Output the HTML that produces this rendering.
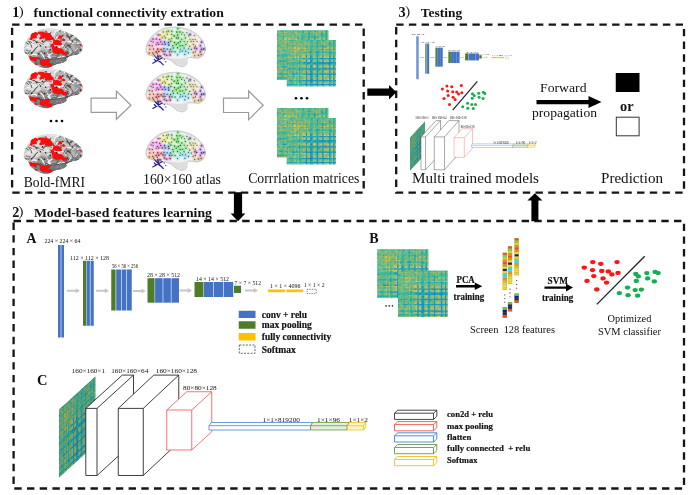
<!DOCTYPE html><html><head><meta charset="utf-8"><title>Figure</title>
<style>html,body{margin:0;padding:0;background:#fff}svg{display:block;filter:blur(0.4px)}text{font-family:'Liberation Serif','Noto Serif CJK SC',serif;fill:#111}</style></head><body>
<svg width="692" height="495" viewBox="0 0 692 495">
<rect width="692" height="495" fill="#fff"/>
<defs>
<symbol id="hm" viewBox="0 0 36 36" preserveAspectRatio="none">
<rect width="36" height="36" fill="#3bb09c"/>
<rect x="0" y="0" width="2.05" height="1.05" fill="#8b7"/>
<rect x="2" y="0" width="1.05" height="1.05" fill="#5b9"/>
<rect x="3" y="0" width="1.05" height="1.05" fill="#1ab"/>
<rect x="4" y="0" width="1.05" height="1.05" fill="#4b9"/>
<rect x="5" y="0" width="1.05" height="1.05" fill="#5b8"/>
<rect x="6" y="0" width="1.05" height="1.05" fill="#3b9"/>
<rect x="7" y="0" width="2.05" height="1.05" fill="#8b7"/>
<rect x="9" y="0" width="1.05" height="1.05" fill="#5b8"/>
<rect x="10" y="0" width="1.05" height="1.05" fill="#9b7"/>
<rect x="11" y="0" width="2.05" height="1.05" fill="#4b9"/>
<rect x="13" y="0" width="1.05" height="1.05" fill="#8b7"/>
<rect x="14" y="0" width="1.05" height="1.05" fill="#3b9"/>
<rect x="15" y="0" width="1.05" height="1.05" fill="#3ba"/>
<rect x="16" y="0" width="1.05" height="1.05" fill="#6b8"/>
<rect x="17" y="0" width="1.05" height="1.05" fill="#3b9"/>
<rect x="18" y="0" width="1.05" height="1.05" fill="#2aa"/>
<rect x="19" y="0" width="1.05" height="1.05" fill="#4b9"/>
<rect x="20" y="0" width="1.05" height="1.05" fill="#8b7"/>
<rect x="21" y="0" width="1.05" height="1.05" fill="#5b9"/>
<rect x="22" y="0" width="1.05" height="1.05" fill="#3ba"/>
<rect x="23" y="0" width="1.05" height="1.05" fill="#2ab"/>
<rect x="24" y="0" width="1.05" height="1.05" fill="#4b9"/>
<rect x="25" y="0" width="1.05" height="1.05" fill="#8b7"/>
<rect x="26" y="0" width="1.05" height="1.05" fill="#19c"/>
<rect x="27" y="0" width="1.05" height="1.05" fill="#6b8"/>
<rect x="28" y="0" width="1.05" height="1.05" fill="#5b8"/>
<rect x="29" y="0" width="1.05" height="1.05" fill="#9b7"/>
<rect x="30" y="0" width="1.05" height="1.05" fill="#7b8"/>
<rect x="31" y="0" width="1.05" height="1.05" fill="#7b7"/>
<rect x="32" y="0" width="2.05" height="1.05" fill="#7b8"/>
<rect x="34" y="0" width="1.05" height="1.05" fill="#1ab"/>
<rect x="35" y="0" width="1.05" height="1.05" fill="#5b8"/>
<rect x="0" y="1" width="1.05" height="1.05" fill="#8b7"/>
<rect x="1" y="1" width="1.05" height="1.05" fill="#9b7"/>
<rect x="2" y="1" width="2.05" height="1.05" fill="#8b7"/>
<rect x="4" y="1" width="1.05" height="1.05" fill="#6b8"/>
<rect x="5" y="1" width="2.05" height="1.05" fill="#ab6"/>
<rect x="7" y="1" width="1.05" height="1.05" fill="#9b6"/>
<rect x="8" y="1" width="1.05" height="1.05" fill="#7b7"/>
<rect x="9" y="1" width="1.05" height="1.05" fill="#9b6"/>
<rect x="10" y="1" width="2.05" height="1.05" fill="#4b9"/>
<rect x="12" y="1" width="2.05" height="1.05" fill="#bb6"/>
<rect x="14" y="1" width="1.05" height="1.05" fill="#7b7"/>
<rect x="15" y="1" width="1.05" height="1.05" fill="#6b8"/>
<rect x="16" y="1" width="1.05" height="1.05" fill="#7b7"/>
<rect x="17" y="1" width="1.05" height="1.05" fill="#9b6"/>
<rect x="18" y="1" width="1.05" height="1.05" fill="#1ab"/>
<rect x="19" y="1" width="1.05" height="1.05" fill="#ab6"/>
<rect x="20" y="1" width="1.05" height="1.05" fill="#9b7"/>
<rect x="21" y="1" width="1.05" height="1.05" fill="#7b7"/>
<rect x="22" y="1" width="1.05" height="1.05" fill="#3ba"/>
<rect x="23" y="1" width="1.05" height="1.05" fill="#7b7"/>
<rect x="24" y="1" width="1.05" height="1.05" fill="#9b7"/>
<rect x="25" y="1" width="1.05" height="1.05" fill="#ab6"/>
<rect x="26" y="1" width="1.05" height="1.05" fill="#8b7"/>
<rect x="27" y="1" width="1.05" height="1.05" fill="#9b6"/>
<rect x="28" y="1" width="1.05" height="1.05" fill="#4b9"/>
<rect x="29" y="1" width="1.05" height="1.05" fill="#bb6"/>
<rect x="30" y="1" width="1.05" height="1.05" fill="#ab6"/>
<rect x="31" y="1" width="1.05" height="1.05" fill="#3b9"/>
<rect x="32" y="1" width="1.05" height="1.05" fill="#8b7"/>
<rect x="33" y="1" width="1.05" height="1.05" fill="#bb6"/>
<rect x="34" y="1" width="1.05" height="1.05" fill="#0ac"/>
<rect x="35" y="1" width="1.05" height="1.05" fill="#cb5"/>
<rect x="0" y="2" width="1.05" height="1.05" fill="#5b9"/>
<rect x="1" y="2" width="1.05" height="1.05" fill="#8b7"/>
<rect x="2" y="2" width="1.05" height="1.05" fill="#ab6"/>
<rect x="3" y="2" width="1.05" height="1.05" fill="#5b8"/>
<rect x="4" y="2" width="1.05" height="1.05" fill="#4b9"/>
<rect x="5" y="2" width="1.05" height="1.05" fill="#ab6"/>
<rect x="6" y="2" width="1.05" height="1.05" fill="#7b8"/>
<rect x="7" y="2" width="1.05" height="1.05" fill="#5b8"/>
<rect x="8" y="2" width="1.05" height="1.05" fill="#9b7"/>
<rect x="9" y="2" width="1.05" height="1.05" fill="#6b8"/>
<rect x="10" y="2" width="1.05" height="1.05" fill="#8b7"/>
<rect x="11" y="2" width="1.05" height="1.05" fill="#5b9"/>
<rect x="12" y="2" width="1.05" height="1.05" fill="#5b8"/>
<rect x="13" y="2" width="1.05" height="1.05" fill="#ab6"/>
<rect x="14" y="2" width="1.05" height="1.05" fill="#bb6"/>
<rect x="15" y="2" width="1.05" height="1.05" fill="#7b8"/>
<rect x="16" y="2" width="1.05" height="1.05" fill="#ab6"/>
<rect x="17" y="2" width="1.05" height="1.05" fill="#4b9"/>
<rect x="18" y="2" width="1.05" height="1.05" fill="#6b8"/>
<rect x="19" y="2" width="1.05" height="1.05" fill="#7b8"/>
<rect x="20" y="2" width="2.05" height="1.05" fill="#6b8"/>
<rect x="22" y="2" width="1.05" height="1.05" fill="#18c"/>
<rect x="23" y="2" width="1.05" height="1.05" fill="#7b8"/>
<rect x="24" y="2" width="1.05" height="1.05" fill="#3ba"/>
<rect x="25" y="2" width="1.05" height="1.05" fill="#7b8"/>
<rect x="26" y="2" width="1.05" height="1.05" fill="#6b8"/>
<rect x="27" y="2" width="1.05" height="1.05" fill="#ab6"/>
<rect x="28" y="2" width="1.05" height="1.05" fill="#7b8"/>
<rect x="29" y="2" width="1.05" height="1.05" fill="#8b7"/>
<rect x="30" y="2" width="1.05" height="1.05" fill="#4b9"/>
<rect x="31" y="2" width="1.05" height="1.05" fill="#2ab"/>
<rect x="32" y="2" width="1.05" height="1.05" fill="#6b8"/>
<rect x="33" y="2" width="1.05" height="1.05" fill="#8b7"/>
<rect x="34" y="2" width="1.05" height="1.05" fill="#1ab"/>
<rect x="35" y="2" width="1.05" height="1.05" fill="#6b8"/>
<rect x="0" y="3" width="1.05" height="1.05" fill="#1ab"/>
<rect x="1" y="3" width="1.05" height="1.05" fill="#8b7"/>
<rect x="2" y="3" width="1.05" height="1.05" fill="#5b8"/>
<rect x="3" y="3" width="1.05" height="1.05" fill="#db4"/>
<rect x="4" y="3" width="2.05" height="1.05" fill="#8b7"/>
<rect x="6" y="3" width="1.05" height="1.05" fill="#bb6"/>
<rect x="7" y="3" width="1.05" height="1.05" fill="#6b8"/>
<rect x="8" y="3" width="1.05" height="1.05" fill="#9b6"/>
<rect x="9" y="3" width="1.05" height="1.05" fill="#ab6"/>
<rect x="10" y="3" width="1.05" height="1.05" fill="#8b7"/>
<rect x="11" y="3" width="1.05" height="1.05" fill="#bb6"/>
<rect x="12" y="3" width="1.05" height="1.05" fill="#5b8"/>
<rect x="13" y="3" width="1.05" height="1.05" fill="#bb6"/>
<rect x="14" y="3" width="1.05" height="1.05" fill="#6b8"/>
<rect x="15" y="3" width="1.05" height="1.05" fill="#9b7"/>
<rect x="16" y="3" width="1.05" height="1.05" fill="#ab6"/>
<rect x="17" y="3" width="2.05" height="1.05" fill="#4b9"/>
<rect x="19" y="3" width="1.05" height="1.05" fill="#6b8"/>
<rect x="20" y="3" width="1.05" height="1.05" fill="#7b7"/>
<rect x="21" y="3" width="1.05" height="1.05" fill="#9b7"/>
<rect x="22" y="3" width="1.05" height="1.05" fill="#3ba"/>
<rect x="23" y="3" width="1.05" height="1.05" fill="#8b7"/>
<rect x="24" y="3" width="1.05" height="1.05" fill="#7b7"/>
<rect x="25" y="3" width="1.05" height="1.05" fill="#8b7"/>
<rect x="26" y="3" width="1.05" height="1.05" fill="#5b8"/>
<rect x="27" y="3" width="1.05" height="1.05" fill="#bb6"/>
<rect x="28" y="3" width="1.05" height="1.05" fill="#7b7"/>
<rect x="29" y="3" width="1.05" height="1.05" fill="#ab6"/>
<rect x="30" y="3" width="1.05" height="1.05" fill="#9b6"/>
<rect x="31" y="3" width="1.05" height="1.05" fill="#09c"/>
<rect x="32" y="3" width="1.05" height="1.05" fill="#7b7"/>
<rect x="33" y="3" width="1.05" height="1.05" fill="#4b9"/>
<rect x="34" y="3" width="1.05" height="1.05" fill="#1ab"/>
<rect x="35" y="3" width="1.05" height="1.05" fill="#bb6"/>
<rect x="0" y="4" width="1.05" height="1.05" fill="#4b9"/>
<rect x="1" y="4" width="1.05" height="1.05" fill="#6b8"/>
<rect x="2" y="4" width="1.05" height="1.05" fill="#4b9"/>
<rect x="3" y="4" width="1.05" height="1.05" fill="#8b7"/>
<rect x="4" y="4" width="1.05" height="1.05" fill="#1ab"/>
<rect x="5" y="4" width="1.05" height="1.05" fill="#6b8"/>
<rect x="6" y="4" width="1.05" height="1.05" fill="#2ba"/>
<rect x="7" y="4" width="1.05" height="1.05" fill="#9b6"/>
<rect x="8" y="4" width="1.05" height="1.05" fill="#8b7"/>
<rect x="9" y="4" width="1.05" height="1.05" fill="#3b9"/>
<rect x="10" y="4" width="1.05" height="1.05" fill="#7b7"/>
<rect x="11" y="4" width="1.05" height="1.05" fill="#ab6"/>
<rect x="12" y="4" width="1.05" height="1.05" fill="#3b9"/>
<rect x="13" y="4" width="1.05" height="1.05" fill="#8b7"/>
<rect x="14" y="4" width="1.05" height="1.05" fill="#4b9"/>
<rect x="15" y="4" width="2.05" height="1.05" fill="#7b8"/>
<rect x="17" y="4" width="1.05" height="1.05" fill="#4b9"/>
<rect x="18" y="4" width="1.05" height="1.05" fill="#2ba"/>
<rect x="19" y="4" width="1.05" height="1.05" fill="#4b9"/>
<rect x="20" y="4" width="1.05" height="1.05" fill="#6b8"/>
<rect x="21" y="4" width="1.05" height="1.05" fill="#4b9"/>
<rect x="22" y="4" width="1.05" height="1.05" fill="#1ab"/>
<rect x="23" y="4" width="1.05" height="1.05" fill="#5b9"/>
<rect x="24" y="4" width="1.05" height="1.05" fill="#3b9"/>
<rect x="25" y="4" width="1.05" height="1.05" fill="#2ba"/>
<rect x="26" y="4" width="1.05" height="1.05" fill="#19c"/>
<rect x="27" y="4" width="1.05" height="1.05" fill="#6b8"/>
<rect x="28" y="4" width="1.05" height="1.05" fill="#5b9"/>
<rect x="29" y="4" width="1.05" height="1.05" fill="#3ba"/>
<rect x="30" y="4" width="3.05" height="1.05" fill="#4b9"/>
<rect x="33" y="4" width="2.05" height="1.05" fill="#3ba"/>
<rect x="35" y="4" width="1.05" height="1.05" fill="#4b9"/>
<rect x="0" y="5" width="1.05" height="1.05" fill="#5b8"/>
<rect x="1" y="5" width="2.05" height="1.05" fill="#ab6"/>
<rect x="3" y="5" width="1.05" height="1.05" fill="#8b7"/>
<rect x="4" y="5" width="1.05" height="1.05" fill="#6b8"/>
<rect x="5" y="5" width="1.05" height="1.05" fill="#db4"/>
<rect x="6" y="5" width="1.05" height="1.05" fill="#fc3"/>
<rect x="7" y="5" width="1.05" height="1.05" fill="#6b8"/>
<rect x="8" y="5" width="1.05" height="1.05" fill="#db5"/>
<rect x="9" y="5" width="1.05" height="1.05" fill="#8b7"/>
<rect x="10" y="5" width="1.05" height="1.05" fill="#bb6"/>
<rect x="11" y="5" width="1.05" height="1.05" fill="#9b7"/>
<rect x="12" y="5" width="1.05" height="1.05" fill="#8b7"/>
<rect x="13" y="5" width="1.05" height="1.05" fill="#bb6"/>
<rect x="14" y="5" width="1.05" height="1.05" fill="#1ab"/>
<rect x="15" y="5" width="2.05" height="1.05" fill="#8b7"/>
<rect x="17" y="5" width="1.05" height="1.05" fill="#3ba"/>
<rect x="18" y="5" width="1.05" height="1.05" fill="#3b9"/>
<rect x="19" y="5" width="1.05" height="1.05" fill="#6b8"/>
<rect x="20" y="5" width="1.05" height="1.05" fill="#8b7"/>
<rect x="21" y="5" width="1.05" height="1.05" fill="#7b7"/>
<rect x="22" y="5" width="1.05" height="1.05" fill="#2aa"/>
<rect x="23" y="5" width="1.05" height="1.05" fill="#ab6"/>
<rect x="24" y="5" width="1.05" height="1.05" fill="#5b9"/>
<rect x="25" y="5" width="1.05" height="1.05" fill="#8b7"/>
<rect x="26" y="5" width="1.05" height="1.05" fill="#19c"/>
<rect x="27" y="5" width="1.05" height="1.05" fill="#7b7"/>
<rect x="28" y="5" width="1.05" height="1.05" fill="#1ab"/>
<rect x="29" y="5" width="2.05" height="1.05" fill="#cb6"/>
<rect x="31" y="5" width="1.05" height="1.05" fill="#4b9"/>
<rect x="32" y="5" width="1.05" height="1.05" fill="#7b7"/>
<rect x="33" y="5" width="1.05" height="1.05" fill="#db5"/>
<rect x="34" y="5" width="1.05" height="1.05" fill="#1ab"/>
<rect x="35" y="5" width="1.05" height="1.05" fill="#db4"/>
<rect x="0" y="6" width="1.05" height="1.05" fill="#3b9"/>
<rect x="1" y="6" width="1.05" height="1.05" fill="#ab6"/>
<rect x="2" y="6" width="1.05" height="1.05" fill="#7b8"/>
<rect x="3" y="6" width="1.05" height="1.05" fill="#bb6"/>
<rect x="4" y="6" width="1.05" height="1.05" fill="#2ba"/>
<rect x="5" y="6" width="1.05" height="1.05" fill="#fc3"/>
<rect x="6" y="6" width="1.05" height="1.05" fill="#db5"/>
<rect x="7" y="6" width="1.05" height="1.05" fill="#6b8"/>
<rect x="8" y="6" width="1.05" height="1.05" fill="#fc3"/>
<rect x="9" y="6" width="2.05" height="1.05" fill="#ab6"/>
<rect x="11" y="6" width="1.05" height="1.05" fill="#9b7"/>
<rect x="12" y="6" width="1.05" height="1.05" fill="#ab6"/>
<rect x="13" y="6" width="1.05" height="1.05" fill="#fc3"/>
<rect x="14" y="6" width="1.05" height="1.05" fill="#6b8"/>
<rect x="15" y="6" width="1.05" height="1.05" fill="#8b7"/>
<rect x="16" y="6" width="1.05" height="1.05" fill="#9b7"/>
<rect x="17" y="6" width="1.05" height="1.05" fill="#2aa"/>
<rect x="18" y="6" width="2.05" height="1.05" fill="#6b8"/>
<rect x="20" y="6" width="1.05" height="1.05" fill="#ab6"/>
<rect x="21" y="6" width="2.05" height="1.05" fill="#4b9"/>
<rect x="23" y="6" width="1.05" height="1.05" fill="#8b7"/>
<rect x="24" y="6" width="1.05" height="1.05" fill="#ab6"/>
<rect x="25" y="6" width="1.05" height="1.05" fill="#bb6"/>
<rect x="26" y="6" width="1.05" height="1.05" fill="#1ab"/>
<rect x="27" y="6" width="1.05" height="1.05" fill="#eb4"/>
<rect x="28" y="6" width="1.05" height="1.05" fill="#ab6"/>
<rect x="29" y="6" width="2.05" height="1.05" fill="#bb6"/>
<rect x="31" y="6" width="1.05" height="1.05" fill="#2ba"/>
<rect x="32" y="6" width="1.05" height="1.05" fill="#cb5"/>
<rect x="33" y="6" width="1.05" height="1.05" fill="#bb6"/>
<rect x="34" y="6" width="1.05" height="1.05" fill="#1ab"/>
<rect x="35" y="6" width="1.05" height="1.05" fill="#ab6"/>
<rect x="0" y="7" width="1.05" height="1.05" fill="#8b7"/>
<rect x="1" y="7" width="1.05" height="1.05" fill="#9b6"/>
<rect x="2" y="7" width="1.05" height="1.05" fill="#5b8"/>
<rect x="3" y="7" width="1.05" height="1.05" fill="#6b8"/>
<rect x="4" y="7" width="1.05" height="1.05" fill="#9b6"/>
<rect x="5" y="7" width="2.05" height="1.05" fill="#6b8"/>
<rect x="7" y="7" width="1.05" height="1.05" fill="#cb5"/>
<rect x="8" y="7" width="1.05" height="1.05" fill="#8b7"/>
<rect x="9" y="7" width="1.05" height="1.05" fill="#ab6"/>
<rect x="10" y="7" width="1.05" height="1.05" fill="#3b9"/>
<rect x="11" y="7" width="2.05" height="1.05" fill="#4b9"/>
<rect x="13" y="7" width="1.05" height="1.05" fill="#ab6"/>
<rect x="14" y="7" width="1.05" height="1.05" fill="#2ba"/>
<rect x="15" y="7" width="1.05" height="1.05" fill="#6b8"/>
<rect x="16" y="7" width="1.05" height="1.05" fill="#4b9"/>
<rect x="17" y="7" width="1.05" height="1.05" fill="#6b8"/>
<rect x="18" y="7" width="1.05" height="1.05" fill="#3b9"/>
<rect x="19" y="7" width="1.05" height="1.05" fill="#5b9"/>
<rect x="20" y="7" width="2.05" height="1.05" fill="#6b8"/>
<rect x="22" y="7" width="1.05" height="1.05" fill="#7b8"/>
<rect x="23" y="7" width="1.05" height="1.05" fill="#5b8"/>
<rect x="24" y="7" width="1.05" height="1.05" fill="#6b8"/>
<rect x="25" y="7" width="1.05" height="1.05" fill="#0ac"/>
<rect x="26" y="7" width="1.05" height="1.05" fill="#2ab"/>
<rect x="27" y="7" width="1.05" height="1.05" fill="#bb6"/>
<rect x="28" y="7" width="1.05" height="1.05" fill="#4b9"/>
<rect x="29" y="7" width="1.05" height="1.05" fill="#7b7"/>
<rect x="30" y="7" width="1.05" height="1.05" fill="#4b9"/>
<rect x="31" y="7" width="1.05" height="1.05" fill="#3ba"/>
<rect x="32" y="7" width="2.05" height="1.05" fill="#5b8"/>
<rect x="34" y="7" width="1.05" height="1.05" fill="#3ba"/>
<rect x="35" y="7" width="1.05" height="1.05" fill="#6b8"/>
<rect x="0" y="8" width="1.05" height="1.05" fill="#8b7"/>
<rect x="1" y="8" width="1.05" height="1.05" fill="#7b7"/>
<rect x="2" y="8" width="1.05" height="1.05" fill="#9b7"/>
<rect x="3" y="8" width="1.05" height="1.05" fill="#9b6"/>
<rect x="4" y="8" width="1.05" height="1.05" fill="#8b7"/>
<rect x="5" y="8" width="1.05" height="1.05" fill="#db5"/>
<rect x="6" y="8" width="1.05" height="1.05" fill="#fc3"/>
<rect x="7" y="8" width="1.05" height="1.05" fill="#8b7"/>
<rect x="8" y="8" width="1.05" height="1.05" fill="#fc3"/>
<rect x="9" y="8" width="1.05" height="1.05" fill="#6b8"/>
<rect x="10" y="8" width="1.05" height="1.05" fill="#9b7"/>
<rect x="11" y="8" width="1.05" height="1.05" fill="#8b7"/>
<rect x="12" y="8" width="1.05" height="1.05" fill="#bb6"/>
<rect x="13" y="8" width="1.05" height="1.05" fill="#fc3"/>
<rect x="14" y="8" width="1.05" height="1.05" fill="#bb6"/>
<rect x="15" y="8" width="1.05" height="1.05" fill="#cb6"/>
<rect x="16" y="8" width="1.05" height="1.05" fill="#ab6"/>
<rect x="17" y="8" width="1.05" height="1.05" fill="#3ba"/>
<rect x="18" y="8" width="1.05" height="1.05" fill="#2aa"/>
<rect x="19" y="8" width="1.05" height="1.05" fill="#cb5"/>
<rect x="20" y="8" width="1.05" height="1.05" fill="#9b6"/>
<rect x="21" y="8" width="1.05" height="1.05" fill="#9b7"/>
<rect x="22" y="8" width="1.05" height="1.05" fill="#3b9"/>
<rect x="23" y="8" width="1.05" height="1.05" fill="#7b7"/>
<rect x="24" y="8" width="1.05" height="1.05" fill="#ab6"/>
<rect x="25" y="8" width="1.05" height="1.05" fill="#db5"/>
<rect x="26" y="8" width="1.05" height="1.05" fill="#3b9"/>
<rect x="27" y="8" width="1.05" height="1.05" fill="#cb5"/>
<rect x="28" y="8" width="1.05" height="1.05" fill="#ab6"/>
<rect x="29" y="8" width="1.05" height="1.05" fill="#bb6"/>
<rect x="30" y="8" width="1.05" height="1.05" fill="#ab6"/>
<rect x="31" y="8" width="1.05" height="1.05" fill="#3ba"/>
<rect x="32" y="8" width="1.05" height="1.05" fill="#ab6"/>
<rect x="33" y="8" width="1.05" height="1.05" fill="#eb4"/>
<rect x="34" y="8" width="1.05" height="1.05" fill="#4b9"/>
<rect x="35" y="8" width="1.05" height="1.05" fill="#fc3"/>
<rect x="0" y="9" width="1.05" height="1.05" fill="#5b8"/>
<rect x="1" y="9" width="1.05" height="1.05" fill="#9b6"/>
<rect x="2" y="9" width="1.05" height="1.05" fill="#6b8"/>
<rect x="3" y="9" width="1.05" height="1.05" fill="#ab6"/>
<rect x="4" y="9" width="1.05" height="1.05" fill="#3b9"/>
<rect x="5" y="9" width="1.05" height="1.05" fill="#8b7"/>
<rect x="6" y="9" width="2.05" height="1.05" fill="#ab6"/>
<rect x="8" y="9" width="1.05" height="1.05" fill="#6b8"/>
<rect x="9" y="9" width="1.05" height="1.05" fill="#4b9"/>
<rect x="10" y="9" width="1.05" height="1.05" fill="#7b7"/>
<rect x="11" y="9" width="1.05" height="1.05" fill="#8b7"/>
<rect x="12" y="9" width="1.05" height="1.05" fill="#5b8"/>
<rect x="13" y="9" width="1.05" height="1.05" fill="#3ba"/>
<rect x="14" y="9" width="1.05" height="1.05" fill="#1ab"/>
<rect x="15" y="9" width="1.05" height="1.05" fill="#8b7"/>
<rect x="16" y="9" width="1.05" height="1.05" fill="#2aa"/>
<rect x="17" y="9" width="1.05" height="1.05" fill="#19c"/>
<rect x="18" y="9" width="1.05" height="1.05" fill="#3b9"/>
<rect x="19" y="9" width="1.05" height="1.05" fill="#7b7"/>
<rect x="20" y="9" width="1.05" height="1.05" fill="#5b8"/>
<rect x="21" y="9" width="1.05" height="1.05" fill="#2ab"/>
<rect x="22" y="9" width="1.05" height="1.05" fill="#18c"/>
<rect x="23" y="9" width="1.05" height="1.05" fill="#19c"/>
<rect x="24" y="9" width="1.05" height="1.05" fill="#4b9"/>
<rect x="25" y="9" width="1.05" height="1.05" fill="#2ba"/>
<rect x="26" y="9" width="1.05" height="1.05" fill="#2aa"/>
<rect x="27" y="9" width="1.05" height="1.05" fill="#4b9"/>
<rect x="28" y="9" width="1.05" height="1.05" fill="#2ab"/>
<rect x="29" y="9" width="2.05" height="1.05" fill="#3b9"/>
<rect x="31" y="9" width="2.05" height="1.05" fill="#1ab"/>
<rect x="33" y="9" width="3.05" height="1.05" fill="#4b9"/>
<rect x="0" y="10" width="1.05" height="1.05" fill="#9b7"/>
<rect x="1" y="10" width="1.05" height="1.05" fill="#4b9"/>
<rect x="2" y="10" width="2.05" height="1.05" fill="#8b7"/>
<rect x="4" y="10" width="1.05" height="1.05" fill="#7b7"/>
<rect x="5" y="10" width="1.05" height="1.05" fill="#bb6"/>
<rect x="6" y="10" width="1.05" height="1.05" fill="#ab6"/>
<rect x="7" y="10" width="1.05" height="1.05" fill="#3b9"/>
<rect x="8" y="10" width="1.05" height="1.05" fill="#9b7"/>
<rect x="9" y="10" width="2.05" height="1.05" fill="#7b7"/>
<rect x="11" y="10" width="1.05" height="1.05" fill="#8b7"/>
<rect x="12" y="10" width="1.05" height="1.05" fill="#6b8"/>
<rect x="13" y="10" width="1.05" height="1.05" fill="#ab6"/>
<rect x="14" y="10" width="1.05" height="1.05" fill="#6b8"/>
<rect x="15" y="10" width="1.05" height="1.05" fill="#bb6"/>
<rect x="16" y="10" width="1.05" height="1.05" fill="#4b9"/>
<rect x="17" y="10" width="1.05" height="1.05" fill="#6b8"/>
<rect x="18" y="10" width="1.05" height="1.05" fill="#3ba"/>
<rect x="19" y="10" width="1.05" height="1.05" fill="#8b7"/>
<rect x="20" y="10" width="1.05" height="1.05" fill="#ab6"/>
<rect x="21" y="10" width="1.05" height="1.05" fill="#5b8"/>
<rect x="22" y="10" width="1.05" height="1.05" fill="#4b9"/>
<rect x="23" y="10" width="1.05" height="1.05" fill="#7b7"/>
<rect x="24" y="10" width="1.05" height="1.05" fill="#ab6"/>
<rect x="25" y="10" width="1.05" height="1.05" fill="#7b7"/>
<rect x="26" y="10" width="1.05" height="1.05" fill="#7b8"/>
<rect x="27" y="10" width="2.05" height="1.05" fill="#9b7"/>
<rect x="29" y="10" width="2.05" height="1.05" fill="#8b7"/>
<rect x="31" y="10" width="1.05" height="1.05" fill="#1ab"/>
<rect x="32" y="10" width="1.05" height="1.05" fill="#2ba"/>
<rect x="33" y="10" width="1.05" height="1.05" fill="#7b7"/>
<rect x="34" y="10" width="1.05" height="1.05" fill="#1ab"/>
<rect x="35" y="10" width="1.05" height="1.05" fill="#8b7"/>
<rect x="0" y="11" width="2.05" height="1.05" fill="#4b9"/>
<rect x="2" y="11" width="1.05" height="1.05" fill="#5b9"/>
<rect x="3" y="11" width="1.05" height="1.05" fill="#bb6"/>
<rect x="4" y="11" width="1.05" height="1.05" fill="#ab6"/>
<rect x="5" y="11" width="2.05" height="1.05" fill="#9b7"/>
<rect x="7" y="11" width="1.05" height="1.05" fill="#4b9"/>
<rect x="8" y="11" width="3.05" height="1.05" fill="#8b7"/>
<rect x="11" y="11" width="1.05" height="1.05" fill="#9b6"/>
<rect x="12" y="11" width="1.05" height="1.05" fill="#db5"/>
<rect x="13" y="11" width="1.05" height="1.05" fill="#9b7"/>
<rect x="14" y="11" width="1.05" height="1.05" fill="#3ba"/>
<rect x="15" y="11" width="2.05" height="1.05" fill="#cb5"/>
<rect x="17" y="11" width="1.05" height="1.05" fill="#2ba"/>
<rect x="18" y="11" width="1.05" height="1.05" fill="#4b9"/>
<rect x="19" y="11" width="1.05" height="1.05" fill="#9b7"/>
<rect x="20" y="11" width="1.05" height="1.05" fill="#ab6"/>
<rect x="21" y="11" width="1.05" height="1.05" fill="#6b8"/>
<rect x="22" y="11" width="1.05" height="1.05" fill="#2aa"/>
<rect x="23" y="11" width="1.05" height="1.05" fill="#3ba"/>
<rect x="24" y="11" width="1.05" height="1.05" fill="#5b8"/>
<rect x="25" y="11" width="1.05" height="1.05" fill="#8b7"/>
<rect x="26" y="11" width="1.05" height="1.05" fill="#5b8"/>
<rect x="27" y="11" width="1.05" height="1.05" fill="#ab6"/>
<rect x="28" y="11" width="1.05" height="1.05" fill="#7b8"/>
<rect x="29" y="11" width="1.05" height="1.05" fill="#6b8"/>
<rect x="30" y="11" width="1.05" height="1.05" fill="#ab6"/>
<rect x="31" y="11" width="1.05" height="1.05" fill="#3b9"/>
<rect x="32" y="11" width="1.05" height="1.05" fill="#8b7"/>
<rect x="33" y="11" width="1.05" height="1.05" fill="#ab6"/>
<rect x="34" y="11" width="1.05" height="1.05" fill="#2ab"/>
<rect x="35" y="11" width="1.05" height="1.05" fill="#bb6"/>
<rect x="0" y="12" width="1.05" height="1.05" fill="#4b9"/>
<rect x="1" y="12" width="1.05" height="1.05" fill="#bb6"/>
<rect x="2" y="12" width="2.05" height="1.05" fill="#5b8"/>
<rect x="4" y="12" width="1.05" height="1.05" fill="#3b9"/>
<rect x="5" y="12" width="1.05" height="1.05" fill="#8b7"/>
<rect x="6" y="12" width="1.05" height="1.05" fill="#ab6"/>
<rect x="7" y="12" width="1.05" height="1.05" fill="#4b9"/>
<rect x="8" y="12" width="1.05" height="1.05" fill="#bb6"/>
<rect x="9" y="12" width="1.05" height="1.05" fill="#5b8"/>
<rect x="10" y="12" width="1.05" height="1.05" fill="#6b8"/>
<rect x="11" y="12" width="1.05" height="1.05" fill="#db5"/>
<rect x="12" y="12" width="1.05" height="1.05" fill="#ec3"/>
<rect x="13" y="12" width="1.05" height="1.05" fill="#eb4"/>
<rect x="14" y="12" width="1.05" height="1.05" fill="#18c"/>
<rect x="15" y="12" width="2.05" height="1.05" fill="#cb5"/>
<rect x="17" y="12" width="1.05" height="1.05" fill="#09c"/>
<rect x="18" y="12" width="1.05" height="1.05" fill="#3ba"/>
<rect x="19" y="12" width="1.05" height="1.05" fill="#9b7"/>
<rect x="20" y="12" width="1.05" height="1.05" fill="#ab6"/>
<rect x="21" y="12" width="1.05" height="1.05" fill="#8b7"/>
<rect x="22" y="12" width="1.05" height="1.05" fill="#19c"/>
<rect x="23" y="12" width="1.05" height="1.05" fill="#ab6"/>
<rect x="24" y="12" width="1.05" height="1.05" fill="#bb6"/>
<rect x="25" y="12" width="1.05" height="1.05" fill="#db5"/>
<rect x="26" y="12" width="1.05" height="1.05" fill="#19c"/>
<rect x="27" y="12" width="1.05" height="1.05" fill="#cb6"/>
<rect x="28" y="12" width="1.05" height="1.05" fill="#bb6"/>
<rect x="29" y="12" width="2.05" height="1.05" fill="#ab6"/>
<rect x="31" y="12" width="1.05" height="1.05" fill="#17d"/>
<rect x="32" y="12" width="1.05" height="1.05" fill="#bb6"/>
<rect x="33" y="12" width="1.05" height="1.05" fill="#9b7"/>
<rect x="34" y="12" width="1.05" height="1.05" fill="#1ac"/>
<rect x="35" y="12" width="1.05" height="1.05" fill="#cb5"/>
<rect x="0" y="13" width="1.05" height="1.05" fill="#8b7"/>
<rect x="1" y="13" width="1.05" height="1.05" fill="#bb6"/>
<rect x="2" y="13" width="1.05" height="1.05" fill="#ab6"/>
<rect x="3" y="13" width="1.05" height="1.05" fill="#bb6"/>
<rect x="4" y="13" width="1.05" height="1.05" fill="#8b7"/>
<rect x="5" y="13" width="1.05" height="1.05" fill="#bb6"/>
<rect x="6" y="13" width="1.05" height="1.05" fill="#fc3"/>
<rect x="7" y="13" width="1.05" height="1.05" fill="#ab6"/>
<rect x="8" y="13" width="1.05" height="1.05" fill="#fc3"/>
<rect x="9" y="13" width="1.05" height="1.05" fill="#3ba"/>
<rect x="10" y="13" width="1.05" height="1.05" fill="#ab6"/>
<rect x="11" y="13" width="1.05" height="1.05" fill="#9b7"/>
<rect x="12" y="13" width="1.05" height="1.05" fill="#eb4"/>
<rect x="13" y="13" width="1.05" height="1.05" fill="#fc3"/>
<rect x="14" y="13" width="1.05" height="1.05" fill="#19c"/>
<rect x="15" y="13" width="1.05" height="1.05" fill="#fc3"/>
<rect x="16" y="13" width="1.05" height="1.05" fill="#db4"/>
<rect x="17" y="13" width="1.05" height="1.05" fill="#09c"/>
<rect x="18" y="13" width="1.05" height="1.05" fill="#1ab"/>
<rect x="19" y="13" width="1.05" height="1.05" fill="#cb5"/>
<rect x="20" y="13" width="1.05" height="1.05" fill="#eb4"/>
<rect x="21" y="13" width="1.05" height="1.05" fill="#9b7"/>
<rect x="22" y="13" width="1.05" height="1.05" fill="#2aa"/>
<rect x="23" y="13" width="1.05" height="1.05" fill="#bb6"/>
<rect x="24" y="13" width="1.05" height="1.05" fill="#9b7"/>
<rect x="25" y="13" width="1.05" height="1.05" fill="#cb5"/>
<rect x="26" y="13" width="1.05" height="1.05" fill="#1ac"/>
<rect x="27" y="13" width="1.05" height="1.05" fill="#fc3"/>
<rect x="28" y="13" width="1.05" height="1.05" fill="#bb6"/>
<rect x="29" y="13" width="1.05" height="1.05" fill="#cb5"/>
<rect x="30" y="13" width="1.05" height="1.05" fill="#fc3"/>
<rect x="31" y="13" width="1.05" height="1.05" fill="#0ac"/>
<rect x="32" y="13" width="2.05" height="1.05" fill="#ab6"/>
<rect x="34" y="13" width="1.05" height="1.05" fill="#09c"/>
<rect x="35" y="13" width="1.05" height="1.05" fill="#fc3"/>
<rect x="0" y="14" width="1.05" height="1.05" fill="#3b9"/>
<rect x="1" y="14" width="1.05" height="1.05" fill="#7b7"/>
<rect x="2" y="14" width="1.05" height="1.05" fill="#bb6"/>
<rect x="3" y="14" width="1.05" height="1.05" fill="#6b8"/>
<rect x="4" y="14" width="1.05" height="1.05" fill="#4b9"/>
<rect x="5" y="14" width="1.05" height="1.05" fill="#1ab"/>
<rect x="6" y="14" width="1.05" height="1.05" fill="#6b8"/>
<rect x="7" y="14" width="1.05" height="1.05" fill="#2ba"/>
<rect x="8" y="14" width="1.05" height="1.05" fill="#bb6"/>
<rect x="9" y="14" width="1.05" height="1.05" fill="#1ab"/>
<rect x="10" y="14" width="1.05" height="1.05" fill="#6b8"/>
<rect x="11" y="14" width="1.05" height="1.05" fill="#3ba"/>
<rect x="12" y="14" width="1.05" height="1.05" fill="#18c"/>
<rect x="13" y="14" width="1.05" height="1.05" fill="#19c"/>
<rect x="14" y="14" width="1.05" height="1.05" fill="#4b9"/>
<rect x="15" y="14" width="1.05" height="1.05" fill="#2aa"/>
<rect x="16" y="14" width="1.05" height="1.05" fill="#19c"/>
<rect x="17" y="14" width="1.05" height="1.05" fill="#0ac"/>
<rect x="18" y="14" width="1.05" height="1.05" fill="#2ab"/>
<rect x="19" y="14" width="1.05" height="1.05" fill="#19c"/>
<rect x="20" y="14" width="1.05" height="1.05" fill="#3ba"/>
<rect x="21" y="14" width="1.05" height="1.05" fill="#1ac"/>
<rect x="22" y="14" width="1.05" height="1.05" fill="#19c"/>
<rect x="23" y="14" width="1.05" height="1.05" fill="#2ab"/>
<rect x="24" y="14" width="1.05" height="1.05" fill="#19c"/>
<rect x="25" y="14" width="1.05" height="1.05" fill="#17d"/>
<rect x="26" y="14" width="2.05" height="1.05" fill="#19c"/>
<rect x="28" y="14" width="1.05" height="1.05" fill="#1ab"/>
<rect x="29" y="14" width="1.05" height="1.05" fill="#2ab"/>
<rect x="30" y="14" width="2.05" height="1.05" fill="#09c"/>
<rect x="32" y="14" width="1.05" height="1.05" fill="#18c"/>
<rect x="33" y="14" width="1.05" height="1.05" fill="#09c"/>
<rect x="34" y="14" width="1.05" height="1.05" fill="#19c"/>
<rect x="35" y="14" width="1.05" height="1.05" fill="#18c"/>
<rect x="0" y="15" width="1.05" height="1.05" fill="#3ba"/>
<rect x="1" y="15" width="1.05" height="1.05" fill="#6b8"/>
<rect x="2" y="15" width="1.05" height="1.05" fill="#7b8"/>
<rect x="3" y="15" width="1.05" height="1.05" fill="#9b7"/>
<rect x="4" y="15" width="1.05" height="1.05" fill="#7b8"/>
<rect x="5" y="15" width="2.05" height="1.05" fill="#8b7"/>
<rect x="7" y="15" width="1.05" height="1.05" fill="#6b8"/>
<rect x="8" y="15" width="1.05" height="1.05" fill="#cb6"/>
<rect x="9" y="15" width="1.05" height="1.05" fill="#8b7"/>
<rect x="10" y="15" width="1.05" height="1.05" fill="#bb6"/>
<rect x="11" y="15" width="2.05" height="1.05" fill="#cb5"/>
<rect x="13" y="15" width="1.05" height="1.05" fill="#fc3"/>
<rect x="14" y="15" width="1.05" height="1.05" fill="#2aa"/>
<rect x="15" y="15" width="1.05" height="1.05" fill="#9b7"/>
<rect x="16" y="15" width="1.05" height="1.05" fill="#fc3"/>
<rect x="17" y="15" width="2.05" height="1.05" fill="#19c"/>
<rect x="19" y="15" width="1.05" height="1.05" fill="#8b7"/>
<rect x="20" y="15" width="1.05" height="1.05" fill="#ab6"/>
<rect x="21" y="15" width="1.05" height="1.05" fill="#bb6"/>
<rect x="22" y="15" width="1.05" height="1.05" fill="#1ab"/>
<rect x="23" y="15" width="1.05" height="1.05" fill="#bb6"/>
<rect x="24" y="15" width="1.05" height="1.05" fill="#cb5"/>
<rect x="25" y="15" width="1.05" height="1.05" fill="#bb6"/>
<rect x="26" y="15" width="1.05" height="1.05" fill="#19c"/>
<rect x="27" y="15" width="1.05" height="1.05" fill="#cb5"/>
<rect x="28" y="15" width="1.05" height="1.05" fill="#ab6"/>
<rect x="29" y="15" width="1.05" height="1.05" fill="#cb5"/>
<rect x="30" y="15" width="1.05" height="1.05" fill="#ab6"/>
<rect x="31" y="15" width="1.05" height="1.05" fill="#18c"/>
<rect x="32" y="15" width="1.05" height="1.05" fill="#ab6"/>
<rect x="33" y="15" width="1.05" height="1.05" fill="#cb5"/>
<rect x="34" y="15" width="1.05" height="1.05" fill="#19c"/>
<rect x="35" y="15" width="1.05" height="1.05" fill="#db5"/>
<rect x="0" y="16" width="1.05" height="1.05" fill="#6b8"/>
<rect x="1" y="16" width="1.05" height="1.05" fill="#7b7"/>
<rect x="2" y="16" width="2.05" height="1.05" fill="#ab6"/>
<rect x="4" y="16" width="1.05" height="1.05" fill="#7b8"/>
<rect x="5" y="16" width="1.05" height="1.05" fill="#8b7"/>
<rect x="6" y="16" width="1.05" height="1.05" fill="#9b7"/>
<rect x="7" y="16" width="1.05" height="1.05" fill="#4b9"/>
<rect x="8" y="16" width="1.05" height="1.05" fill="#ab6"/>
<rect x="9" y="16" width="1.05" height="1.05" fill="#2aa"/>
<rect x="10" y="16" width="1.05" height="1.05" fill="#4b9"/>
<rect x="11" y="16" width="2.05" height="1.05" fill="#cb5"/>
<rect x="13" y="16" width="1.05" height="1.05" fill="#db4"/>
<rect x="14" y="16" width="1.05" height="1.05" fill="#19c"/>
<rect x="15" y="16" width="1.05" height="1.05" fill="#fc3"/>
<rect x="16" y="16" width="1.05" height="1.05" fill="#db5"/>
<rect x="17" y="16" width="1.05" height="1.05" fill="#19c"/>
<rect x="18" y="16" width="1.05" height="1.05" fill="#18c"/>
<rect x="19" y="16" width="1.05" height="1.05" fill="#cb5"/>
<rect x="20" y="16" width="1.05" height="1.05" fill="#db4"/>
<rect x="21" y="16" width="1.05" height="1.05" fill="#ab6"/>
<rect x="22" y="16" width="1.05" height="1.05" fill="#19c"/>
<rect x="23" y="16" width="1.05" height="1.05" fill="#6b8"/>
<rect x="24" y="16" width="1.05" height="1.05" fill="#8b7"/>
<rect x="25" y="16" width="1.05" height="1.05" fill="#db5"/>
<rect x="26" y="16" width="1.05" height="1.05" fill="#19c"/>
<rect x="27" y="16" width="1.05" height="1.05" fill="#9b7"/>
<rect x="28" y="16" width="1.05" height="1.05" fill="#eb4"/>
<rect x="29" y="16" width="1.05" height="1.05" fill="#db4"/>
<rect x="30" y="16" width="1.05" height="1.05" fill="#bb6"/>
<rect x="31" y="16" width="1.05" height="1.05" fill="#09c"/>
<rect x="32" y="16" width="1.05" height="1.05" fill="#8b7"/>
<rect x="33" y="16" width="1.05" height="1.05" fill="#cb5"/>
<rect x="34" y="16" width="1.05" height="1.05" fill="#1ab"/>
<rect x="35" y="16" width="1.05" height="1.05" fill="#bb6"/>
<rect x="0" y="17" width="1.05" height="1.05" fill="#3b9"/>
<rect x="1" y="17" width="1.05" height="1.05" fill="#9b6"/>
<rect x="2" y="17" width="3.05" height="1.05" fill="#4b9"/>
<rect x="5" y="17" width="1.05" height="1.05" fill="#3ba"/>
<rect x="6" y="17" width="1.05" height="1.05" fill="#2aa"/>
<rect x="7" y="17" width="1.05" height="1.05" fill="#6b8"/>
<rect x="8" y="17" width="1.05" height="1.05" fill="#3ba"/>
<rect x="9" y="17" width="1.05" height="1.05" fill="#19c"/>
<rect x="10" y="17" width="1.05" height="1.05" fill="#6b8"/>
<rect x="11" y="17" width="1.05" height="1.05" fill="#2ba"/>
<rect x="12" y="17" width="2.05" height="1.05" fill="#09c"/>
<rect x="14" y="17" width="1.05" height="1.05" fill="#0ac"/>
<rect x="15" y="17" width="2.05" height="1.05" fill="#19c"/>
<rect x="17" y="17" width="1.05" height="1.05" fill="#09c"/>
<rect x="18" y="17" width="1.05" height="1.05" fill="#2ba"/>
<rect x="19" y="17" width="1.05" height="1.05" fill="#3ba"/>
<rect x="20" y="17" width="1.05" height="1.05" fill="#09c"/>
<rect x="21" y="17" width="1.05" height="1.05" fill="#2ab"/>
<rect x="22" y="17" width="1.05" height="1.05" fill="#09c"/>
<rect x="23" y="17" width="1.05" height="1.05" fill="#1ab"/>
<rect x="24" y="17" width="1.05" height="1.05" fill="#19c"/>
<rect x="25" y="17" width="1.05" height="1.05" fill="#1ac"/>
<rect x="26" y="17" width="1.05" height="1.05" fill="#17d"/>
<rect x="27" y="17" width="1.05" height="1.05" fill="#2aa"/>
<rect x="28" y="17" width="1.05" height="1.05" fill="#0ac"/>
<rect x="29" y="17" width="1.05" height="1.05" fill="#19c"/>
<rect x="30" y="17" width="1.05" height="1.05" fill="#0ac"/>
<rect x="31" y="17" width="2.05" height="1.05" fill="#18c"/>
<rect x="33" y="17" width="1.05" height="1.05" fill="#0ac"/>
<rect x="34" y="17" width="1.05" height="1.05" fill="#19c"/>
<rect x="35" y="17" width="1.05" height="1.05" fill="#2ab"/>
<rect x="0" y="18" width="1.05" height="1.05" fill="#2aa"/>
<rect x="1" y="18" width="1.05" height="1.05" fill="#1ab"/>
<rect x="2" y="18" width="1.05" height="1.05" fill="#6b8"/>
<rect x="3" y="18" width="1.05" height="1.05" fill="#4b9"/>
<rect x="4" y="18" width="1.05" height="1.05" fill="#2ba"/>
<rect x="5" y="18" width="1.05" height="1.05" fill="#3b9"/>
<rect x="6" y="18" width="1.05" height="1.05" fill="#6b8"/>
<rect x="7" y="18" width="1.05" height="1.05" fill="#3b9"/>
<rect x="8" y="18" width="1.05" height="1.05" fill="#2aa"/>
<rect x="9" y="18" width="1.05" height="1.05" fill="#3b9"/>
<rect x="10" y="18" width="1.05" height="1.05" fill="#3ba"/>
<rect x="11" y="18" width="1.05" height="1.05" fill="#4b9"/>
<rect x="12" y="18" width="1.05" height="1.05" fill="#3ba"/>
<rect x="13" y="18" width="1.05" height="1.05" fill="#1ab"/>
<rect x="14" y="18" width="1.05" height="1.05" fill="#2ab"/>
<rect x="15" y="18" width="1.05" height="1.05" fill="#19c"/>
<rect x="16" y="18" width="1.05" height="1.05" fill="#18c"/>
<rect x="17" y="18" width="1.05" height="1.05" fill="#2ba"/>
<rect x="18" y="18" width="1.05" height="1.05" fill="#2ab"/>
<rect x="19" y="18" width="1.05" height="1.05" fill="#0ac"/>
<rect x="20" y="18" width="1.05" height="1.05" fill="#17d"/>
<rect x="21" y="18" width="1.05" height="1.05" fill="#1ab"/>
<rect x="22" y="18" width="2.05" height="1.05" fill="#19c"/>
<rect x="24" y="18" width="1.05" height="1.05" fill="#0ac"/>
<rect x="25" y="18" width="1.05" height="1.05" fill="#18d"/>
<rect x="26" y="18" width="1.05" height="1.05" fill="#18c"/>
<rect x="27" y="18" width="1.05" height="1.05" fill="#19c"/>
<rect x="28" y="18" width="1.05" height="1.05" fill="#18c"/>
<rect x="29" y="18" width="1.05" height="1.05" fill="#2ba"/>
<rect x="30" y="18" width="1.05" height="1.05" fill="#17d"/>
<rect x="31" y="18" width="1.05" height="1.05" fill="#18c"/>
<rect x="32" y="18" width="1.05" height="1.05" fill="#1ab"/>
<rect x="33" y="18" width="1.05" height="1.05" fill="#2ab"/>
<rect x="34" y="18" width="1.05" height="1.05" fill="#2aa"/>
<rect x="35" y="18" width="1.05" height="1.05" fill="#1ac"/>
<rect x="0" y="19" width="1.05" height="1.05" fill="#4b9"/>
<rect x="1" y="19" width="1.05" height="1.05" fill="#ab6"/>
<rect x="2" y="19" width="1.05" height="1.05" fill="#7b8"/>
<rect x="3" y="19" width="1.05" height="1.05" fill="#6b8"/>
<rect x="4" y="19" width="1.05" height="1.05" fill="#4b9"/>
<rect x="5" y="19" width="2.05" height="1.05" fill="#6b8"/>
<rect x="7" y="19" width="1.05" height="1.05" fill="#5b9"/>
<rect x="8" y="19" width="1.05" height="1.05" fill="#cb5"/>
<rect x="9" y="19" width="1.05" height="1.05" fill="#7b7"/>
<rect x="10" y="19" width="1.05" height="1.05" fill="#8b7"/>
<rect x="11" y="19" width="2.05" height="1.05" fill="#9b7"/>
<rect x="13" y="19" width="1.05" height="1.05" fill="#cb5"/>
<rect x="14" y="19" width="1.05" height="1.05" fill="#19c"/>
<rect x="15" y="19" width="1.05" height="1.05" fill="#8b7"/>
<rect x="16" y="19" width="1.05" height="1.05" fill="#cb5"/>
<rect x="17" y="19" width="1.05" height="1.05" fill="#3ba"/>
<rect x="18" y="19" width="1.05" height="1.05" fill="#0ac"/>
<rect x="19" y="19" width="1.05" height="1.05" fill="#ab6"/>
<rect x="20" y="19" width="1.05" height="1.05" fill="#eb4"/>
<rect x="21" y="19" width="1.05" height="1.05" fill="#7b8"/>
<rect x="22" y="19" width="1.05" height="1.05" fill="#18c"/>
<rect x="23" y="19" width="1.05" height="1.05" fill="#6b8"/>
<rect x="24" y="19" width="1.05" height="1.05" fill="#8b7"/>
<rect x="25" y="19" width="1.05" height="1.05" fill="#9b6"/>
<rect x="26" y="19" width="1.05" height="1.05" fill="#2ba"/>
<rect x="27" y="19" width="1.05" height="1.05" fill="#ab6"/>
<rect x="28" y="19" width="1.05" height="1.05" fill="#9b6"/>
<rect x="29" y="19" width="1.05" height="1.05" fill="#cb5"/>
<rect x="30" y="19" width="1.05" height="1.05" fill="#6b8"/>
<rect x="31" y="19" width="1.05" height="1.05" fill="#19c"/>
<rect x="32" y="19" width="1.05" height="1.05" fill="#8b7"/>
<rect x="33" y="19" width="1.05" height="1.05" fill="#bb6"/>
<rect x="34" y="19" width="1.05" height="1.05" fill="#19c"/>
<rect x="35" y="19" width="1.05" height="1.05" fill="#8b7"/>
<rect x="0" y="20" width="1.05" height="1.05" fill="#8b7"/>
<rect x="1" y="20" width="1.05" height="1.05" fill="#9b7"/>
<rect x="2" y="20" width="1.05" height="1.05" fill="#6b8"/>
<rect x="3" y="20" width="1.05" height="1.05" fill="#7b7"/>
<rect x="4" y="20" width="1.05" height="1.05" fill="#6b8"/>
<rect x="5" y="20" width="1.05" height="1.05" fill="#8b7"/>
<rect x="6" y="20" width="1.05" height="1.05" fill="#ab6"/>
<rect x="7" y="20" width="1.05" height="1.05" fill="#6b8"/>
<rect x="8" y="20" width="1.05" height="1.05" fill="#9b6"/>
<rect x="9" y="20" width="1.05" height="1.05" fill="#5b8"/>
<rect x="10" y="20" width="3.05" height="1.05" fill="#ab6"/>
<rect x="13" y="20" width="1.05" height="1.05" fill="#eb4"/>
<rect x="14" y="20" width="1.05" height="1.05" fill="#3ba"/>
<rect x="15" y="20" width="1.05" height="1.05" fill="#ab6"/>
<rect x="16" y="20" width="1.05" height="1.05" fill="#db4"/>
<rect x="17" y="20" width="1.05" height="1.05" fill="#09c"/>
<rect x="18" y="20" width="1.05" height="1.05" fill="#17d"/>
<rect x="19" y="20" width="1.05" height="1.05" fill="#eb4"/>
<rect x="20" y="20" width="1.05" height="1.05" fill="#fc3"/>
<rect x="21" y="20" width="1.05" height="1.05" fill="#ab6"/>
<rect x="22" y="20" width="1.05" height="1.05" fill="#19c"/>
<rect x="23" y="20" width="1.05" height="1.05" fill="#8b7"/>
<rect x="24" y="20" width="1.05" height="1.05" fill="#bb6"/>
<rect x="25" y="20" width="1.05" height="1.05" fill="#db5"/>
<rect x="26" y="20" width="1.05" height="1.05" fill="#2ab"/>
<rect x="27" y="20" width="1.05" height="1.05" fill="#cb5"/>
<rect x="28" y="20" width="1.05" height="1.05" fill="#9b7"/>
<rect x="29" y="20" width="2.05" height="1.05" fill="#db5"/>
<rect x="31" y="20" width="1.05" height="1.05" fill="#19c"/>
<rect x="32" y="20" width="1.05" height="1.05" fill="#fc3"/>
<rect x="33" y="20" width="1.05" height="1.05" fill="#ab6"/>
<rect x="34" y="20" width="1.05" height="1.05" fill="#09c"/>
<rect x="35" y="20" width="1.05" height="1.05" fill="#cb5"/>
<rect x="0" y="21" width="1.05" height="1.05" fill="#5b9"/>
<rect x="1" y="21" width="1.05" height="1.05" fill="#7b7"/>
<rect x="2" y="21" width="1.05" height="1.05" fill="#6b8"/>
<rect x="3" y="21" width="1.05" height="1.05" fill="#9b7"/>
<rect x="4" y="21" width="1.05" height="1.05" fill="#4b9"/>
<rect x="5" y="21" width="1.05" height="1.05" fill="#7b7"/>
<rect x="6" y="21" width="1.05" height="1.05" fill="#4b9"/>
<rect x="7" y="21" width="1.05" height="1.05" fill="#6b8"/>
<rect x="8" y="21" width="1.05" height="1.05" fill="#9b7"/>
<rect x="9" y="21" width="1.05" height="1.05" fill="#2ab"/>
<rect x="10" y="21" width="1.05" height="1.05" fill="#5b8"/>
<rect x="11" y="21" width="1.05" height="1.05" fill="#6b8"/>
<rect x="12" y="21" width="1.05" height="1.05" fill="#8b7"/>
<rect x="13" y="21" width="1.05" height="1.05" fill="#9b7"/>
<rect x="14" y="21" width="1.05" height="1.05" fill="#1ac"/>
<rect x="15" y="21" width="1.05" height="1.05" fill="#bb6"/>
<rect x="16" y="21" width="1.05" height="1.05" fill="#ab6"/>
<rect x="17" y="21" width="1.05" height="1.05" fill="#2ab"/>
<rect x="18" y="21" width="1.05" height="1.05" fill="#1ab"/>
<rect x="19" y="21" width="1.05" height="1.05" fill="#7b8"/>
<rect x="20" y="21" width="1.05" height="1.05" fill="#ab6"/>
<rect x="21" y="21" width="1.05" height="1.05" fill="#8b7"/>
<rect x="22" y="21" width="1.05" height="1.05" fill="#18c"/>
<rect x="23" y="21" width="1.05" height="1.05" fill="#9b6"/>
<rect x="24" y="21" width="1.05" height="1.05" fill="#7b8"/>
<rect x="25" y="21" width="1.05" height="1.05" fill="#9b7"/>
<rect x="26" y="21" width="1.05" height="1.05" fill="#0ac"/>
<rect x="27" y="21" width="1.05" height="1.05" fill="#5b8"/>
<rect x="28" y="21" width="1.05" height="1.05" fill="#2ba"/>
<rect x="29" y="21" width="2.05" height="1.05" fill="#9b7"/>
<rect x="31" y="21" width="1.05" height="1.05" fill="#19c"/>
<rect x="32" y="21" width="1.05" height="1.05" fill="#6b8"/>
<rect x="33" y="21" width="1.05" height="1.05" fill="#ab6"/>
<rect x="34" y="21" width="1.05" height="1.05" fill="#18c"/>
<rect x="35" y="21" width="1.05" height="1.05" fill="#db5"/>
<rect x="0" y="22" width="2.05" height="1.05" fill="#3ba"/>
<rect x="2" y="22" width="1.05" height="1.05" fill="#18c"/>
<rect x="3" y="22" width="1.05" height="1.05" fill="#3ba"/>
<rect x="4" y="22" width="1.05" height="1.05" fill="#1ab"/>
<rect x="5" y="22" width="1.05" height="1.05" fill="#2aa"/>
<rect x="6" y="22" width="1.05" height="1.05" fill="#4b9"/>
<rect x="7" y="22" width="1.05" height="1.05" fill="#7b8"/>
<rect x="8" y="22" width="1.05" height="1.05" fill="#3b9"/>
<rect x="9" y="22" width="1.05" height="1.05" fill="#18c"/>
<rect x="10" y="22" width="1.05" height="1.05" fill="#4b9"/>
<rect x="11" y="22" width="1.05" height="1.05" fill="#2aa"/>
<rect x="12" y="22" width="1.05" height="1.05" fill="#19c"/>
<rect x="13" y="22" width="1.05" height="1.05" fill="#2aa"/>
<rect x="14" y="22" width="1.05" height="1.05" fill="#19c"/>
<rect x="15" y="22" width="1.05" height="1.05" fill="#1ab"/>
<rect x="16" y="22" width="1.05" height="1.05" fill="#19c"/>
<rect x="17" y="22" width="1.05" height="1.05" fill="#09c"/>
<rect x="18" y="22" width="1.05" height="1.05" fill="#19c"/>
<rect x="19" y="22" width="1.05" height="1.05" fill="#18c"/>
<rect x="20" y="22" width="1.05" height="1.05" fill="#19c"/>
<rect x="21" y="22" width="1.05" height="1.05" fill="#18c"/>
<rect x="22" y="22" width="1.05" height="1.05" fill="#19c"/>
<rect x="23" y="22" width="1.05" height="1.05" fill="#1ab"/>
<rect x="24" y="22" width="1.05" height="1.05" fill="#09c"/>
<rect x="25" y="22" width="1.05" height="1.05" fill="#2aa"/>
<rect x="26" y="22" width="1.05" height="1.05" fill="#18c"/>
<rect x="27" y="22" width="1.05" height="1.05" fill="#09c"/>
<rect x="28" y="22" width="2.05" height="1.05" fill="#19c"/>
<rect x="30" y="22" width="1.05" height="1.05" fill="#18c"/>
<rect x="31" y="22" width="3.05" height="1.05" fill="#19c"/>
<rect x="34" y="22" width="1.05" height="1.05" fill="#18c"/>
<rect x="35" y="22" width="1.05" height="1.05" fill="#0ac"/>
<rect x="0" y="23" width="1.05" height="1.05" fill="#2ab"/>
<rect x="1" y="23" width="1.05" height="1.05" fill="#7b7"/>
<rect x="2" y="23" width="1.05" height="1.05" fill="#7b8"/>
<rect x="3" y="23" width="1.05" height="1.05" fill="#8b7"/>
<rect x="4" y="23" width="1.05" height="1.05" fill="#5b9"/>
<rect x="5" y="23" width="1.05" height="1.05" fill="#ab6"/>
<rect x="6" y="23" width="1.05" height="1.05" fill="#8b7"/>
<rect x="7" y="23" width="1.05" height="1.05" fill="#5b8"/>
<rect x="8" y="23" width="1.05" height="1.05" fill="#7b7"/>
<rect x="9" y="23" width="1.05" height="1.05" fill="#19c"/>
<rect x="10" y="23" width="1.05" height="1.05" fill="#7b7"/>
<rect x="11" y="23" width="1.05" height="1.05" fill="#3ba"/>
<rect x="12" y="23" width="1.05" height="1.05" fill="#ab6"/>
<rect x="13" y="23" width="1.05" height="1.05" fill="#bb6"/>
<rect x="14" y="23" width="1.05" height="1.05" fill="#2ab"/>
<rect x="15" y="23" width="1.05" height="1.05" fill="#bb6"/>
<rect x="16" y="23" width="1.05" height="1.05" fill="#6b8"/>
<rect x="17" y="23" width="1.05" height="1.05" fill="#1ab"/>
<rect x="18" y="23" width="1.05" height="1.05" fill="#19c"/>
<rect x="19" y="23" width="1.05" height="1.05" fill="#6b8"/>
<rect x="20" y="23" width="1.05" height="1.05" fill="#8b7"/>
<rect x="21" y="23" width="1.05" height="1.05" fill="#9b6"/>
<rect x="22" y="23" width="1.05" height="1.05" fill="#1ab"/>
<rect x="23" y="23" width="1.05" height="1.05" fill="#09c"/>
<rect x="24" y="23" width="1.05" height="1.05" fill="#7b8"/>
<rect x="25" y="23" width="1.05" height="1.05" fill="#9b7"/>
<rect x="26" y="23" width="1.05" height="1.05" fill="#2aa"/>
<rect x="27" y="23" width="1.05" height="1.05" fill="#ab6"/>
<rect x="28" y="23" width="1.05" height="1.05" fill="#6b8"/>
<rect x="29" y="23" width="1.05" height="1.05" fill="#cb5"/>
<rect x="30" y="23" width="1.05" height="1.05" fill="#bb6"/>
<rect x="31" y="23" width="1.05" height="1.05" fill="#2aa"/>
<rect x="32" y="23" width="1.05" height="1.05" fill="#8b7"/>
<rect x="33" y="23" width="1.05" height="1.05" fill="#bb6"/>
<rect x="34" y="23" width="1.05" height="1.05" fill="#2aa"/>
<rect x="35" y="23" width="1.05" height="1.05" fill="#cb5"/>
<rect x="0" y="24" width="1.05" height="1.05" fill="#4b9"/>
<rect x="1" y="24" width="1.05" height="1.05" fill="#9b7"/>
<rect x="2" y="24" width="1.05" height="1.05" fill="#3ba"/>
<rect x="3" y="24" width="1.05" height="1.05" fill="#7b7"/>
<rect x="4" y="24" width="1.05" height="1.05" fill="#3b9"/>
<rect x="5" y="24" width="1.05" height="1.05" fill="#5b9"/>
<rect x="6" y="24" width="1.05" height="1.05" fill="#ab6"/>
<rect x="7" y="24" width="1.05" height="1.05" fill="#6b8"/>
<rect x="8" y="24" width="1.05" height="1.05" fill="#ab6"/>
<rect x="9" y="24" width="1.05" height="1.05" fill="#4b9"/>
<rect x="10" y="24" width="1.05" height="1.05" fill="#ab6"/>
<rect x="11" y="24" width="1.05" height="1.05" fill="#5b8"/>
<rect x="12" y="24" width="1.05" height="1.05" fill="#bb6"/>
<rect x="13" y="24" width="1.05" height="1.05" fill="#9b7"/>
<rect x="14" y="24" width="1.05" height="1.05" fill="#19c"/>
<rect x="15" y="24" width="1.05" height="1.05" fill="#cb5"/>
<rect x="16" y="24" width="1.05" height="1.05" fill="#8b7"/>
<rect x="17" y="24" width="1.05" height="1.05" fill="#19c"/>
<rect x="18" y="24" width="1.05" height="1.05" fill="#0ac"/>
<rect x="19" y="24" width="1.05" height="1.05" fill="#8b7"/>
<rect x="20" y="24" width="1.05" height="1.05" fill="#bb6"/>
<rect x="21" y="24" width="1.05" height="1.05" fill="#7b8"/>
<rect x="22" y="24" width="1.05" height="1.05" fill="#09c"/>
<rect x="23" y="24" width="1.05" height="1.05" fill="#7b8"/>
<rect x="24" y="24" width="1.05" height="1.05" fill="#8b7"/>
<rect x="25" y="24" width="1.05" height="1.05" fill="#5b9"/>
<rect x="26" y="24" width="1.05" height="1.05" fill="#19c"/>
<rect x="27" y="24" width="1.05" height="1.05" fill="#ab6"/>
<rect x="28" y="24" width="1.05" height="1.05" fill="#eb4"/>
<rect x="29" y="24" width="1.05" height="1.05" fill="#cb5"/>
<rect x="30" y="24" width="1.05" height="1.05" fill="#9b7"/>
<rect x="31" y="24" width="1.05" height="1.05" fill="#09c"/>
<rect x="32" y="24" width="1.05" height="1.05" fill="#9b7"/>
<rect x="33" y="24" width="1.05" height="1.05" fill="#cb5"/>
<rect x="34" y="24" width="1.05" height="1.05" fill="#0ac"/>
<rect x="35" y="24" width="1.05" height="1.05" fill="#bb6"/>
<rect x="0" y="25" width="1.05" height="1.05" fill="#8b7"/>
<rect x="1" y="25" width="1.05" height="1.05" fill="#ab6"/>
<rect x="2" y="25" width="1.05" height="1.05" fill="#7b8"/>
<rect x="3" y="25" width="1.05" height="1.05" fill="#8b7"/>
<rect x="4" y="25" width="1.05" height="1.05" fill="#2ba"/>
<rect x="5" y="25" width="1.05" height="1.05" fill="#8b7"/>
<rect x="6" y="25" width="1.05" height="1.05" fill="#bb6"/>
<rect x="7" y="25" width="1.05" height="1.05" fill="#0ac"/>
<rect x="8" y="25" width="1.05" height="1.05" fill="#db5"/>
<rect x="9" y="25" width="1.05" height="1.05" fill="#2ba"/>
<rect x="10" y="25" width="1.05" height="1.05" fill="#7b7"/>
<rect x="11" y="25" width="1.05" height="1.05" fill="#8b7"/>
<rect x="12" y="25" width="1.05" height="1.05" fill="#db5"/>
<rect x="13" y="25" width="1.05" height="1.05" fill="#cb5"/>
<rect x="14" y="25" width="1.05" height="1.05" fill="#17d"/>
<rect x="15" y="25" width="1.05" height="1.05" fill="#bb6"/>
<rect x="16" y="25" width="1.05" height="1.05" fill="#db5"/>
<rect x="17" y="25" width="1.05" height="1.05" fill="#1ac"/>
<rect x="18" y="25" width="1.05" height="1.05" fill="#18d"/>
<rect x="19" y="25" width="1.05" height="1.05" fill="#9b6"/>
<rect x="20" y="25" width="1.05" height="1.05" fill="#db5"/>
<rect x="21" y="25" width="1.05" height="1.05" fill="#9b7"/>
<rect x="22" y="25" width="1.05" height="1.05" fill="#2aa"/>
<rect x="23" y="25" width="1.05" height="1.05" fill="#9b7"/>
<rect x="24" y="25" width="1.05" height="1.05" fill="#5b9"/>
<rect x="25" y="25" width="1.05" height="1.05" fill="#7b7"/>
<rect x="26" y="25" width="1.05" height="1.05" fill="#19c"/>
<rect x="27" y="25" width="1.05" height="1.05" fill="#cb5"/>
<rect x="28" y="25" width="1.05" height="1.05" fill="#9b6"/>
<rect x="29" y="25" width="1.05" height="1.05" fill="#db5"/>
<rect x="30" y="25" width="1.05" height="1.05" fill="#cb5"/>
<rect x="31" y="25" width="1.05" height="1.05" fill="#09c"/>
<rect x="32" y="25" width="1.05" height="1.05" fill="#ab6"/>
<rect x="33" y="25" width="1.05" height="1.05" fill="#cb5"/>
<rect x="34" y="25" width="1.05" height="1.05" fill="#17d"/>
<rect x="35" y="25" width="1.05" height="1.05" fill="#db5"/>
<rect x="0" y="26" width="1.05" height="1.05" fill="#19c"/>
<rect x="1" y="26" width="1.05" height="1.05" fill="#8b7"/>
<rect x="2" y="26" width="1.05" height="1.05" fill="#6b8"/>
<rect x="3" y="26" width="1.05" height="1.05" fill="#5b8"/>
<rect x="4" y="26" width="2.05" height="1.05" fill="#19c"/>
<rect x="6" y="26" width="1.05" height="1.05" fill="#1ab"/>
<rect x="7" y="26" width="1.05" height="1.05" fill="#2ab"/>
<rect x="8" y="26" width="1.05" height="1.05" fill="#3b9"/>
<rect x="9" y="26" width="1.05" height="1.05" fill="#2aa"/>
<rect x="10" y="26" width="1.05" height="1.05" fill="#7b8"/>
<rect x="11" y="26" width="1.05" height="1.05" fill="#5b8"/>
<rect x="12" y="26" width="1.05" height="1.05" fill="#19c"/>
<rect x="13" y="26" width="1.05" height="1.05" fill="#1ac"/>
<rect x="14" y="26" width="3.05" height="1.05" fill="#19c"/>
<rect x="17" y="26" width="1.05" height="1.05" fill="#17d"/>
<rect x="18" y="26" width="1.05" height="1.05" fill="#18c"/>
<rect x="19" y="26" width="1.05" height="1.05" fill="#2ba"/>
<rect x="20" y="26" width="1.05" height="1.05" fill="#2ab"/>
<rect x="21" y="26" width="1.05" height="1.05" fill="#0ac"/>
<rect x="22" y="26" width="1.05" height="1.05" fill="#18c"/>
<rect x="23" y="26" width="1.05" height="1.05" fill="#2aa"/>
<rect x="24" y="26" width="3.05" height="1.05" fill="#19c"/>
<rect x="27" y="26" width="1.05" height="1.05" fill="#18c"/>
<rect x="28" y="26" width="1.05" height="1.05" fill="#1ab"/>
<rect x="29" y="26" width="1.05" height="1.05" fill="#19c"/>
<rect x="30" y="26" width="1.05" height="1.05" fill="#18c"/>
<rect x="31" y="26" width="1.05" height="1.05" fill="#19c"/>
<rect x="32" y="26" width="2.05" height="1.05" fill="#0ac"/>
<rect x="34" y="26" width="2.05" height="1.05" fill="#19c"/>
<rect x="0" y="27" width="1.05" height="1.05" fill="#6b8"/>
<rect x="1" y="27" width="1.05" height="1.05" fill="#9b6"/>
<rect x="2" y="27" width="1.05" height="1.05" fill="#ab6"/>
<rect x="3" y="27" width="1.05" height="1.05" fill="#bb6"/>
<rect x="4" y="27" width="1.05" height="1.05" fill="#6b8"/>
<rect x="5" y="27" width="1.05" height="1.05" fill="#7b7"/>
<rect x="6" y="27" width="1.05" height="1.05" fill="#eb4"/>
<rect x="7" y="27" width="1.05" height="1.05" fill="#bb6"/>
<rect x="8" y="27" width="1.05" height="1.05" fill="#cb5"/>
<rect x="9" y="27" width="1.05" height="1.05" fill="#4b9"/>
<rect x="10" y="27" width="1.05" height="1.05" fill="#9b7"/>
<rect x="11" y="27" width="1.05" height="1.05" fill="#ab6"/>
<rect x="12" y="27" width="1.05" height="1.05" fill="#cb6"/>
<rect x="13" y="27" width="1.05" height="1.05" fill="#fc3"/>
<rect x="14" y="27" width="1.05" height="1.05" fill="#19c"/>
<rect x="15" y="27" width="1.05" height="1.05" fill="#cb5"/>
<rect x="16" y="27" width="1.05" height="1.05" fill="#9b7"/>
<rect x="17" y="27" width="1.05" height="1.05" fill="#2aa"/>
<rect x="18" y="27" width="1.05" height="1.05" fill="#19c"/>
<rect x="19" y="27" width="1.05" height="1.05" fill="#ab6"/>
<rect x="20" y="27" width="1.05" height="1.05" fill="#cb5"/>
<rect x="21" y="27" width="1.05" height="1.05" fill="#5b8"/>
<rect x="22" y="27" width="1.05" height="1.05" fill="#09c"/>
<rect x="23" y="27" width="2.05" height="1.05" fill="#ab6"/>
<rect x="25" y="27" width="1.05" height="1.05" fill="#cb5"/>
<rect x="26" y="27" width="1.05" height="1.05" fill="#18c"/>
<rect x="27" y="27" width="1.05" height="1.05" fill="#fc3"/>
<rect x="28" y="27" width="1.05" height="1.05" fill="#bb6"/>
<rect x="29" y="27" width="1.05" height="1.05" fill="#cb5"/>
<rect x="30" y="27" width="1.05" height="1.05" fill="#cb6"/>
<rect x="31" y="27" width="1.05" height="1.05" fill="#17d"/>
<rect x="32" y="27" width="1.05" height="1.05" fill="#6b8"/>
<rect x="33" y="27" width="1.05" height="1.05" fill="#ec3"/>
<rect x="34" y="27" width="1.05" height="1.05" fill="#18c"/>
<rect x="35" y="27" width="1.05" height="1.05" fill="#db5"/>
<rect x="0" y="28" width="1.05" height="1.05" fill="#5b8"/>
<rect x="1" y="28" width="1.05" height="1.05" fill="#4b9"/>
<rect x="2" y="28" width="1.05" height="1.05" fill="#7b8"/>
<rect x="3" y="28" width="1.05" height="1.05" fill="#7b7"/>
<rect x="4" y="28" width="1.05" height="1.05" fill="#5b9"/>
<rect x="5" y="28" width="1.05" height="1.05" fill="#1ab"/>
<rect x="6" y="28" width="1.05" height="1.05" fill="#ab6"/>
<rect x="7" y="28" width="1.05" height="1.05" fill="#4b9"/>
<rect x="8" y="28" width="1.05" height="1.05" fill="#ab6"/>
<rect x="9" y="28" width="1.05" height="1.05" fill="#2ab"/>
<rect x="10" y="28" width="1.05" height="1.05" fill="#9b7"/>
<rect x="11" y="28" width="1.05" height="1.05" fill="#7b8"/>
<rect x="12" y="28" width="2.05" height="1.05" fill="#bb6"/>
<rect x="14" y="28" width="1.05" height="1.05" fill="#1ab"/>
<rect x="15" y="28" width="1.05" height="1.05" fill="#ab6"/>
<rect x="16" y="28" width="1.05" height="1.05" fill="#eb4"/>
<rect x="17" y="28" width="1.05" height="1.05" fill="#0ac"/>
<rect x="18" y="28" width="1.05" height="1.05" fill="#18c"/>
<rect x="19" y="28" width="1.05" height="1.05" fill="#9b6"/>
<rect x="20" y="28" width="1.05" height="1.05" fill="#9b7"/>
<rect x="21" y="28" width="1.05" height="1.05" fill="#2ba"/>
<rect x="22" y="28" width="1.05" height="1.05" fill="#19c"/>
<rect x="23" y="28" width="1.05" height="1.05" fill="#6b8"/>
<rect x="24" y="28" width="1.05" height="1.05" fill="#eb4"/>
<rect x="25" y="28" width="1.05" height="1.05" fill="#9b6"/>
<rect x="26" y="28" width="1.05" height="1.05" fill="#1ab"/>
<rect x="27" y="28" width="1.05" height="1.05" fill="#bb6"/>
<rect x="28" y="28" width="1.05" height="1.05" fill="#ab6"/>
<rect x="29" y="28" width="1.05" height="1.05" fill="#6b8"/>
<rect x="30" y="28" width="1.05" height="1.05" fill="#8b7"/>
<rect x="31" y="28" width="1.05" height="1.05" fill="#1ac"/>
<rect x="32" y="28" width="1.05" height="1.05" fill="#8b7"/>
<rect x="33" y="28" width="1.05" height="1.05" fill="#bb6"/>
<rect x="34" y="28" width="1.05" height="1.05" fill="#2ab"/>
<rect x="35" y="28" width="1.05" height="1.05" fill="#cb5"/>
<rect x="0" y="29" width="1.05" height="1.05" fill="#9b7"/>
<rect x="1" y="29" width="1.05" height="1.05" fill="#bb6"/>
<rect x="2" y="29" width="1.05" height="1.05" fill="#8b7"/>
<rect x="3" y="29" width="1.05" height="1.05" fill="#ab6"/>
<rect x="4" y="29" width="1.05" height="1.05" fill="#3ba"/>
<rect x="5" y="29" width="1.05" height="1.05" fill="#cb6"/>
<rect x="6" y="29" width="1.05" height="1.05" fill="#bb6"/>
<rect x="7" y="29" width="1.05" height="1.05" fill="#7b7"/>
<rect x="8" y="29" width="1.05" height="1.05" fill="#bb6"/>
<rect x="9" y="29" width="1.05" height="1.05" fill="#3b9"/>
<rect x="10" y="29" width="1.05" height="1.05" fill="#8b7"/>
<rect x="11" y="29" width="1.05" height="1.05" fill="#6b8"/>
<rect x="12" y="29" width="1.05" height="1.05" fill="#ab6"/>
<rect x="13" y="29" width="1.05" height="1.05" fill="#cb5"/>
<rect x="14" y="29" width="1.05" height="1.05" fill="#2ab"/>
<rect x="15" y="29" width="1.05" height="1.05" fill="#cb5"/>
<rect x="16" y="29" width="1.05" height="1.05" fill="#db4"/>
<rect x="17" y="29" width="1.05" height="1.05" fill="#19c"/>
<rect x="18" y="29" width="1.05" height="1.05" fill="#2ba"/>
<rect x="19" y="29" width="1.05" height="1.05" fill="#cb5"/>
<rect x="20" y="29" width="1.05" height="1.05" fill="#db5"/>
<rect x="21" y="29" width="1.05" height="1.05" fill="#9b7"/>
<rect x="22" y="29" width="1.05" height="1.05" fill="#19c"/>
<rect x="23" y="29" width="2.05" height="1.05" fill="#cb5"/>
<rect x="25" y="29" width="1.05" height="1.05" fill="#db5"/>
<rect x="26" y="29" width="1.05" height="1.05" fill="#19c"/>
<rect x="27" y="29" width="1.05" height="1.05" fill="#cb5"/>
<rect x="28" y="29" width="1.05" height="1.05" fill="#6b8"/>
<rect x="29" y="29" width="1.05" height="1.05" fill="#db4"/>
<rect x="30" y="29" width="1.05" height="1.05" fill="#cb5"/>
<rect x="31" y="29" width="1.05" height="1.05" fill="#17d"/>
<rect x="32" y="29" width="1.05" height="1.05" fill="#7b8"/>
<rect x="33" y="29" width="1.05" height="1.05" fill="#fc3"/>
<rect x="34" y="29" width="1.05" height="1.05" fill="#19c"/>
<rect x="35" y="29" width="1.05" height="1.05" fill="#fc3"/>
<rect x="0" y="30" width="1.05" height="1.05" fill="#7b8"/>
<rect x="1" y="30" width="1.05" height="1.05" fill="#ab6"/>
<rect x="2" y="30" width="1.05" height="1.05" fill="#4b9"/>
<rect x="3" y="30" width="1.05" height="1.05" fill="#9b6"/>
<rect x="4" y="30" width="1.05" height="1.05" fill="#4b9"/>
<rect x="5" y="30" width="1.05" height="1.05" fill="#cb6"/>
<rect x="6" y="30" width="1.05" height="1.05" fill="#bb6"/>
<rect x="7" y="30" width="1.05" height="1.05" fill="#4b9"/>
<rect x="8" y="30" width="1.05" height="1.05" fill="#ab6"/>
<rect x="9" y="30" width="1.05" height="1.05" fill="#3b9"/>
<rect x="10" y="30" width="1.05" height="1.05" fill="#8b7"/>
<rect x="11" y="30" width="2.05" height="1.05" fill="#ab6"/>
<rect x="13" y="30" width="1.05" height="1.05" fill="#fc3"/>
<rect x="14" y="30" width="1.05" height="1.05" fill="#09c"/>
<rect x="15" y="30" width="1.05" height="1.05" fill="#ab6"/>
<rect x="16" y="30" width="1.05" height="1.05" fill="#bb6"/>
<rect x="17" y="30" width="1.05" height="1.05" fill="#0ac"/>
<rect x="18" y="30" width="1.05" height="1.05" fill="#17d"/>
<rect x="19" y="30" width="1.05" height="1.05" fill="#6b8"/>
<rect x="20" y="30" width="1.05" height="1.05" fill="#db5"/>
<rect x="21" y="30" width="1.05" height="1.05" fill="#9b7"/>
<rect x="22" y="30" width="1.05" height="1.05" fill="#18c"/>
<rect x="23" y="30" width="1.05" height="1.05" fill="#bb6"/>
<rect x="24" y="30" width="1.05" height="1.05" fill="#9b7"/>
<rect x="25" y="30" width="1.05" height="1.05" fill="#cb5"/>
<rect x="26" y="30" width="1.05" height="1.05" fill="#18c"/>
<rect x="27" y="30" width="1.05" height="1.05" fill="#cb6"/>
<rect x="28" y="30" width="1.05" height="1.05" fill="#8b7"/>
<rect x="29" y="30" width="1.05" height="1.05" fill="#cb5"/>
<rect x="30" y="30" width="1.05" height="1.05" fill="#fc3"/>
<rect x="31" y="30" width="1.05" height="1.05" fill="#19c"/>
<rect x="32" y="30" width="1.05" height="1.05" fill="#cb5"/>
<rect x="33" y="30" width="1.05" height="1.05" fill="#db4"/>
<rect x="34" y="30" width="1.05" height="1.05" fill="#18c"/>
<rect x="35" y="30" width="1.05" height="1.05" fill="#fc3"/>
<rect x="0" y="31" width="1.05" height="1.05" fill="#7b7"/>
<rect x="1" y="31" width="1.05" height="1.05" fill="#3b9"/>
<rect x="2" y="31" width="1.05" height="1.05" fill="#2ab"/>
<rect x="3" y="31" width="1.05" height="1.05" fill="#09c"/>
<rect x="4" y="31" width="2.05" height="1.05" fill="#4b9"/>
<rect x="6" y="31" width="1.05" height="1.05" fill="#2ba"/>
<rect x="7" y="31" width="2.05" height="1.05" fill="#3ba"/>
<rect x="9" y="31" width="2.05" height="1.05" fill="#1ab"/>
<rect x="11" y="31" width="1.05" height="1.05" fill="#3b9"/>
<rect x="12" y="31" width="1.05" height="1.05" fill="#17d"/>
<rect x="13" y="31" width="1.05" height="1.05" fill="#0ac"/>
<rect x="14" y="31" width="1.05" height="1.05" fill="#09c"/>
<rect x="15" y="31" width="1.05" height="1.05" fill="#18c"/>
<rect x="16" y="31" width="1.05" height="1.05" fill="#09c"/>
<rect x="17" y="31" width="2.05" height="1.05" fill="#18c"/>
<rect x="19" y="31" width="4.05" height="1.05" fill="#19c"/>
<rect x="23" y="31" width="1.05" height="1.05" fill="#2aa"/>
<rect x="24" y="31" width="2.05" height="1.05" fill="#09c"/>
<rect x="26" y="31" width="1.05" height="1.05" fill="#19c"/>
<rect x="27" y="31" width="1.05" height="1.05" fill="#17d"/>
<rect x="28" y="31" width="1.05" height="1.05" fill="#1ac"/>
<rect x="29" y="31" width="1.05" height="1.05" fill="#17d"/>
<rect x="30" y="31" width="1.05" height="1.05" fill="#19c"/>
<rect x="31" y="31" width="1.05" height="1.05" fill="#18d"/>
<rect x="32" y="31" width="1.05" height="1.05" fill="#19c"/>
<rect x="33" y="31" width="1.05" height="1.05" fill="#3ba"/>
<rect x="34" y="31" width="2.05" height="1.05" fill="#19c"/>
<rect x="0" y="32" width="1.05" height="1.05" fill="#7b8"/>
<rect x="1" y="32" width="1.05" height="1.05" fill="#8b7"/>
<rect x="2" y="32" width="1.05" height="1.05" fill="#6b8"/>
<rect x="3" y="32" width="1.05" height="1.05" fill="#7b7"/>
<rect x="4" y="32" width="1.05" height="1.05" fill="#4b9"/>
<rect x="5" y="32" width="1.05" height="1.05" fill="#7b7"/>
<rect x="6" y="32" width="1.05" height="1.05" fill="#cb5"/>
<rect x="7" y="32" width="1.05" height="1.05" fill="#5b8"/>
<rect x="8" y="32" width="1.05" height="1.05" fill="#ab6"/>
<rect x="9" y="32" width="1.05" height="1.05" fill="#1ab"/>
<rect x="10" y="32" width="1.05" height="1.05" fill="#2ba"/>
<rect x="11" y="32" width="1.05" height="1.05" fill="#8b7"/>
<rect x="12" y="32" width="1.05" height="1.05" fill="#bb6"/>
<rect x="13" y="32" width="1.05" height="1.05" fill="#ab6"/>
<rect x="14" y="32" width="1.05" height="1.05" fill="#18c"/>
<rect x="15" y="32" width="1.05" height="1.05" fill="#ab6"/>
<rect x="16" y="32" width="1.05" height="1.05" fill="#8b7"/>
<rect x="17" y="32" width="1.05" height="1.05" fill="#18c"/>
<rect x="18" y="32" width="1.05" height="1.05" fill="#1ab"/>
<rect x="19" y="32" width="1.05" height="1.05" fill="#8b7"/>
<rect x="20" y="32" width="1.05" height="1.05" fill="#fc3"/>
<rect x="21" y="32" width="1.05" height="1.05" fill="#6b8"/>
<rect x="22" y="32" width="1.05" height="1.05" fill="#19c"/>
<rect x="23" y="32" width="1.05" height="1.05" fill="#8b7"/>
<rect x="24" y="32" width="1.05" height="1.05" fill="#9b7"/>
<rect x="25" y="32" width="1.05" height="1.05" fill="#ab6"/>
<rect x="26" y="32" width="1.05" height="1.05" fill="#0ac"/>
<rect x="27" y="32" width="1.05" height="1.05" fill="#6b8"/>
<rect x="28" y="32" width="1.05" height="1.05" fill="#8b7"/>
<rect x="29" y="32" width="1.05" height="1.05" fill="#7b8"/>
<rect x="30" y="32" width="1.05" height="1.05" fill="#cb5"/>
<rect x="31" y="32" width="1.05" height="1.05" fill="#19c"/>
<rect x="32" y="32" width="1.05" height="1.05" fill="#5b8"/>
<rect x="33" y="32" width="1.05" height="1.05" fill="#8b7"/>
<rect x="34" y="32" width="1.05" height="1.05" fill="#19c"/>
<rect x="35" y="32" width="1.05" height="1.05" fill="#9b6"/>
<rect x="0" y="33" width="1.05" height="1.05" fill="#7b8"/>
<rect x="1" y="33" width="1.05" height="1.05" fill="#bb6"/>
<rect x="2" y="33" width="1.05" height="1.05" fill="#8b7"/>
<rect x="3" y="33" width="1.05" height="1.05" fill="#4b9"/>
<rect x="4" y="33" width="1.05" height="1.05" fill="#3ba"/>
<rect x="5" y="33" width="1.05" height="1.05" fill="#db5"/>
<rect x="6" y="33" width="1.05" height="1.05" fill="#bb6"/>
<rect x="7" y="33" width="1.05" height="1.05" fill="#5b8"/>
<rect x="8" y="33" width="1.05" height="1.05" fill="#eb4"/>
<rect x="9" y="33" width="1.05" height="1.05" fill="#4b9"/>
<rect x="10" y="33" width="1.05" height="1.05" fill="#7b7"/>
<rect x="11" y="33" width="1.05" height="1.05" fill="#ab6"/>
<rect x="12" y="33" width="1.05" height="1.05" fill="#9b7"/>
<rect x="13" y="33" width="1.05" height="1.05" fill="#ab6"/>
<rect x="14" y="33" width="1.05" height="1.05" fill="#09c"/>
<rect x="15" y="33" width="2.05" height="1.05" fill="#cb5"/>
<rect x="17" y="33" width="1.05" height="1.05" fill="#0ac"/>
<rect x="18" y="33" width="1.05" height="1.05" fill="#2ab"/>
<rect x="19" y="33" width="1.05" height="1.05" fill="#bb6"/>
<rect x="20" y="33" width="2.05" height="1.05" fill="#ab6"/>
<rect x="22" y="33" width="1.05" height="1.05" fill="#19c"/>
<rect x="23" y="33" width="1.05" height="1.05" fill="#bb6"/>
<rect x="24" y="33" width="2.05" height="1.05" fill="#cb5"/>
<rect x="26" y="33" width="1.05" height="1.05" fill="#0ac"/>
<rect x="27" y="33" width="1.05" height="1.05" fill="#ec3"/>
<rect x="28" y="33" width="1.05" height="1.05" fill="#bb6"/>
<rect x="29" y="33" width="1.05" height="1.05" fill="#fc3"/>
<rect x="30" y="33" width="1.05" height="1.05" fill="#db4"/>
<rect x="31" y="33" width="1.05" height="1.05" fill="#3ba"/>
<rect x="32" y="33" width="1.05" height="1.05" fill="#8b7"/>
<rect x="33" y="33" width="1.05" height="1.05" fill="#db5"/>
<rect x="34" y="33" width="1.05" height="1.05" fill="#2aa"/>
<rect x="35" y="33" width="1.05" height="1.05" fill="#eb4"/>
<rect x="0" y="34" width="1.05" height="1.05" fill="#1ab"/>
<rect x="1" y="34" width="1.05" height="1.05" fill="#0ac"/>
<rect x="2" y="34" width="2.05" height="1.05" fill="#1ab"/>
<rect x="4" y="34" width="1.05" height="1.05" fill="#3ba"/>
<rect x="5" y="34" width="2.05" height="1.05" fill="#1ab"/>
<rect x="7" y="34" width="1.05" height="1.05" fill="#3ba"/>
<rect x="8" y="34" width="2.05" height="1.05" fill="#4b9"/>
<rect x="10" y="34" width="1.05" height="1.05" fill="#1ab"/>
<rect x="11" y="34" width="1.05" height="1.05" fill="#2ab"/>
<rect x="12" y="34" width="1.05" height="1.05" fill="#1ac"/>
<rect x="13" y="34" width="1.05" height="1.05" fill="#09c"/>
<rect x="14" y="34" width="2.05" height="1.05" fill="#19c"/>
<rect x="16" y="34" width="1.05" height="1.05" fill="#1ab"/>
<rect x="17" y="34" width="1.05" height="1.05" fill="#19c"/>
<rect x="18" y="34" width="1.05" height="1.05" fill="#2aa"/>
<rect x="19" y="34" width="1.05" height="1.05" fill="#19c"/>
<rect x="20" y="34" width="1.05" height="1.05" fill="#09c"/>
<rect x="21" y="34" width="2.05" height="1.05" fill="#18c"/>
<rect x="23" y="34" width="1.05" height="1.05" fill="#2aa"/>
<rect x="24" y="34" width="1.05" height="1.05" fill="#0ac"/>
<rect x="25" y="34" width="1.05" height="1.05" fill="#17d"/>
<rect x="26" y="34" width="1.05" height="1.05" fill="#19c"/>
<rect x="27" y="34" width="1.05" height="1.05" fill="#18c"/>
<rect x="28" y="34" width="1.05" height="1.05" fill="#2ab"/>
<rect x="29" y="34" width="1.05" height="1.05" fill="#19c"/>
<rect x="30" y="34" width="1.05" height="1.05" fill="#18c"/>
<rect x="31" y="34" width="2.05" height="1.05" fill="#19c"/>
<rect x="33" y="34" width="1.05" height="1.05" fill="#2aa"/>
<rect x="34" y="34" width="1.05" height="1.05" fill="#18c"/>
<rect x="35" y="34" width="1.05" height="1.05" fill="#09c"/>
<rect x="0" y="35" width="1.05" height="1.05" fill="#5b8"/>
<rect x="1" y="35" width="1.05" height="1.05" fill="#cb5"/>
<rect x="2" y="35" width="1.05" height="1.05" fill="#6b8"/>
<rect x="3" y="35" width="1.05" height="1.05" fill="#bb6"/>
<rect x="4" y="35" width="1.05" height="1.05" fill="#4b9"/>
<rect x="5" y="35" width="1.05" height="1.05" fill="#db4"/>
<rect x="6" y="35" width="1.05" height="1.05" fill="#ab6"/>
<rect x="7" y="35" width="1.05" height="1.05" fill="#6b8"/>
<rect x="8" y="35" width="1.05" height="1.05" fill="#fc3"/>
<rect x="9" y="35" width="1.05" height="1.05" fill="#4b9"/>
<rect x="10" y="35" width="1.05" height="1.05" fill="#8b7"/>
<rect x="11" y="35" width="1.05" height="1.05" fill="#bb6"/>
<rect x="12" y="35" width="1.05" height="1.05" fill="#cb5"/>
<rect x="13" y="35" width="1.05" height="1.05" fill="#fc3"/>
<rect x="14" y="35" width="1.05" height="1.05" fill="#18c"/>
<rect x="15" y="35" width="1.05" height="1.05" fill="#db5"/>
<rect x="16" y="35" width="1.05" height="1.05" fill="#bb6"/>
<rect x="17" y="35" width="1.05" height="1.05" fill="#2ab"/>
<rect x="18" y="35" width="1.05" height="1.05" fill="#1ac"/>
<rect x="19" y="35" width="1.05" height="1.05" fill="#8b7"/>
<rect x="20" y="35" width="1.05" height="1.05" fill="#cb5"/>
<rect x="21" y="35" width="1.05" height="1.05" fill="#db5"/>
<rect x="22" y="35" width="1.05" height="1.05" fill="#0ac"/>
<rect x="23" y="35" width="1.05" height="1.05" fill="#cb5"/>
<rect x="24" y="35" width="1.05" height="1.05" fill="#bb6"/>
<rect x="25" y="35" width="1.05" height="1.05" fill="#db5"/>
<rect x="26" y="35" width="1.05" height="1.05" fill="#19c"/>
<rect x="27" y="35" width="1.05" height="1.05" fill="#db5"/>
<rect x="28" y="35" width="1.05" height="1.05" fill="#cb5"/>
<rect x="29" y="35" width="2.05" height="1.05" fill="#fc3"/>
<rect x="31" y="35" width="1.05" height="1.05" fill="#19c"/>
<rect x="32" y="35" width="1.05" height="1.05" fill="#9b6"/>
<rect x="33" y="35" width="1.05" height="1.05" fill="#eb4"/>
<rect x="34" y="35" width="1.05" height="1.05" fill="#09c"/>
<rect x="35" y="35" width="1.05" height="1.05" fill="#fc3"/>
</symbol>
<symbol id="fb" viewBox="0 0 60 40" overflow="visible" preserveAspectRatio="none">
<defs><clipPath id="fbc"><path d="M0.03 20.26C0.20 18.53 0.98 15.80 2.11 13.49C3.24 11.18 4.98 8.28 6.80 6.41C8.62 4.53 10.62 3.28 13.05 2.24C15.48 1.20 18.43 0.51 21.38 0.16C24.33 -0.19 27.63 -0.24 30.76 0.16C33.88 0.56 37.18 1.55 40.13 2.55C43.08 3.56 45.86 4.72 48.47 6.20C51.07 7.68 54.02 9.59 55.76 11.41C57.49 13.23 58.45 15.40 58.88 17.14C59.32 18.87 59.06 20.52 58.36 21.82C57.67 23.13 56.37 24.17 54.72 24.95C53.07 25.73 50.20 25.99 48.47 26.51C46.73 27.03 45.25 27.29 44.30 28.07C43.35 28.86 43.78 30.25 42.74 31.20C41.70 32.15 39.70 33.20 38.05 33.80C36.40 34.41 34.40 34.38 32.84 34.85C31.28 35.31 30.06 36.01 28.68 36.62C27.29 37.22 26.24 38.27 24.51 38.49C22.77 38.72 20.34 38.49 18.26 37.97C16.18 37.45 13.92 36.50 12.01 35.37C10.10 34.24 8.10 32.73 6.80 31.20C5.50 29.67 5.15 27.42 4.20 26.20C3.24 24.98 1.77 24.90 1.07 23.91C0.38 22.92 -0.14 22.00 0.03 20.26Z"/></clipPath><linearGradient id="fbg" x1="0" y1="0" x2="0.25" y2="1"><stop offset="0" stop-color="#e2e2e2"/><stop offset="0.55" stop-color="#c2c2c2"/><stop offset="0.8" stop-color="#8c8c8c"/><stop offset="1" stop-color="#6c6c6c"/></linearGradient><filter id="bl" x="-10%" y="-10%" width="120%" height="120%"><feGaussianBlur stdDeviation="0.45"/></filter></defs>
<g filter="url(#bl)">
<path d="M0.03 20.26C0.20 18.53 0.98 15.80 2.11 13.49C3.24 11.18 4.98 8.28 6.80 6.41C8.62 4.53 10.62 3.28 13.05 2.24C15.48 1.20 18.43 0.51 21.38 0.16C24.33 -0.19 27.63 -0.24 30.76 0.16C33.88 0.56 37.18 1.55 40.13 2.55C43.08 3.56 45.86 4.72 48.47 6.20C51.07 7.68 54.02 9.59 55.76 11.41C57.49 13.23 58.45 15.40 58.88 17.14C59.32 18.87 59.06 20.52 58.36 21.82C57.67 23.13 56.37 24.17 54.72 24.95C53.07 25.73 50.20 25.99 48.47 26.51C46.73 27.03 45.25 27.29 44.30 28.07C43.35 28.86 43.78 30.25 42.74 31.20C41.70 32.15 39.70 33.20 38.05 33.80C36.40 34.41 34.40 34.38 32.84 34.85C31.28 35.31 30.06 36.01 28.68 36.62C27.29 37.22 26.24 38.27 24.51 38.49C22.77 38.72 20.34 38.49 18.26 37.97C16.18 37.45 13.92 36.50 12.01 35.37C10.10 34.24 8.10 32.73 6.80 31.20C5.50 29.67 5.15 27.42 4.20 26.20C3.24 24.98 1.77 24.90 1.07 23.91C0.38 22.92 -0.14 22.00 0.03 20.26Z" fill="url(#fbg)"/>
<g clip-path="url(#fbc)">
<ellipse cx="9.9" cy="18.7" rx="7.3" ry="4.7" fill="#f2f2f2" opacity="0.55"/>
<ellipse cx="20.3" cy="14.5" rx="5.2" ry="3.1" fill="#f2f2f2" opacity="0.55"/>
<ellipse cx="46.4" cy="19.7" rx="5.2" ry="3.6" fill="#f2f2f2" opacity="0.55"/>
<ellipse cx="28.7" cy="28.1" rx="6.2" ry="1.9" fill="#f2f2f2" opacity="0.55"/>
<ellipse cx="49.5" cy="17.1" rx="7.8" ry="6.8" fill="#808080" opacity="0.35"/>
<ellipse cx="25.6" cy="24.9" rx="12.5" ry="4.2" fill="#808080" opacity="0.35"/>
<ellipse cx="38.0" cy="5.2" rx="8.3" ry="3.1" fill="#808080" opacity="0.35"/>
<path d="M8.8 1.9Q11.2 0.5 13.8 1.5" stroke="#f6f6f6" stroke-width="0.9" fill="none" stroke-linecap="round"/>
<path d="M25.8 1.6Q28.6 0.0 31.6 1.4" stroke="#e8e8e8" stroke-width="1.2" fill="none" stroke-linecap="round"/>
<path d="M41.0 2.8Q43.7 4.2 44.2 7.3" stroke="#606060" stroke-width="0.7" fill="none" stroke-linecap="round"/>
<path d="M36.0 3.2Q36.3 1.2 38.1 0.3" stroke="#444" stroke-width="0.7" fill="none" stroke-linecap="round"/>
<path d="M42.6 31.9Q43.9 30.4 45.9 30.6" stroke="#fcfcfc" stroke-width="0.7" fill="none" stroke-linecap="round"/>
<path d="M4.5 27.0Q5.9 26.7 7.1 27.7" stroke="#808080" stroke-width="0.9" fill="none" stroke-linecap="round"/>
<path d="M21.9 31.2Q24.5 31.4 25.9 33.5" stroke="#555" stroke-width="1.0" fill="none" stroke-linecap="round"/>
<path d="M53.6 38.2Q54.8 36.7 56.6 36.9" stroke="#f6f6f6" stroke-width="1.2" fill="none" stroke-linecap="round"/>
<path d="M3.7 16.1Q3.8 14.0 5.5 12.9" stroke="#e8e8e8" stroke-width="0.6" fill="none" stroke-linecap="round"/>
<path d="M16.1 28.0Q18.6 29.5 19.0 32.4" stroke="#606060" stroke-width="1.0" fill="none" stroke-linecap="round"/>
<path d="M34.7 15.8Q35.4 13.7 37.5 12.9" stroke="#444" stroke-width="1.1" fill="none" stroke-linecap="round"/>
<path d="M3.2 0.7Q5.1 1.1 6.0 2.9" stroke="#fcfcfc" stroke-width="1.1" fill="none" stroke-linecap="round"/>
<path d="M41.1 36.0Q42.6 34.6 44.7 35.1" stroke="#808080" stroke-width="1.2" fill="none" stroke-linecap="round"/>
<path d="M42.9 23.5Q45.4 24.3 46.3 26.8" stroke="#555" stroke-width="1.3" fill="none" stroke-linecap="round"/>
<path d="M19.2 26.7Q20.8 27.9 20.9 30.0" stroke="#f6f6f6" stroke-width="1.0" fill="none" stroke-linecap="round"/>
<path d="M21.2 19.2Q21.3 17.8 22.5 17.0" stroke="#e8e8e8" stroke-width="1.1" fill="none" stroke-linecap="round"/>
<path d="M25.2 22.9Q27.4 23.2 28.5 25.1" stroke="#606060" stroke-width="0.9" fill="none" stroke-linecap="round"/>
<path d="M8.9 28.5Q11.6 29.5 12.4 32.2" stroke="#444" stroke-width="1.2" fill="none" stroke-linecap="round"/>
<path d="M36.0 28.5Q37.1 25.8 39.8 25.0" stroke="#fcfcfc" stroke-width="0.8" fill="none" stroke-linecap="round"/>
<path d="M23.6 12.4Q26.2 11.6 28.3 13.2" stroke="#808080" stroke-width="1.0" fill="none" stroke-linecap="round"/>
<path d="M18.0 7.7Q19.8 8.5 20.3 10.4" stroke="#555" stroke-width="0.9" fill="none" stroke-linecap="round"/>
<path d="M5.2 13.7Q5.4 11.6 7.2 10.6" stroke="#f6f6f6" stroke-width="1.1" fill="none" stroke-linecap="round"/>
<path d="M54.5 25.4Q55.9 23.1 58.5 22.9" stroke="#e8e8e8" stroke-width="1.0" fill="none" stroke-linecap="round"/>
<path d="M47.0 19.1Q48.9 20.2 49.1 22.4" stroke="#606060" stroke-width="0.8" fill="none" stroke-linecap="round"/>
<path d="M28.8 34.0Q31.1 34.2 32.4 36.2" stroke="#444" stroke-width="0.9" fill="none" stroke-linecap="round"/>
<path d="M35.1 17.2Q38.2 16.1 40.9 17.9" stroke="#fcfcfc" stroke-width="1.3" fill="none" stroke-linecap="round"/>
<path d="M47.0 5.4Q49.0 4.8 50.8 6.0" stroke="#808080" stroke-width="1.2" fill="none" stroke-linecap="round"/>
<path d="M17.3 36.6Q18.3 34.6 20.5 34.3" stroke="#555" stroke-width="1.3" fill="none" stroke-linecap="round"/>
<path d="M33.3 35.3Q35.0 34.7 36.6 35.6" stroke="#f6f6f6" stroke-width="1.1" fill="none" stroke-linecap="round"/>
<path d="M29.8 20.9Q30.1 19.2 31.7 18.5" stroke="#e8e8e8" stroke-width="1.3" fill="none" stroke-linecap="round"/>
<path d="M54.2 37.2Q55.3 36.1 56.7 36.3" stroke="#606060" stroke-width="1.0" fill="none" stroke-linecap="round"/>
<path d="M42.2 26.4Q42.2 24.6 43.7 23.5" stroke="#444" stroke-width="1.1" fill="none" stroke-linecap="round"/>
<path d="M3.5 30.8Q4.9 32.0 4.8 33.9" stroke="#fcfcfc" stroke-width="0.6" fill="none" stroke-linecap="round"/>
<path d="M54.8 29.6Q56.7 28.4 58.9 29.2" stroke="#808080" stroke-width="1.2" fill="none" stroke-linecap="round"/>
<path d="M19.6 2.5Q21.5 2.1 23.0 3.5" stroke="#555" stroke-width="1.1" fill="none" stroke-linecap="round"/>
<path d="M53.9 15.1Q54.6 13.8 56.1 13.6" stroke="#f6f6f6" stroke-width="1.2" fill="none" stroke-linecap="round"/>
<path d="M3.0 34.9Q6.2 35.0 8.0 37.6" stroke="#e8e8e8" stroke-width="1.2" fill="none" stroke-linecap="round"/>
<path d="M11.1 5.9Q12.7 7.1 12.6 9.1" stroke="#606060" stroke-width="1.2" fill="none" stroke-linecap="round"/>
<path d="M9.2 11.4Q11.1 11.3 12.3 12.8" stroke="#444" stroke-width="1.1" fill="none" stroke-linecap="round"/>
<path d="M50.0 13.5Q50.8 12.3 52.3 12.2" stroke="#fcfcfc" stroke-width="0.9" fill="none" stroke-linecap="round"/>
<path d="M2.7 21.3Q5.2 21.3 6.7 23.3" stroke="#808080" stroke-width="1.0" fill="none" stroke-linecap="round"/>
<path d="M32.4 34.2Q35.3 33.0 37.9 34.6" stroke="#555" stroke-width="0.8" fill="none" stroke-linecap="round"/>
<path d="M7.8 8.1Q9.6 8.6 10.3 10.3" stroke="#f6f6f6" stroke-width="1.1" fill="none" stroke-linecap="round"/>
<path d="M51.0 22.9Q51.6 20.4 54.0 19.4" stroke="#e8e8e8" stroke-width="0.9" fill="none" stroke-linecap="round"/>
<path d="M51.1 10.5Q52.1 8.4 54.4 8.0" stroke="#606060" stroke-width="0.9" fill="none" stroke-linecap="round"/>
<path d="M9.8 14.0Q12.1 13.9 13.6 15.7" stroke="#444" stroke-width="0.6" fill="none" stroke-linecap="round"/>
<path d="M23.4 16.5Q24.6 15.7 26.0 16.2" stroke="#fcfcfc" stroke-width="0.8" fill="none" stroke-linecap="round"/>
<path d="M54.0 31.4Q56.3 33.1 56.4 35.9" stroke="#808080" stroke-width="0.9" fill="none" stroke-linecap="round"/>
<path d="M52.2 11.6Q54.7 11.0 56.7 12.6" stroke="#555" stroke-width="0.9" fill="none" stroke-linecap="round"/>
<path d="M13.6 12.6Q15.6 12.4 16.9 13.8" stroke="#f6f6f6" stroke-width="0.8" fill="none" stroke-linecap="round"/>
<path d="M19.7 11.4Q22.0 12.3 22.7 14.6" stroke="#e8e8e8" stroke-width="0.6" fill="none" stroke-linecap="round"/>
<path d="M41.6 18.2Q43.9 18.8 44.9 20.9" stroke="#606060" stroke-width="0.8" fill="none" stroke-linecap="round"/>
<path d="M47.0 8.5Q48.3 6.5 50.6 6.3" stroke="#444" stroke-width="1.2" fill="none" stroke-linecap="round"/>
<path d="M5.1 13.3Q7.7 12.3 10.0 13.7" stroke="#fcfcfc" stroke-width="0.7" fill="none" stroke-linecap="round"/>
<path d="M42.1 21.5Q44.1 20.6 46.0 21.7" stroke="#808080" stroke-width="0.8" fill="none" stroke-linecap="round"/>
<path d="M50.6 38.9Q51.2 37.2 52.9 36.6" stroke="#555" stroke-width="1.1" fill="none" stroke-linecap="round"/>
<path d="M43.1 32.2Q44.2 30.7 46.0 30.7" stroke="#f6f6f6" stroke-width="0.7" fill="none" stroke-linecap="round"/>
<path d="M21.6 20.8Q23.0 21.4 23.3 22.8" stroke="#e8e8e8" stroke-width="0.7" fill="none" stroke-linecap="round"/>
<path d="M37.4 27.0Q37.7 25.4 39.1 24.7" stroke="#606060" stroke-width="0.6" fill="none" stroke-linecap="round"/>
<path d="M36.0 12.8Q37.3 10.4 39.9 9.9" stroke="#444" stroke-width="0.7" fill="none" stroke-linecap="round"/>
<path d="M30.4 6.5Q30.5 3.8 32.8 2.3" stroke="#fcfcfc" stroke-width="1.2" fill="none" stroke-linecap="round"/>
<path d="M26.1 15.2Q27.7 15.3 28.6 16.5" stroke="#808080" stroke-width="0.8" fill="none" stroke-linecap="round"/>
<path d="M52.1 37.2Q52.0 35.8 53.1 35.0" stroke="#555" stroke-width="1.1" fill="none" stroke-linecap="round"/>
<path d="M24.8 28.5Q27.1 28.3 28.7 29.9" stroke="#f6f6f6" stroke-width="1.1" fill="none" stroke-linecap="round"/>
<path d="M32.7 1.8Q35.3 0.2 38.2 1.4" stroke="#e8e8e8" stroke-width="1.1" fill="none" stroke-linecap="round"/>
<path d="M37.1 22.8Q38.9 23.4 39.6 25.2" stroke="#606060" stroke-width="0.9" fill="none" stroke-linecap="round"/>
<path d="M35.5 32.0Q36.6 30.7 38.3 30.7" stroke="#444" stroke-width="0.8" fill="none" stroke-linecap="round"/>
<path d="M23.3 3.8Q26.5 3.3 28.7 5.5" stroke="#fcfcfc" stroke-width="0.8" fill="none" stroke-linecap="round"/>
<path d="M52.6 16.3Q55.6 15.1 58.5 16.8" stroke="#808080" stroke-width="1.1" fill="none" stroke-linecap="round"/>
<path d="M27.3 29.1Q29.7 27.7 32.3 28.8" stroke="#555" stroke-width="0.8" fill="none" stroke-linecap="round"/>
<path d="M3.3 23.0Q5.4 22.1 7.4 23.3" stroke="#f6f6f6" stroke-width="0.7" fill="none" stroke-linecap="round"/>
<path d="M53.5 3.5Q55.1 4.8 55.0 6.8" stroke="#e8e8e8" stroke-width="0.8" fill="none" stroke-linecap="round"/>
<path d="M52.0 35.2Q55.3 35.3 57.2 37.9" stroke="#606060" stroke-width="0.7" fill="none" stroke-linecap="round"/>
<path d="M47.8 25.0Q49.3 22.9 51.8 22.8" stroke="#444" stroke-width="0.7" fill="none" stroke-linecap="round"/>
<path d="M45.2 26.1Q45.5 24.3 47.1 23.4" stroke="#fcfcfc" stroke-width="0.8" fill="none" stroke-linecap="round"/>
<path d="M26.1 10.6Q27.5 8.6 30.0 8.5" stroke="#808080" stroke-width="0.7" fill="none" stroke-linecap="round"/>
<path d="M41.7 18.2Q43.7 16.6 46.1 17.2" stroke="#555" stroke-width="0.7" fill="none" stroke-linecap="round"/>
<path d="M48.9 4.9Q52.0 3.8 54.7 5.6" stroke="#f6f6f6" stroke-width="0.7" fill="none" stroke-linecap="round"/>
<path d="M40.2 35.3Q41.7 36.8 41.5 38.8" stroke="#e8e8e8" stroke-width="1.0" fill="none" stroke-linecap="round"/>
<path d="M53.2 22.2Q55.7 23.4 56.2 26.1" stroke="#606060" stroke-width="0.6" fill="none" stroke-linecap="round"/>
<path d="M18.7 34.2Q20.6 33.1 22.7 33.9" stroke="#444" stroke-width="0.8" fill="none" stroke-linecap="round"/>
<path d="M7.4 26.5Q9.8 24.4 12.8 25.0" stroke="#fcfcfc" stroke-width="0.6" fill="none" stroke-linecap="round"/>
<path d="M49.4 3.0Q51.6 3.7 52.3 5.9" stroke="#808080" stroke-width="1.1" fill="none" stroke-linecap="round"/>
<path d="M25.6 4.8Q27.8 6.3 27.8 9.0" stroke="#555" stroke-width="0.8" fill="none" stroke-linecap="round"/>
<path d="M32.8 9.3Q34.7 7.6 37.2 8.2" stroke="#f6f6f6" stroke-width="1.0" fill="none" stroke-linecap="round"/>
<path d="M5.0 8.3Q7.0 7.1 9.3 7.9" stroke="#e8e8e8" stroke-width="1.2" fill="none" stroke-linecap="round"/>
<path d="M32.4 31.5Q33.6 30.3 35.4 30.5" stroke="#606060" stroke-width="0.8" fill="none" stroke-linecap="round"/>
<path d="M-0.2 13.6Q2.9 13.2 5.0 15.4" stroke="#444" stroke-width="0.8" fill="none" stroke-linecap="round"/>
<path d="M38.6 27.5Q41.9 27.5 43.8 30.2" stroke="#fcfcfc" stroke-width="1.0" fill="none" stroke-linecap="round"/>
<path d="M25.8 22.0Q25.7 20.6 26.7 19.7" stroke="#808080" stroke-width="0.9" fill="none" stroke-linecap="round"/>
<path d="M20.2 6.8Q22.1 4.9 24.7 5.2" stroke="#555" stroke-width="1.0" fill="none" stroke-linecap="round"/>
<path d="M22.3 32.0Q22.4 28.8 24.9 27.0" stroke="#f6f6f6" stroke-width="1.1" fill="none" stroke-linecap="round"/>
<path d="M23.8 24.5Q26.0 26.0 26.1 28.7" stroke="#e8e8e8" stroke-width="1.1" fill="none" stroke-linecap="round"/>
<path d="M40.0 33.5Q41.7 34.4 42.0 36.3" stroke="#606060" stroke-width="0.6" fill="none" stroke-linecap="round"/>
<path d="M15.2 15.7Q16.2 13.6 18.5 13.3" stroke="#444" stroke-width="1.3" fill="none" stroke-linecap="round"/>
<path d="M10.8 14.0Q12.3 14.6 12.8 16.2" stroke="#fcfcfc" stroke-width="0.8" fill="none" stroke-linecap="round"/>
<path d="M31.3 28.2Q33.1 28.9 33.5 30.8" stroke="#808080" stroke-width="1.3" fill="none" stroke-linecap="round"/>
<path d="M24.4 7.3Q25.0 5.2 27.1 4.4" stroke="#555" stroke-width="1.2" fill="none" stroke-linecap="round"/>
<path d="M2.9 7.2Q5.8 8.1 6.9 10.9" stroke="#f6f6f6" stroke-width="0.7" fill="none" stroke-linecap="round"/>
<path d="M3.2 24.3Q4.6 24.7 5.2 26.1" stroke="#e8e8e8" stroke-width="1.0" fill="none" stroke-linecap="round"/>
<path d="M8.2 24.4Q8.5 22.8 9.9 22.0" stroke="#606060" stroke-width="1.0" fill="none" stroke-linecap="round"/>
<path d="M54.1 3.4Q54.3 1.6 55.9 0.7" stroke="#444" stroke-width="1.2" fill="none" stroke-linecap="round"/>
<path d="M12.0 11.5Q14.5 9.7 17.4 10.6" stroke="#fcfcfc" stroke-width="0.8" fill="none" stroke-linecap="round"/>
<path d="M25.9 18.6Q27.9 17.6 29.9 18.6" stroke="#808080" stroke-width="1.2" fill="none" stroke-linecap="round"/>
<path d="M10.7 21.8Q11.3 18.8 14.1 17.5" stroke="#555" stroke-width="0.9" fill="none" stroke-linecap="round"/>
<path d="M55.7 27.4Q56.9 24.5 60.0 23.6" stroke="#f6f6f6" stroke-width="0.8" fill="none" stroke-linecap="round"/>
<path d="M36.5 30.6Q36.7 28.9 38.3 28.0" stroke="#e8e8e8" stroke-width="0.9" fill="none" stroke-linecap="round"/>
<path d="M19.8 13.7Q20.9 11.9 23.0 11.7" stroke="#606060" stroke-width="1.3" fill="none" stroke-linecap="round"/>
<path d="M25.8 18.8Q26.7 17.3 28.4 17.0" stroke="#444" stroke-width="0.8" fill="none" stroke-linecap="round"/>
<path d="M50.1 35.2Q50.8 33.1 52.8 32.4" stroke="#fcfcfc" stroke-width="1.0" fill="none" stroke-linecap="round"/>
<path d="M31.3 10.8Q31.4 7.8 33.8 6.1" stroke="#808080" stroke-width="0.7" fill="none" stroke-linecap="round"/>
<path d="M21.9 28.3Q24.1 28.3 25.4 30.1" stroke="#555" stroke-width="1.2" fill="none" stroke-linecap="round"/>
<path d="M56.3 17.0Q58.5 18.1 58.9 20.5" stroke="#f6f6f6" stroke-width="0.9" fill="none" stroke-linecap="round"/>
<path d="M56.0 31.3Q56.5 28.9 58.8 27.9" stroke="#e8e8e8" stroke-width="0.9" fill="none" stroke-linecap="round"/>
<path d="M27.1 29.9Q28.8 27.9 31.4 28.1" stroke="#606060" stroke-width="0.8" fill="none" stroke-linecap="round"/>
<path d="M24.7 32.9Q26.8 33.1 27.8 34.9" stroke="#444" stroke-width="0.8" fill="none" stroke-linecap="round"/>
<path d="M34.7 16.9Q36.2 18.2 36.0 20.2" stroke="#fcfcfc" stroke-width="1.2" fill="none" stroke-linecap="round"/>
<path d="M13.4 29.4Q15.0 30.2 15.4 31.9" stroke="#808080" stroke-width="0.9" fill="none" stroke-linecap="round"/>
<path d="M40.0 18.4Q40.5 15.5 43.0 14.1" stroke="#555" stroke-width="0.9" fill="none" stroke-linecap="round"/>
<path d="M9.8 2.8Q11.6 2.0 13.3 3.0" stroke="#f6f6f6" stroke-width="1.2" fill="none" stroke-linecap="round"/>
<path d="M8.9 -0.1Q10.8 1.1 11.1 3.3" stroke="#e8e8e8" stroke-width="1.2" fill="none" stroke-linecap="round"/>
<path d="M32.8 32.4Q34.1 33.3 34.2 34.8" stroke="#606060" stroke-width="0.8" fill="none" stroke-linecap="round"/>
<path d="M8.9 35.1Q12.1 35.1 14.0 37.7" stroke="#444" stroke-width="1.3" fill="none" stroke-linecap="round"/>
<path d="M45.0 31.3Q47.2 32.8 47.2 35.4" stroke="#fcfcfc" stroke-width="1.2" fill="none" stroke-linecap="round"/>
<path d="M54.7 20.0Q55.8 17.5 58.4 16.9" stroke="#808080" stroke-width="0.6" fill="none" stroke-linecap="round"/>
<path d="M17.7 14.1Q19.1 14.5 19.6 15.8" stroke="#555" stroke-width="0.8" fill="none" stroke-linecap="round"/>
<path d="M17.2 23.9Q19.3 24.9 19.8 27.2" stroke="#f6f6f6" stroke-width="1.2" fill="none" stroke-linecap="round"/>
<path d="M23.6 20.3Q24.7 18.9 26.5 18.9" stroke="#e8e8e8" stroke-width="1.2" fill="none" stroke-linecap="round"/>
<path d="M33.4 10.7Q35.4 9.9 37.3 11.1" stroke="#606060" stroke-width="0.6" fill="none" stroke-linecap="round"/>
<path d="M39.3 32.7Q40.9 32.4 42.2 33.5" stroke="#444" stroke-width="0.9" fill="none" stroke-linecap="round"/>
<path d="M10.1 8.7Q11.9 6.1 15.1 5.9" stroke="#fcfcfc" stroke-width="1.2" fill="none" stroke-linecap="round"/>
<path d="M45.3 36.7Q45.6 34.9 47.2 34.0" stroke="#808080" stroke-width="0.6" fill="none" stroke-linecap="round"/>
<path d="M-0.9 25.2Q1.0 23.6 3.4 24.2" stroke="#555" stroke-width="1.2" fill="none" stroke-linecap="round"/>
<path d="M16.4 9.1Q17.8 9.6 18.3 11.0" stroke="#f6f6f6" stroke-width="1.2" fill="none" stroke-linecap="round"/>
<path d="M19.7 3.1Q20.3 1.7 21.9 1.3" stroke="#e8e8e8" stroke-width="1.2" fill="none" stroke-linecap="round"/>
<path d="M2.6 2.5Q4.4 2.2 5.7 3.4" stroke="#606060" stroke-width="0.8" fill="none" stroke-linecap="round"/>
<path d="M44.3 15.8Q46.3 16.0 47.3 17.7" stroke="#444" stroke-width="0.7" fill="none" stroke-linecap="round"/>
<path d="M4.0 33.1Q4.3 31.6 5.7 30.9" stroke="#fcfcfc" stroke-width="0.7" fill="none" stroke-linecap="round"/>
<path d="M28.4 26.5Q30.7 25.3 33.1 26.4" stroke="#808080" stroke-width="0.9" fill="none" stroke-linecap="round"/>
<path d="M42.1 24.6Q42.8 22.7 44.7 22.0" stroke="#555" stroke-width="1.3" fill="none" stroke-linecap="round"/>
<path d="M24.9 27.8Q25.7 25.2 28.3 24.3" stroke="#f6f6f6" stroke-width="1.1" fill="none" stroke-linecap="round"/>
<path d="M8.3 36.3Q9.9 34.9 11.9 35.4" stroke="#e8e8e8" stroke-width="1.1" fill="none" stroke-linecap="round"/>
<path d="M52.1 31.8Q53.6 31.3 54.8 32.2" stroke="#606060" stroke-width="0.9" fill="none" stroke-linecap="round"/>
<path d="M34.8 33.3Q35.7 31.2 37.9 30.6" stroke="#444" stroke-width="1.0" fill="none" stroke-linecap="round"/>
<path d="M39.3 1.6Q40.8 2.3 41.1 3.9" stroke="#fcfcfc" stroke-width="1.2" fill="none" stroke-linecap="round"/>
<path d="M48.4 23.5Q50.3 22.7 52.1 23.9" stroke="#808080" stroke-width="0.9" fill="none" stroke-linecap="round"/>
<path d="M51.7 25.5Q53.4 24.4 55.4 25.2" stroke="#555" stroke-width="1.3" fill="none" stroke-linecap="round"/>
<path d="M53.4 33.6Q55.1 34.7 55.3 36.8" stroke="#f6f6f6" stroke-width="1.2" fill="none" stroke-linecap="round"/>
<path d="M38.0 33.3Q41.0 33.6 42.5 36.3" stroke="#e8e8e8" stroke-width="1.2" fill="none" stroke-linecap="round"/>
<path d="M33.0 28.4Q33.2 26.3 35.0 25.1" stroke="#606060" stroke-width="1.2" fill="none" stroke-linecap="round"/>
<path d="M4.4 12.6Q6.6 12.2 8.2 13.8" stroke="#444" stroke-width="0.7" fill="none" stroke-linecap="round"/>
<path d="M8.5 25.4Q10.9 24.5 13.0 25.9" stroke="#fcfcfc" stroke-width="1.2" fill="none" stroke-linecap="round"/>
<path d="M52.9 10.1Q55.1 11.2 55.5 13.6" stroke="#808080" stroke-width="1.1" fill="none" stroke-linecap="round"/>
<path d="M5.4 13.3Q8.0 15.2 8.1 18.4" stroke="#555" stroke-width="0.9" fill="none" stroke-linecap="round"/>
<path d="M12.1 36.5Q15.0 35.1 17.9 36.5" stroke="#f6f6f6" stroke-width="0.6" fill="none" stroke-linecap="round"/>
<path d="M34.1 13.4Q33.9 11.1 35.6 9.5" stroke="#e8e8e8" stroke-width="1.3" fill="none" stroke-linecap="round"/>
<path d="M24.7 7.6Q27.8 7.7 29.6 10.2" stroke="#606060" stroke-width="1.1" fill="none" stroke-linecap="round"/>
<path d="M13.7 28.5Q15.9 29.0 16.9 31.1" stroke="#444" stroke-width="1.1" fill="none" stroke-linecap="round"/>
<path d="M0.3 9.4Q2.7 7.2 5.8 7.8" stroke="#fcfcfc" stroke-width="1.1" fill="none" stroke-linecap="round"/>
<path d="M37.9 30.8Q39.5 30.9 40.3 32.2" stroke="#808080" stroke-width="1.2" fill="none" stroke-linecap="round"/>
<path d="M42.5 8.5Q44.7 8.0 46.4 9.4" stroke="#555" stroke-width="0.6" fill="none" stroke-linecap="round"/>
<path d="M44.2 12.9Q47.1 12.5 49.3 14.6" stroke="#f6f6f6" stroke-width="1.3" fill="none" stroke-linecap="round"/>
<path d="M30.5 18.9Q30.3 17.3 31.5 16.2" stroke="#e8e8e8" stroke-width="1.1" fill="none" stroke-linecap="round"/>
<path d="M9.6 22.4Q10.5 19.6 13.2 18.6" stroke="#606060" stroke-width="0.7" fill="none" stroke-linecap="round"/>
<path d="M43.4 16.4Q45.5 16.7 46.5 18.5" stroke="#444" stroke-width="1.3" fill="none" stroke-linecap="round"/>
<path d="M27.9 16.4Q29.5 15.2 31.4 15.7" stroke="#fcfcfc" stroke-width="1.1" fill="none" stroke-linecap="round"/>
<path d="M10.2 5.2Q11.6 6.4 11.6 8.2" stroke="#808080" stroke-width="1.2" fill="none" stroke-linecap="round"/>
<path d="M4.7 24.5Q5.0 22.5 6.8 21.5" stroke="#555" stroke-width="0.8" fill="none" stroke-linecap="round"/>
<path d="M33.7 2.5Q35.3 0.0 38.1 -0.2" stroke="#f6f6f6" stroke-width="1.1" fill="none" stroke-linecap="round"/>
<path d="M44.4 21.2Q46.6 21.5 47.6 23.5" stroke="#e8e8e8" stroke-width="0.8" fill="none" stroke-linecap="round"/>
<path d="M45.4 18.0Q46.1 14.8 49.1 13.4" stroke="#606060" stroke-width="0.7" fill="none" stroke-linecap="round"/>
<path d="M43.2 6.9Q45.6 8.0 46.2 10.5" stroke="#444" stroke-width="1.3" fill="none" stroke-linecap="round"/>
<path d="M32.6 32.2Q35.4 30.8 38.2 32.1" stroke="#fcfcfc" stroke-width="0.9" fill="none" stroke-linecap="round"/>
<path d="M53.2 23.8Q54.5 24.6 54.6 26.0" stroke="#808080" stroke-width="0.9" fill="none" stroke-linecap="round"/>
<path d="M50.4 10.7Q52.5 9.9 54.4 11.1" stroke="#555" stroke-width="0.6" fill="none" stroke-linecap="round"/>
<path d="M0.7 20.0Q2.9 17.8 6.0 18.3" stroke="#f6f6f6" stroke-width="0.8" fill="none" stroke-linecap="round"/>
<path d="M7.1 6.1Q9.7 4.0 12.9 4.8" stroke="#e8e8e8" stroke-width="1.2" fill="none" stroke-linecap="round"/>
<path d="M29.1 19.5Q31.9 19.0 33.9 21.0" stroke="#606060" stroke-width="0.6" fill="none" stroke-linecap="round"/>
<path d="M52.6 33.5Q54.4 32.5 56.3 33.2" stroke="#444" stroke-width="1.0" fill="none" stroke-linecap="round"/>
<path d="M28.2 14.8Q28.7 12.0 31.3 10.8" stroke="#fcfcfc" stroke-width="1.2" fill="none" stroke-linecap="round"/>
<path d="M36.5 12.0Q37.9 11.0 39.6 11.5" stroke="#808080" stroke-width="1.3" fill="none" stroke-linecap="round"/>
<path d="M12.9 13.2Q15.7 12.9 17.7 14.9" stroke="#555" stroke-width="0.9" fill="none" stroke-linecap="round"/>
<path d="M7.6 15.0Q9.5 15.5 10.1 17.4" stroke="#f6f6f6" stroke-width="0.9" fill="none" stroke-linecap="round"/>
<path d="M14.7 15.5Q16.2 13.7 18.5 13.9" stroke="#e8e8e8" stroke-width="1.2" fill="none" stroke-linecap="round"/>
<path d="M46.1 8.5Q47.0 6.6 49.0 6.3" stroke="#606060" stroke-width="1.1" fill="none" stroke-linecap="round"/>
<path d="M41.7 29.3Q42.4 27.6 44.2 27.2" stroke="#444" stroke-width="1.3" fill="none" stroke-linecap="round"/>
<path d="M32.8 30.7Q33.7 28.3 36.3 27.6" stroke="#fcfcfc" stroke-width="0.8" fill="none" stroke-linecap="round"/>
<path d="M27.5 16.0Q29.4 16.8 29.9 18.9" stroke="#808080" stroke-width="1.1" fill="none" stroke-linecap="round"/>
<path d="M17.5 22.1Q19.2 22.9 19.6 24.7" stroke="#555" stroke-width="0.9" fill="none" stroke-linecap="round"/>
<path d="M55.3 29.7Q57.6 30.9 58.1 33.5" stroke="#f6f6f6" stroke-width="0.9" fill="none" stroke-linecap="round"/>
<ellipse cx="32.8" cy="32.2" rx="14" ry="2.6" fill="#777" opacity="0.8"/>
<path d="M5.8 28.1Q25.6 33.3 48.5 26.5" stroke="#505050" stroke-width="0.9" fill="none"/>
<ellipse cx="21.9" cy="6.7" rx="5.3" ry="2.8" fill="#fb0a0a"/>
<ellipse cx="18.3" cy="8.7" rx="3.1" ry="1.5" fill="#fb0a0a" transform="rotate(-31 18.3 8.7)"/>
<ellipse cx="26.2" cy="9.0" rx="3.1" ry="1.5" fill="#fb0a0a" transform="rotate(36 26.2 9.0)"/>
<ellipse cx="24.7" cy="7.6" rx="3.1" ry="1.5" fill="#fb0a0a" transform="rotate(-9 24.7 7.6)"/>
<ellipse cx="25.6" cy="9.5" rx="3.5" ry="2.1" fill="#fb0a0a"/>
<ellipse cx="27.8" cy="9.9" rx="2.1" ry="1.1" fill="#fb0a0a" transform="rotate(1 27.8 9.9)"/>
<ellipse cx="23.1" cy="8.0" rx="2.1" ry="1.1" fill="#fb0a0a" transform="rotate(14 23.1 8.0)"/>
<ellipse cx="23.1" cy="10.3" rx="2.1" ry="1.1" fill="#fb0a0a" transform="rotate(-5 23.1 10.3)"/>
<ellipse cx="16.7" cy="4.6" rx="2.5" ry="1.4" fill="#fb0a0a"/>
<ellipse cx="15.0" cy="4.8" rx="1.5" ry="0.8" fill="#fb0a0a" transform="rotate(23 15.0 4.8)"/>
<ellipse cx="19.0" cy="4.0" rx="1.5" ry="0.8" fill="#fb0a0a" transform="rotate(-9 19.0 4.0)"/>
<ellipse cx="16.6" cy="4.6" rx="1.5" ry="0.8" fill="#fb0a0a" transform="rotate(-21 16.6 4.6)"/>
<ellipse cx="9.9" cy="7.5" rx="3.0" ry="2.5" fill="#fb0a0a"/>
<ellipse cx="9.0" cy="5.5" rx="1.8" ry="1.3" fill="#fb0a0a" transform="rotate(6 9.0 5.5)"/>
<ellipse cx="12.7" cy="5.7" rx="1.8" ry="1.3" fill="#fb0a0a" transform="rotate(18 12.7 5.7)"/>
<ellipse cx="10.1" cy="6.6" rx="1.8" ry="1.3" fill="#fb0a0a" transform="rotate(-13 10.1 6.6)"/>
<ellipse cx="7.6" cy="9.8" rx="1.4" ry="1.1" fill="#fb0a0a"/>
<ellipse cx="8.9" cy="9.1" rx="0.8" ry="0.6" fill="#fb0a0a" transform="rotate(7 8.9 9.1)"/>
<ellipse cx="7.7" cy="10.7" rx="0.8" ry="0.6" fill="#fb0a0a" transform="rotate(-24 7.7 10.7)"/>
<ellipse cx="6.4" cy="10.6" rx="0.8" ry="0.6" fill="#fb0a0a" transform="rotate(-14 6.4 10.6)"/>
<ellipse cx="12.0" cy="5.0" rx="1.6" ry="1.1" fill="#fb0a0a"/>
<ellipse cx="11.7" cy="4.2" rx="0.9" ry="0.6" fill="#fb0a0a" transform="rotate(-22 11.7 4.2)"/>
<ellipse cx="11.2" cy="5.3" rx="0.9" ry="0.6" fill="#fb0a0a" transform="rotate(-29 11.2 5.3)"/>
<ellipse cx="11.1" cy="4.8" rx="0.9" ry="0.6" fill="#fb0a0a" transform="rotate(-8 11.1 4.8)"/>
<ellipse cx="36.5" cy="8.3" rx="1.9" ry="1.5" fill="#fb0a0a"/>
<ellipse cx="34.8" cy="9.7" rx="1.1" ry="0.8" fill="#fb0a0a" transform="rotate(27 34.8 9.7)"/>
<ellipse cx="37.5" cy="8.9" rx="1.1" ry="0.8" fill="#fb0a0a" transform="rotate(-8 37.5 8.9)"/>
<ellipse cx="37.1" cy="9.2" rx="1.1" ry="0.8" fill="#fb0a0a" transform="rotate(17 37.1 9.2)"/>
<ellipse cx="33.0" cy="14.0" rx="4.0" ry="2.3" fill="#fb0a0a"/>
<ellipse cx="35.9" cy="15.2" rx="2.3" ry="1.2" fill="#fb0a0a" transform="rotate(19 35.9 15.2)"/>
<ellipse cx="36.1" cy="15.3" rx="2.3" ry="1.2" fill="#fb0a0a" transform="rotate(-13 36.1 15.3)"/>
<ellipse cx="33.1" cy="12.3" rx="2.3" ry="1.2" fill="#fb0a0a" transform="rotate(-6 33.1 12.3)"/>
<ellipse cx="40.1" cy="11.4" rx="1.6" ry="1.0" fill="#fb0a0a"/>
<ellipse cx="40.6" cy="10.9" rx="0.9" ry="0.5" fill="#fb0a0a" transform="rotate(6 40.6 10.9)"/>
<ellipse cx="39.6" cy="10.9" rx="0.9" ry="0.5" fill="#fb0a0a" transform="rotate(-11 39.6 10.9)"/>
<ellipse cx="40.4" cy="11.3" rx="0.9" ry="0.5" fill="#fb0a0a" transform="rotate(-4 40.4 11.3)"/>
<ellipse cx="34.9" cy="22.0" rx="5.1" ry="2.9" fill="#fb0a0a"/>
<ellipse cx="37.6" cy="22.8" rx="3.0" ry="1.5" fill="#fb0a0a" transform="rotate(7 37.6 22.8)"/>
<ellipse cx="31.2" cy="19.4" rx="3.0" ry="1.5" fill="#fb0a0a" transform="rotate(-10 31.2 19.4)"/>
<ellipse cx="31.3" cy="22.9" rx="3.0" ry="1.5" fill="#fb0a0a" transform="rotate(28 31.3 22.9)"/>
<ellipse cx="30.2" cy="19.2" rx="2.2" ry="1.8" fill="#fb0a0a"/>
<ellipse cx="31.2" cy="19.0" rx="1.3" ry="0.9" fill="#fb0a0a" transform="rotate(27 31.2 19.0)"/>
<ellipse cx="31.1" cy="19.3" rx="1.3" ry="0.9" fill="#fb0a0a" transform="rotate(8 31.1 19.3)"/>
<ellipse cx="28.9" cy="17.6" rx="1.3" ry="0.9" fill="#fb0a0a" transform="rotate(34 28.9 17.6)"/>
<ellipse cx="40.3" cy="24.5" rx="2.2" ry="1.5" fill="#fb0a0a"/>
<ellipse cx="42.3" cy="24.6" rx="1.3" ry="0.8" fill="#fb0a0a" transform="rotate(6 42.3 24.6)"/>
<ellipse cx="41.5" cy="23.4" rx="1.3" ry="0.8" fill="#fb0a0a" transform="rotate(18 41.5 23.4)"/>
<ellipse cx="41.6" cy="23.8" rx="1.3" ry="0.8" fill="#fb0a0a" transform="rotate(5 41.6 23.8)"/>
<ellipse cx="28.7" cy="16.1" rx="1.6" ry="1.2" fill="#fb0a0a"/>
<ellipse cx="29.6" cy="17.1" rx="0.9" ry="0.7" fill="#fb0a0a" transform="rotate(-7 29.6 17.1)"/>
<ellipse cx="27.6" cy="16.6" rx="0.9" ry="0.7" fill="#fb0a0a" transform="rotate(9 27.6 16.6)"/>
<ellipse cx="28.7" cy="15.8" rx="0.9" ry="0.7" fill="#fb0a0a" transform="rotate(-38 28.7 15.8)"/>
<ellipse cx="9.9" cy="29.6" rx="3.9" ry="1.8" fill="#fb0a0a"/>
<ellipse cx="13.0" cy="29.2" rx="2.3" ry="0.9" fill="#fb0a0a" transform="rotate(-36 13.0 29.2)"/>
<ellipse cx="7.0" cy="29.9" rx="2.3" ry="0.9" fill="#fb0a0a" transform="rotate(-37 7.0 29.9)"/>
<ellipse cx="11.9" cy="30.4" rx="2.3" ry="0.9" fill="#fb0a0a" transform="rotate(-40 11.9 30.4)"/>
<ellipse cx="6.8" cy="28.1" rx="1.2" ry="0.9" fill="#fb0a0a"/>
<ellipse cx="7.1" cy="27.8" rx="0.7" ry="0.5" fill="#fb0a0a" transform="rotate(-17 7.1 27.8)"/>
<ellipse cx="20.3" cy="33.8" rx="4.2" ry="2.8" fill="#fb0a0a"/>
<ellipse cx="23.2" cy="31.5" rx="2.5" ry="1.5" fill="#fb0a0a" transform="rotate(-7 23.2 31.5)"/>
<ellipse cx="24.0" cy="31.6" rx="2.5" ry="1.5" fill="#fb0a0a" transform="rotate(9 24.0 31.6)"/>
<ellipse cx="18.4" cy="32.4" rx="2.5" ry="1.5" fill="#fb0a0a" transform="rotate(-13 18.4 32.4)"/>
<ellipse cx="25.8" cy="35.6" rx="2.5" ry="1.8" fill="#fb0a0a"/>
<ellipse cx="26.8" cy="35.3" rx="1.5" ry="0.9" fill="#fb0a0a" transform="rotate(17 26.8 35.3)"/>
<ellipse cx="27.7" cy="37.0" rx="1.5" ry="0.9" fill="#fb0a0a" transform="rotate(3 27.7 37.0)"/>
<ellipse cx="24.6" cy="36.0" rx="1.5" ry="0.9" fill="#fb0a0a" transform="rotate(-33 24.6 36.0)"/>
<ellipse cx="12.2" cy="34.8" rx="1.3" ry="1.0" fill="#fb0a0a"/>
<ellipse cx="11.8" cy="34.5" rx="0.8" ry="0.5" fill="#fb0a0a" transform="rotate(36 11.8 34.5)"/>
<ellipse cx="56.8" cy="16.1" rx="0.9" ry="0.9" fill="#fb0a0a"/>
<ellipse cx="56.9" cy="15.9" rx="0.5" ry="0.5" fill="#fb0a0a" transform="rotate(-17 56.9 15.9)"/>
<ellipse cx="30.2" cy="11.4" rx="1.2" ry="0.9" fill="#fb0a0a"/>
<ellipse cx="30.3" cy="11.5" rx="0.7" ry="0.5" fill="#fb0a0a" transform="rotate(29 30.3 11.5)"/>
<circle cx="16.7" cy="17.1" r="0.8" fill="#5a0c0c"/>
<circle cx="21.9" cy="18.2" r="0.8" fill="#5a0c0c"/>
<circle cx="26.6" cy="20.8" r="0.8" fill="#5a0c0c"/>
<circle cx="20.9" cy="24.4" r="0.8" fill="#5a0c0c"/>
<circle cx="15.1" cy="24.9" r="0.8" fill="#5a0c0c"/>
<circle cx="7.8" cy="23.9" r="0.8" fill="#5a0c0c"/>
<circle cx="48.5" cy="12.4" r="0.8" fill="#5a0c0c"/>
<circle cx="56.8" cy="21.0" r="0.8" fill="#5a0c0c"/>
<circle cx="13.1" cy="13.5" r="0.8" fill="#5a0c0c"/>
<circle cx="32.8" cy="18.2" r="0.8" fill="#5a0c0c"/>
<circle cx="39.1" cy="7.2" r="0.8" fill="#5a0c0c"/>
<circle cx="18.8" cy="12.4" r="0.8" fill="#5a0c0c"/>
</g></g></symbol>
<symbol id="ab" viewBox="0 0 60 40" overflow="visible">
<g filter="url(#bl)">
<path d="M0.21 22.56C0.12 20.53 0.98 17.55 2.29 15.04C3.60 12.54 5.57 9.74 8.07 7.53C10.58 5.31 13.85 3.00 17.32 1.75C20.79 0.49 25.03 0.01 28.88 0.01C32.74 0.01 36.97 0.69 40.44 1.75C43.91 2.81 46.99 4.35 49.69 6.37C52.39 8.39 54.99 11.28 56.63 13.88C58.27 16.49 59.42 19.67 59.52 21.98C59.61 24.29 58.46 26.31 57.21 27.76C55.95 29.20 54.03 30.26 52.00 30.65C49.98 31.03 46.99 29.97 45.07 30.07C43.14 30.17 41.12 30.26 40.44 31.23C39.77 32.19 41.60 34.54 41.02 35.85C40.44 37.16 38.61 38.80 36.97 39.09C35.34 39.38 33.12 38.61 31.19 37.58C29.27 36.56 27.15 34.02 25.41 32.96C23.68 31.90 22.52 31.61 20.79 31.23C19.06 30.84 17.13 31.03 15.01 30.65C12.89 30.26 10.10 29.49 8.07 28.91C6.05 28.34 4.18 28.24 2.87 27.18C1.56 26.12 0.31 24.58 0.21 22.56Z" fill="#f3f3f3" stroke="#d2d2d2" stroke-width="1.5"/>
<path d="M23.1 30.6Q32.4 32.4 42.8 30.3L41.0 35.6L37.0 38.4L31.4 37.0L25.6 32.4Z" fill="#dedede"/>
<circle cx="32.1" cy="1.3" r="2.2" fill="#52d852" opacity="0.26"/>
<circle cx="32.1" cy="1.3" r="1.0" fill="#52d852" opacity="0.6"/>
<circle cx="32.1" cy="1.3" r="0.55" fill="#205620"/>
<circle cx="17.4" cy="4.6" r="2.2" fill="#d0d040" opacity="0.26"/>
<circle cx="17.4" cy="4.6" r="1.0" fill="#d0d040" opacity="0.6"/>
<circle cx="17.4" cy="4.6" r="0.55" fill="#535319"/>
<circle cx="20.7" cy="4.5" r="2.2" fill="#d0d040" opacity="0.26"/>
<circle cx="20.7" cy="4.5" r="1.0" fill="#d0d040" opacity="0.6"/>
<circle cx="20.7" cy="4.5" r="0.55" fill="#535319"/>
<circle cx="22.5" cy="3.7" r="2.2" fill="#52d852" opacity="0.26"/>
<circle cx="22.5" cy="3.7" r="1.0" fill="#52d852" opacity="0.6"/>
<circle cx="22.5" cy="3.7" r="0.55" fill="#205620"/>
<circle cx="26.0" cy="4.0" r="2.2" fill="#52d852" opacity="0.26"/>
<circle cx="26.0" cy="4.0" r="1.0" fill="#52d852" opacity="0.6"/>
<circle cx="26.0" cy="4.0" r="0.55" fill="#205620"/>
<circle cx="31.1" cy="4.8" r="2.2" fill="#35cc35" opacity="0.26"/>
<circle cx="31.1" cy="4.8" r="1.0" fill="#35cc35" opacity="0.6"/>
<circle cx="31.1" cy="4.8" r="0.55" fill="#155115"/>
<circle cx="34.2" cy="4.7" r="2.2" fill="#35cc35" opacity="0.26"/>
<circle cx="34.2" cy="4.7" r="1.0" fill="#35cc35" opacity="0.6"/>
<circle cx="34.2" cy="4.7" r="0.55" fill="#155115"/>
<circle cx="37.1" cy="5.2" r="2.2" fill="#a0e098" opacity="0.26"/>
<circle cx="37.1" cy="5.2" r="1.0" fill="#a0e098" opacity="0.6"/>
<circle cx="37.1" cy="5.2" r="0.55" fill="#40593c"/>
<circle cx="41.1" cy="5.4" r="2.2" fill="#a0e098" opacity="0.26"/>
<circle cx="41.1" cy="5.4" r="1.0" fill="#a0e098" opacity="0.6"/>
<circle cx="41.1" cy="5.4" r="0.55" fill="#40593c"/>
<circle cx="12.4" cy="7.6" r="2.2" fill="#e048e0" opacity="0.26"/>
<circle cx="12.4" cy="7.6" r="1.0" fill="#e048e0" opacity="0.6"/>
<circle cx="12.4" cy="7.6" r="0.55" fill="#591c59"/>
<circle cx="14.2" cy="7.6" r="2.2" fill="#d0d040" opacity="0.26"/>
<circle cx="14.2" cy="7.6" r="1.0" fill="#d0d040" opacity="0.6"/>
<circle cx="14.2" cy="7.6" r="0.55" fill="#535319"/>
<circle cx="18.4" cy="8.8" r="2.2" fill="#d0d040" opacity="0.26"/>
<circle cx="18.4" cy="8.8" r="1.0" fill="#d0d040" opacity="0.6"/>
<circle cx="18.4" cy="8.8" r="0.55" fill="#535319"/>
<circle cx="21.5" cy="6.9" r="2.2" fill="#d0d040" opacity="0.26"/>
<circle cx="21.5" cy="6.9" r="1.0" fill="#d0d040" opacity="0.6"/>
<circle cx="21.5" cy="6.9" r="0.55" fill="#535319"/>
<circle cx="25.9" cy="7.1" r="2.2" fill="#b8d848" opacity="0.26"/>
<circle cx="25.9" cy="7.1" r="1.0" fill="#b8d848" opacity="0.6"/>
<circle cx="25.9" cy="7.1" r="0.55" fill="#49561c"/>
<circle cx="28.4" cy="8.6" r="2.2" fill="#35cc35" opacity="0.26"/>
<circle cx="28.4" cy="8.6" r="1.0" fill="#35cc35" opacity="0.6"/>
<circle cx="28.4" cy="8.6" r="0.55" fill="#155115"/>
<circle cx="31.9" cy="7.8" r="2.2" fill="#35cc35" opacity="0.26"/>
<circle cx="31.9" cy="7.8" r="1.0" fill="#35cc35" opacity="0.6"/>
<circle cx="31.9" cy="7.8" r="0.55" fill="#155115"/>
<circle cx="35.8" cy="6.9" r="2.2" fill="#a0e098" opacity="0.26"/>
<circle cx="35.8" cy="6.9" r="1.0" fill="#a0e098" opacity="0.6"/>
<circle cx="35.8" cy="6.9" r="0.55" fill="#40593c"/>
<circle cx="38.7" cy="7.7" r="2.2" fill="#a0e098" opacity="0.26"/>
<circle cx="38.7" cy="7.7" r="1.0" fill="#a0e098" opacity="0.6"/>
<circle cx="38.7" cy="7.7" r="0.55" fill="#40593c"/>
<circle cx="42.9" cy="8.5" r="2.2" fill="#a0e098" opacity="0.26"/>
<circle cx="42.9" cy="8.5" r="1.0" fill="#a0e098" opacity="0.6"/>
<circle cx="42.9" cy="8.5" r="0.55" fill="#40593c"/>
<circle cx="44.3" cy="7.2" r="2.2" fill="#8a40b0" opacity="0.26"/>
<circle cx="44.3" cy="7.2" r="1.0" fill="#8a40b0" opacity="0.6"/>
<circle cx="44.3" cy="7.2" r="0.55" fill="#371946"/>
<circle cx="48.5" cy="8.3" r="2.2" fill="#d8d0a0" opacity="0.26"/>
<circle cx="48.5" cy="8.3" r="1.0" fill="#d8d0a0" opacity="0.6"/>
<circle cx="48.5" cy="8.3" r="0.55" fill="#565340"/>
<circle cx="7.2" cy="11.8" r="2.2" fill="#e048e0" opacity="0.26"/>
<circle cx="7.2" cy="11.8" r="1.0" fill="#e048e0" opacity="0.6"/>
<circle cx="7.2" cy="11.8" r="0.55" fill="#591c59"/>
<circle cx="10.5" cy="11.6" r="2.2" fill="#e048e0" opacity="0.26"/>
<circle cx="10.5" cy="11.6" r="1.0" fill="#e048e0" opacity="0.6"/>
<circle cx="10.5" cy="11.6" r="0.55" fill="#591c59"/>
<circle cx="13.9" cy="12.2" r="2.2" fill="#e048e0" opacity="0.26"/>
<circle cx="13.9" cy="12.2" r="1.0" fill="#e048e0" opacity="0.6"/>
<circle cx="13.9" cy="12.2" r="0.55" fill="#591c59"/>
<circle cx="16.5" cy="10.4" r="2.2" fill="#d0d040" opacity="0.26"/>
<circle cx="16.5" cy="10.4" r="1.0" fill="#d0d040" opacity="0.6"/>
<circle cx="16.5" cy="10.4" r="0.55" fill="#535319"/>
<circle cx="19.6" cy="10.6" r="2.2" fill="#d0d040" opacity="0.26"/>
<circle cx="19.6" cy="10.6" r="1.0" fill="#d0d040" opacity="0.6"/>
<circle cx="19.6" cy="10.6" r="0.55" fill="#535319"/>
<circle cx="23.2" cy="11.9" r="2.2" fill="#b8d848" opacity="0.26"/>
<circle cx="23.2" cy="11.9" r="1.0" fill="#b8d848" opacity="0.6"/>
<circle cx="23.2" cy="11.9" r="0.55" fill="#49561c"/>
<circle cx="25.9" cy="11.1" r="2.2" fill="#b8d848" opacity="0.26"/>
<circle cx="25.9" cy="11.1" r="1.0" fill="#b8d848" opacity="0.6"/>
<circle cx="25.9" cy="11.1" r="0.55" fill="#49561c"/>
<circle cx="30.8" cy="10.7" r="2.2" fill="#35cc35" opacity="0.26"/>
<circle cx="30.8" cy="10.7" r="1.0" fill="#35cc35" opacity="0.6"/>
<circle cx="30.8" cy="10.7" r="0.55" fill="#155115"/>
<circle cx="32.6" cy="10.7" r="2.2" fill="#35cc35" opacity="0.26"/>
<circle cx="32.6" cy="10.7" r="1.0" fill="#35cc35" opacity="0.6"/>
<circle cx="32.6" cy="10.7" r="0.55" fill="#155115"/>
<circle cx="36.0" cy="11.9" r="2.2" fill="#6cd86c" opacity="0.26"/>
<circle cx="36.0" cy="11.9" r="1.0" fill="#6cd86c" opacity="0.6"/>
<circle cx="36.0" cy="11.9" r="0.55" fill="#2b562b"/>
<circle cx="39.5" cy="10.6" r="2.2" fill="#6cd86c" opacity="0.26"/>
<circle cx="39.5" cy="10.6" r="1.0" fill="#6cd86c" opacity="0.6"/>
<circle cx="39.5" cy="10.6" r="0.55" fill="#2b562b"/>
<circle cx="44.2" cy="11.9" r="2.2" fill="#c8c878" opacity="0.26"/>
<circle cx="44.2" cy="11.9" r="1.0" fill="#c8c878" opacity="0.6"/>
<circle cx="44.2" cy="11.9" r="0.55" fill="#505030"/>
<circle cx="47.1" cy="12.1" r="2.2" fill="#d8d0a0" opacity="0.26"/>
<circle cx="47.1" cy="12.1" r="1.0" fill="#d8d0a0" opacity="0.6"/>
<circle cx="47.1" cy="12.1" r="0.55" fill="#565340"/>
<circle cx="49.4" cy="12.2" r="2.2" fill="#d8d0a0" opacity="0.26"/>
<circle cx="49.4" cy="12.2" r="1.0" fill="#d8d0a0" opacity="0.6"/>
<circle cx="49.4" cy="12.2" r="0.55" fill="#565340"/>
<circle cx="5.3" cy="14.0" r="2.2" fill="#e878d8" opacity="0.26"/>
<circle cx="5.3" cy="14.0" r="1.0" fill="#e878d8" opacity="0.6"/>
<circle cx="5.3" cy="14.0" r="0.55" fill="#5c3056"/>
<circle cx="7.4" cy="14.7" r="2.2" fill="#e878d8" opacity="0.26"/>
<circle cx="7.4" cy="14.7" r="1.0" fill="#e878d8" opacity="0.6"/>
<circle cx="7.4" cy="14.7" r="0.55" fill="#5c3056"/>
<circle cx="11.4" cy="15.4" r="2.2" fill="#e048e0" opacity="0.26"/>
<circle cx="11.4" cy="15.4" r="1.0" fill="#e048e0" opacity="0.6"/>
<circle cx="11.4" cy="15.4" r="0.55" fill="#591c59"/>
<circle cx="15.0" cy="14.4" r="2.2" fill="#d850c8" opacity="0.26"/>
<circle cx="15.0" cy="14.4" r="1.0" fill="#d850c8" opacity="0.6"/>
<circle cx="15.0" cy="14.4" r="0.55" fill="#562050"/>
<circle cx="18.7" cy="14.6" r="2.2" fill="#4878e0" opacity="0.26"/>
<circle cx="18.7" cy="14.6" r="1.0" fill="#4878e0" opacity="0.6"/>
<circle cx="18.7" cy="14.6" r="0.55" fill="#1c3059"/>
<circle cx="22.7" cy="15.2" r="2.2" fill="#4878e0" opacity="0.26"/>
<circle cx="22.7" cy="15.2" r="1.0" fill="#4878e0" opacity="0.6"/>
<circle cx="22.7" cy="15.2" r="0.55" fill="#1c3059"/>
<circle cx="25.1" cy="14.0" r="2.2" fill="#3fd03f" opacity="0.26"/>
<circle cx="25.1" cy="14.0" r="1.0" fill="#3fd03f" opacity="0.6"/>
<circle cx="25.1" cy="14.0" r="0.55" fill="#195319"/>
<circle cx="28.7" cy="15.1" r="2.2" fill="#3fd03f" opacity="0.26"/>
<circle cx="28.7" cy="15.1" r="1.0" fill="#3fd03f" opacity="0.6"/>
<circle cx="28.7" cy="15.1" r="0.55" fill="#195319"/>
<circle cx="32.4" cy="15.6" r="2.2" fill="#35cc35" opacity="0.26"/>
<circle cx="32.4" cy="15.6" r="1.0" fill="#35cc35" opacity="0.6"/>
<circle cx="32.4" cy="15.6" r="0.55" fill="#155115"/>
<circle cx="34.6" cy="14.4" r="2.2" fill="#35cc35" opacity="0.26"/>
<circle cx="34.6" cy="14.4" r="1.0" fill="#35cc35" opacity="0.6"/>
<circle cx="34.6" cy="14.4" r="0.55" fill="#155115"/>
<circle cx="38.4" cy="14.2" r="2.2" fill="#6cd86c" opacity="0.26"/>
<circle cx="38.4" cy="14.2" r="1.0" fill="#6cd86c" opacity="0.6"/>
<circle cx="38.4" cy="14.2" r="0.55" fill="#2b562b"/>
<circle cx="41.6" cy="14.5" r="2.2" fill="#c8c878" opacity="0.26"/>
<circle cx="41.6" cy="14.5" r="1.0" fill="#c8c878" opacity="0.6"/>
<circle cx="41.6" cy="14.5" r="0.55" fill="#505030"/>
<circle cx="45.3" cy="14.1" r="2.2" fill="#c8c878" opacity="0.26"/>
<circle cx="45.3" cy="14.1" r="1.0" fill="#c8c878" opacity="0.6"/>
<circle cx="45.3" cy="14.1" r="0.55" fill="#505030"/>
<circle cx="47.8" cy="14.2" r="2.2" fill="#d8d0a0" opacity="0.26"/>
<circle cx="47.8" cy="14.2" r="1.0" fill="#d8d0a0" opacity="0.6"/>
<circle cx="47.8" cy="14.2" r="0.55" fill="#565340"/>
<circle cx="51.2" cy="14.2" r="2.2" fill="#d8d0a0" opacity="0.26"/>
<circle cx="51.2" cy="14.2" r="1.0" fill="#d8d0a0" opacity="0.6"/>
<circle cx="51.2" cy="14.2" r="0.55" fill="#565340"/>
<circle cx="55.7" cy="14.8" r="2.2" fill="#9a48c8" opacity="0.26"/>
<circle cx="55.7" cy="14.8" r="1.0" fill="#9a48c8" opacity="0.6"/>
<circle cx="55.7" cy="14.8" r="0.55" fill="#3d1c50"/>
<circle cx="3.5" cy="18.1" r="2.2" fill="#e07890" opacity="0.26"/>
<circle cx="3.5" cy="18.1" r="1.0" fill="#e07890" opacity="0.6"/>
<circle cx="3.5" cy="18.1" r="0.55" fill="#593039"/>
<circle cx="6.4" cy="18.5" r="2.2" fill="#e07890" opacity="0.26"/>
<circle cx="6.4" cy="18.5" r="1.0" fill="#e07890" opacity="0.6"/>
<circle cx="6.4" cy="18.5" r="0.55" fill="#593039"/>
<circle cx="10.3" cy="17.5" r="2.2" fill="#e878d8" opacity="0.26"/>
<circle cx="10.3" cy="17.5" r="1.0" fill="#e878d8" opacity="0.6"/>
<circle cx="10.3" cy="17.5" r="0.55" fill="#5c3056"/>
<circle cx="12.9" cy="17.0" r="2.2" fill="#d850c8" opacity="0.26"/>
<circle cx="12.9" cy="17.0" r="1.0" fill="#d850c8" opacity="0.6"/>
<circle cx="12.9" cy="17.0" r="0.55" fill="#562050"/>
<circle cx="16.4" cy="16.9" r="2.2" fill="#d850c8" opacity="0.26"/>
<circle cx="16.4" cy="16.9" r="1.0" fill="#d850c8" opacity="0.6"/>
<circle cx="16.4" cy="16.9" r="0.55" fill="#562050"/>
<circle cx="19.4" cy="17.0" r="2.2" fill="#4878e0" opacity="0.26"/>
<circle cx="19.4" cy="17.0" r="1.0" fill="#4878e0" opacity="0.6"/>
<circle cx="19.4" cy="17.0" r="0.55" fill="#1c3059"/>
<circle cx="23.0" cy="17.6" r="2.2" fill="#4878e0" opacity="0.26"/>
<circle cx="23.0" cy="17.6" r="1.0" fill="#4878e0" opacity="0.6"/>
<circle cx="23.0" cy="17.6" r="0.55" fill="#1c3059"/>
<circle cx="27.0" cy="18.5" r="2.2" fill="#3fd03f" opacity="0.26"/>
<circle cx="27.0" cy="18.5" r="1.0" fill="#3fd03f" opacity="0.6"/>
<circle cx="27.0" cy="18.5" r="0.55" fill="#195319"/>
<circle cx="30.4" cy="17.2" r="2.2" fill="#35cc35" opacity="0.26"/>
<circle cx="30.4" cy="17.2" r="1.0" fill="#35cc35" opacity="0.6"/>
<circle cx="30.4" cy="17.2" r="0.55" fill="#155115"/>
<circle cx="34.3" cy="18.4" r="2.2" fill="#35cc35" opacity="0.26"/>
<circle cx="34.3" cy="18.4" r="1.0" fill="#35cc35" opacity="0.6"/>
<circle cx="34.3" cy="18.4" r="0.55" fill="#155115"/>
<circle cx="36.9" cy="18.2" r="2.2" fill="#48d060" opacity="0.26"/>
<circle cx="36.9" cy="18.2" r="1.0" fill="#48d060" opacity="0.6"/>
<circle cx="36.9" cy="18.2" r="0.55" fill="#1c5326"/>
<circle cx="40.2" cy="17.2" r="2.2" fill="#48d060" opacity="0.26"/>
<circle cx="40.2" cy="17.2" r="1.0" fill="#48d060" opacity="0.6"/>
<circle cx="40.2" cy="17.2" r="0.55" fill="#1c5326"/>
<circle cx="43.9" cy="18.9" r="2.2" fill="#d8b868" opacity="0.26"/>
<circle cx="43.9" cy="18.9" r="1.0" fill="#d8b868" opacity="0.6"/>
<circle cx="43.9" cy="18.9" r="0.55" fill="#564929"/>
<circle cx="47.5" cy="17.3" r="2.2" fill="#d8b868" opacity="0.26"/>
<circle cx="47.5" cy="17.3" r="1.0" fill="#d8b868" opacity="0.6"/>
<circle cx="47.5" cy="17.3" r="0.55" fill="#564929"/>
<circle cx="49.5" cy="18.8" r="2.2" fill="#d8b868" opacity="0.26"/>
<circle cx="49.5" cy="18.8" r="1.0" fill="#d8b868" opacity="0.6"/>
<circle cx="49.5" cy="18.8" r="0.55" fill="#564929"/>
<circle cx="54.5" cy="18.4" r="2.2" fill="#9a48c8" opacity="0.26"/>
<circle cx="54.5" cy="18.4" r="1.0" fill="#9a48c8" opacity="0.6"/>
<circle cx="54.5" cy="18.4" r="0.55" fill="#3d1c50"/>
<circle cx="4.0" cy="22.0" r="2.2" fill="#e88040" opacity="0.26"/>
<circle cx="4.0" cy="22.0" r="1.0" fill="#e88040" opacity="0.6"/>
<circle cx="4.0" cy="22.0" r="0.55" fill="#5c3319"/>
<circle cx="7.7" cy="21.8" r="2.2" fill="#e07890" opacity="0.26"/>
<circle cx="7.7" cy="21.8" r="1.0" fill="#e07890" opacity="0.6"/>
<circle cx="7.7" cy="21.8" r="0.55" fill="#593039"/>
<circle cx="11.9" cy="21.8" r="2.2" fill="#d84040" opacity="0.26"/>
<circle cx="11.9" cy="21.8" r="1.0" fill="#d84040" opacity="0.6"/>
<circle cx="11.9" cy="21.8" r="0.55" fill="#561919"/>
<circle cx="15.3" cy="22.2" r="2.2" fill="#d84040" opacity="0.26"/>
<circle cx="15.3" cy="22.2" r="1.0" fill="#d84040" opacity="0.6"/>
<circle cx="15.3" cy="22.2" r="0.55" fill="#561919"/>
<circle cx="18.2" cy="21.3" r="2.2" fill="#58a0e0" opacity="0.26"/>
<circle cx="18.2" cy="21.3" r="1.0" fill="#58a0e0" opacity="0.6"/>
<circle cx="18.2" cy="21.3" r="0.55" fill="#234059"/>
<circle cx="21.4" cy="21.8" r="2.2" fill="#58a0e0" opacity="0.26"/>
<circle cx="21.4" cy="21.8" r="1.0" fill="#58a0e0" opacity="0.6"/>
<circle cx="21.4" cy="21.8" r="0.55" fill="#234059"/>
<circle cx="24.7" cy="21.9" r="2.2" fill="#40c8a0" opacity="0.26"/>
<circle cx="24.7" cy="21.9" r="1.0" fill="#40c8a0" opacity="0.6"/>
<circle cx="24.7" cy="21.9" r="0.55" fill="#195040"/>
<circle cx="27.6" cy="20.7" r="2.2" fill="#40c8a0" opacity="0.26"/>
<circle cx="27.6" cy="20.7" r="1.0" fill="#40c8a0" opacity="0.6"/>
<circle cx="27.6" cy="20.7" r="0.55" fill="#195040"/>
<circle cx="31.7" cy="20.5" r="2.2" fill="#35cc35" opacity="0.26"/>
<circle cx="31.7" cy="20.5" r="1.0" fill="#35cc35" opacity="0.6"/>
<circle cx="31.7" cy="20.5" r="0.55" fill="#155115"/>
<circle cx="34.6" cy="22.0" r="2.2" fill="#50d8e0" opacity="0.26"/>
<circle cx="34.6" cy="22.0" r="1.0" fill="#50d8e0" opacity="0.6"/>
<circle cx="34.6" cy="22.0" r="0.55" fill="#205659"/>
<circle cx="38.3" cy="20.7" r="2.2" fill="#48d060" opacity="0.26"/>
<circle cx="38.3" cy="20.7" r="1.0" fill="#48d060" opacity="0.6"/>
<circle cx="38.3" cy="20.7" r="0.55" fill="#1c5326"/>
<circle cx="42.6" cy="21.4" r="2.2" fill="#70d0d0" opacity="0.26"/>
<circle cx="42.6" cy="21.4" r="1.0" fill="#70d0d0" opacity="0.6"/>
<circle cx="42.6" cy="21.4" r="0.55" fill="#2c5353"/>
<circle cx="45.5" cy="22.1" r="2.2" fill="#70d0d0" opacity="0.26"/>
<circle cx="45.5" cy="22.1" r="1.0" fill="#70d0d0" opacity="0.6"/>
<circle cx="45.5" cy="22.1" r="0.55" fill="#2c5353"/>
<circle cx="49.0" cy="20.8" r="2.2" fill="#c048c0" opacity="0.26"/>
<circle cx="49.0" cy="20.8" r="1.0" fill="#c048c0" opacity="0.6"/>
<circle cx="49.0" cy="20.8" r="0.55" fill="#4c1c4c"/>
<circle cx="50.9" cy="21.4" r="2.2" fill="#c048c0" opacity="0.26"/>
<circle cx="50.9" cy="21.4" r="1.0" fill="#c048c0" opacity="0.6"/>
<circle cx="50.9" cy="21.4" r="0.55" fill="#4c1c4c"/>
<circle cx="55.7" cy="21.9" r="2.2" fill="#6848c0" opacity="0.26"/>
<circle cx="55.7" cy="21.9" r="1.0" fill="#6848c0" opacity="0.6"/>
<circle cx="55.7" cy="21.9" r="0.55" fill="#291c4c"/>
<circle cx="58.0" cy="21.6" r="2.2" fill="#6848c0" opacity="0.26"/>
<circle cx="58.0" cy="21.6" r="1.0" fill="#6848c0" opacity="0.6"/>
<circle cx="58.0" cy="21.6" r="0.55" fill="#291c4c"/>
<circle cx="3.5" cy="25.7" r="2.2" fill="#e88040" opacity="0.26"/>
<circle cx="3.5" cy="25.7" r="1.0" fill="#e88040" opacity="0.6"/>
<circle cx="3.5" cy="25.7" r="0.55" fill="#5c3319"/>
<circle cx="6.9" cy="25.4" r="2.2" fill="#e88040" opacity="0.26"/>
<circle cx="6.9" cy="25.4" r="1.0" fill="#e88040" opacity="0.6"/>
<circle cx="6.9" cy="25.4" r="0.55" fill="#5c3319"/>
<circle cx="10.4" cy="24.6" r="2.2" fill="#d84040" opacity="0.26"/>
<circle cx="10.4" cy="24.6" r="1.0" fill="#d84040" opacity="0.6"/>
<circle cx="10.4" cy="24.6" r="0.55" fill="#561919"/>
<circle cx="13.0" cy="24.3" r="2.2" fill="#d84040" opacity="0.26"/>
<circle cx="13.0" cy="24.3" r="1.0" fill="#d84040" opacity="0.6"/>
<circle cx="13.0" cy="24.3" r="0.55" fill="#561919"/>
<circle cx="17.3" cy="24.0" r="2.2" fill="#d84040" opacity="0.26"/>
<circle cx="17.3" cy="24.0" r="1.0" fill="#d84040" opacity="0.6"/>
<circle cx="17.3" cy="24.0" r="0.55" fill="#561919"/>
<circle cx="19.3" cy="24.0" r="2.2" fill="#58a0e0" opacity="0.26"/>
<circle cx="19.3" cy="24.0" r="1.0" fill="#58a0e0" opacity="0.6"/>
<circle cx="19.3" cy="24.0" r="0.55" fill="#234059"/>
<circle cx="23.8" cy="24.4" r="2.2" fill="#c048a0" opacity="0.26"/>
<circle cx="23.8" cy="24.4" r="1.0" fill="#c048a0" opacity="0.6"/>
<circle cx="23.8" cy="24.4" r="0.55" fill="#4c1c40"/>
<circle cx="26.2" cy="24.3" r="2.2" fill="#40c8a0" opacity="0.26"/>
<circle cx="26.2" cy="24.3" r="1.0" fill="#40c8a0" opacity="0.6"/>
<circle cx="26.2" cy="24.3" r="0.55" fill="#195040"/>
<circle cx="29.3" cy="24.5" r="2.2" fill="#40c8a0" opacity="0.26"/>
<circle cx="29.3" cy="24.5" r="1.0" fill="#40c8a0" opacity="0.6"/>
<circle cx="29.3" cy="24.5" r="0.55" fill="#195040"/>
<circle cx="34.2" cy="24.5" r="2.2" fill="#50d8e0" opacity="0.26"/>
<circle cx="34.2" cy="24.5" r="1.0" fill="#50d8e0" opacity="0.6"/>
<circle cx="34.2" cy="24.5" r="0.55" fill="#205659"/>
<circle cx="36.7" cy="23.7" r="2.2" fill="#58c8e8" opacity="0.26"/>
<circle cx="36.7" cy="23.7" r="1.0" fill="#58c8e8" opacity="0.6"/>
<circle cx="36.7" cy="23.7" r="0.55" fill="#23505c"/>
<circle cx="39.8" cy="23.8" r="2.2" fill="#58c8e8" opacity="0.26"/>
<circle cx="39.8" cy="23.8" r="1.0" fill="#58c8e8" opacity="0.6"/>
<circle cx="39.8" cy="23.8" r="0.55" fill="#23505c"/>
<circle cx="42.6" cy="25.4" r="2.2" fill="#58c8e8" opacity="0.26"/>
<circle cx="42.6" cy="25.4" r="1.0" fill="#58c8e8" opacity="0.6"/>
<circle cx="42.6" cy="25.4" r="0.55" fill="#23505c"/>
<circle cx="47.4" cy="25.3" r="2.2" fill="#d0a070" opacity="0.26"/>
<circle cx="47.4" cy="25.3" r="1.0" fill="#d0a070" opacity="0.6"/>
<circle cx="47.4" cy="25.3" r="0.55" fill="#53402c"/>
<circle cx="49.5" cy="24.4" r="2.2" fill="#d0a070" opacity="0.26"/>
<circle cx="49.5" cy="24.4" r="1.0" fill="#d0a070" opacity="0.6"/>
<circle cx="49.5" cy="24.4" r="0.55" fill="#53402c"/>
<circle cx="54.5" cy="24.5" r="2.2" fill="#c048c0" opacity="0.26"/>
<circle cx="54.5" cy="24.5" r="1.0" fill="#c048c0" opacity="0.6"/>
<circle cx="54.5" cy="24.5" r="0.55" fill="#4c1c4c"/>
<circle cx="7.8" cy="27.0" r="2.2" fill="#e88040" opacity="0.26"/>
<circle cx="7.8" cy="27.0" r="1.0" fill="#e88040" opacity="0.6"/>
<circle cx="7.8" cy="27.0" r="0.55" fill="#5c3319"/>
<circle cx="12.2" cy="29.0" r="2.2" fill="#d84040" opacity="0.26"/>
<circle cx="12.2" cy="29.0" r="1.0" fill="#d84040" opacity="0.6"/>
<circle cx="12.2" cy="29.0" r="0.55" fill="#561919"/>
<circle cx="14.1" cy="28.7" r="2.2" fill="#d84040" opacity="0.26"/>
<circle cx="14.1" cy="28.7" r="1.0" fill="#d84040" opacity="0.6"/>
<circle cx="14.1" cy="28.7" r="0.55" fill="#561919"/>
<circle cx="18.5" cy="27.0" r="2.2" fill="#c048a0" opacity="0.26"/>
<circle cx="18.5" cy="27.0" r="1.0" fill="#c048a0" opacity="0.6"/>
<circle cx="18.5" cy="27.0" r="0.55" fill="#4c1c40"/>
<circle cx="20.9" cy="28.0" r="2.2" fill="#c048a0" opacity="0.26"/>
<circle cx="20.9" cy="28.0" r="1.0" fill="#c048a0" opacity="0.6"/>
<circle cx="20.9" cy="28.0" r="0.55" fill="#4c1c40"/>
<circle cx="24.3" cy="27.6" r="2.2" fill="#c048a0" opacity="0.26"/>
<circle cx="24.3" cy="27.6" r="1.0" fill="#c048a0" opacity="0.6"/>
<circle cx="24.3" cy="27.6" r="0.55" fill="#4c1c40"/>
<circle cx="31.8" cy="27.5" r="2.2" fill="#50d8e0" opacity="0.26"/>
<circle cx="31.8" cy="27.5" r="1.0" fill="#50d8e0" opacity="0.6"/>
<circle cx="31.8" cy="27.5" r="0.55" fill="#205659"/>
<circle cx="39.0" cy="27.2" r="2.2" fill="#58c8e8" opacity="0.26"/>
<circle cx="39.0" cy="27.2" r="1.0" fill="#58c8e8" opacity="0.6"/>
<circle cx="39.0" cy="27.2" r="0.55" fill="#23505c"/>
<circle cx="48.9" cy="28.5" r="2.2" fill="#d0a070" opacity="0.26"/>
<circle cx="48.9" cy="28.5" r="1.0" fill="#d0a070" opacity="0.6"/>
<circle cx="48.9" cy="28.5" r="0.55" fill="#53402c"/>
<circle cx="52.6" cy="27.9" r="2.2" fill="#d08838" opacity="0.26"/>
<circle cx="52.6" cy="27.9" r="1.0" fill="#d08838" opacity="0.6"/>
<circle cx="52.6" cy="27.9" r="0.55" fill="#533616"/>
<circle cx="55.3" cy="27.2" r="2.2" fill="#d08838" opacity="0.26"/>
<circle cx="55.3" cy="27.2" r="1.0" fill="#d08838" opacity="0.6"/>
<circle cx="55.3" cy="27.2" r="0.55" fill="#533616"/>
<path d="M7.0 36.0L16.5 30.5M9.5 29.5L17.5 37.5M12.0 28.5L13.3 34.5M8.5 32.0L10.5 34.0" stroke="#1c2494" stroke-width="1.15" stroke-linecap="round" fill="none"/>
<circle cx="9.0" cy="28.5" r="0.7" fill="#2c34a4" opacity="0.85"/>
<circle cx="18.5" cy="32.0" r="0.7" fill="#2c34a4" opacity="0.85"/>
<circle cx="11.5" cy="26.5" r="0.7" fill="#2c34a4" opacity="0.85"/>
<circle cx="20.0" cy="34.5" r="0.7" fill="#2c34a4" opacity="0.85"/>
<circle cx="15.0" cy="29.0" r="0.7" fill="#2c34a4" opacity="0.85"/>
</g></symbol>
</defs>
<rect x="12.1" y="24.6" width="351.59999999999997" height="168.0" fill="none" stroke="#151515" stroke-width="2.3" stroke-dasharray="7.4 5.3"/>
<rect x="396.2" y="24.6" width="287.8" height="168.0" fill="none" stroke="#151515" stroke-width="2.3" stroke-dasharray="7.4 5.3"/>
<rect x="13.6" y="221" width="670.4" height="267.5" fill="none" stroke="#151515" stroke-width="2.3" stroke-dasharray="7.4 5.3"/>
<text x="12.30" y="17.30" font-size="14.2" font-weight="bold">1</text>
<text x="18.30" y="17.30" font-size="13.5" font-weight="bold">）</text>
<text x="33.60" y="17.30" font-size="13.5" font-weight="bold" textLength="190.20" lengthAdjust="spacingAndGlyphs">functional connectivity extration</text>
<text x="398.50" y="17.40" font-size="14.2" font-weight="bold">3</text>
<text x="404.80" y="17.40" font-size="13.5" font-weight="bold">）</text>
<text x="420.80" y="17.40" font-size="13.5" font-weight="bold" textLength="41.40" lengthAdjust="spacingAndGlyphs">Testing</text>
<text x="12.20" y="216.90" font-size="14.2" font-weight="bold">2</text>
<text x="18.10" y="216.90" font-size="13.5" font-weight="bold">）</text>
<text x="33.90" y="216.90" font-size="13.5" font-weight="bold" textLength="178.00" lengthAdjust="spacingAndGlyphs">Model-based features learning</text>
<use href="#fb" x="23.7" y="28.3" width="60" height="41.2"/>
<use href="#fb" x="23.7" y="68.5" width="60" height="41.2"/>
<use href="#fb" x="23.7" y="134.1" width="60" height="41.2"/>
<use href="#ab" x="145.8" y="27.3" width="60" height="40"/>
<use href="#ab" x="145.8" y="72.5" width="60" height="40"/>
<use href="#ab" x="145.8" y="131" width="60" height="40"/>
<circle cx="51" cy="121" r="1.3" fill="#000"/>
<circle cx="56.5" cy="121" r="1.3" fill="#000"/>
<circle cx="62" cy="121" r="1.3" fill="#000"/>
<text x="23.75" y="186.60" font-size="14" textLength="61.25" lengthAdjust="spacingAndGlyphs">Bold-fMRI</text>
<text x="143.00" y="183.80" font-size="14" textLength="78.00" lengthAdjust="spacingAndGlyphs">160×160 atlas</text>
<text x="248.20" y="183.00" font-size="13.8" textLength="111.20" lengthAdjust="spacingAndGlyphs">Corrrlation matrices</text>
<path d="M91.1 98.10000000000001H116.4V91.10000000000001L131 105.2L116.4 119.3V112.3H91.1Z" fill="#fff" stroke="#9a9a9a" stroke-width="1.2"/>
<path d="M223.5 98.1H248.6V91.0L263.2 105.3L248.6 119.6V112.5H223.5Z" fill="#fff" stroke="#9a9a9a" stroke-width="1.2"/>
<use href="#hm" x="276.90" y="30.30" width="51.60" height="49.80"/>
<use href="#hm" x="286.60" y="40.00" width="49.40" height="46.50"/>
<circle cx="296" cy="98.3" r="1.3" fill="#000"/>
<circle cx="301.5" cy="98.3" r="1.3" fill="#000"/>
<circle cx="307" cy="98.3" r="1.3" fill="#000"/>
<use href="#hm" x="276.90" y="108.00" width="51.60" height="49.50"/>
<use href="#hm" x="286.60" y="118.00" width="49.40" height="46.50"/>
<path d="M367.3 88.60000000000001H389V84.9L396.4 92.2L389 99.5V95.8H367.3Z" fill="#000"/>
<path d="M233.9 192.3V213.4H230.6L238 221.2L245.4 213.4H242.1V192.3Z" fill="#000"/>
<path d="M531.4 221.3V200.6H527.4L534.9 193.2L542.4 200.6H538.4V221.3Z" fill="#000"/>
<g transform="translate(395.7 -77.4) scale(0.357 0.464)">
<rect x="58.00" y="245.00" width="3.00" height="92.50" fill="#4472c4"/>
<rect x="61.00" y="245.00" width="3.00" height="92.50" fill="#4472c4"/>
<rect x="83.00" y="260.75" width="3.25" height="65.00" fill="#4e7d2a"/>
<rect x="86.60" y="260.75" width="3.58" height="65.00" fill="#4472c4"/>
<rect x="90.17" y="260.75" width="3.58" height="65.00" fill="#4472c4"/>
<rect x="111.25" y="269.50" width="4.35" height="41.00" fill="#4e7d2a"/>
<rect x="116.20" y="269.50" width="5.18" height="41.00" fill="#4472c4"/>
<rect x="121.38" y="269.50" width="5.18" height="41.00" fill="#4472c4"/>
<rect x="126.57" y="269.50" width="5.18" height="41.00" fill="#4472c4"/>
<rect x="147.50" y="278.20" width="7.10" height="24.50" fill="#4e7d2a"/>
<rect x="155.10" y="278.20" width="7.97" height="24.50" fill="#4472c4"/>
<rect x="163.07" y="278.20" width="7.97" height="24.50" fill="#4472c4"/>
<rect x="171.03" y="278.20" width="7.97" height="24.50" fill="#4472c4"/>
<rect x="194.50" y="282.00" width="9.00" height="15.00" fill="#4e7d2a"/>
<rect x="204.00" y="282.00" width="9.75" height="15.00" fill="#4472c4"/>
<rect x="213.75" y="282.00" width="9.75" height="15.00" fill="#4472c4"/>
<rect x="223.50" y="282.00" width="9.75" height="15.00" fill="#4472c4"/>
<rect x="234.00" y="285.75" width="7.00" height="7.25" fill="#4e7d2a"/>
<rect x="268.00" y="289.50" width="17.00" height="2.70" fill="#ffc000"/>
<rect x="286.25" y="289.50" width="17.00" height="2.70" fill="#ffc000"/>
<rect x="307" y="289.3" width="9.2" height="4.3" fill="none" stroke="#555" stroke-width="0.7" stroke-dasharray="1.4 1"/>
<path d="M67 289.75H75.8V288.25L80 290.75L75.8 293.25V291.75H67Z" fill="#c6c6c6"/>
<path d="M96 289.75H104.8V288.25L109 290.75L104.8 293.25V291.75H96Z" fill="#c6c6c6"/>
<path d="M133 289.9H141.55V288.4L145.75 290.9L141.55 293.4V291.9H133Z" fill="#c6c6c6"/>
<path d="M179.5 289.5H187.8V288.0L192 290.5L187.8 293.0V291.5H179.5Z" fill="#c6c6c6"/>
<path d="M245 289.5H253.8V288.0L258 290.5L253.8 293.0V291.5H245Z" fill="#c6c6c6"/>
<text x="44.50" y="242.50" font-size="5.2" textLength="36.00" lengthAdjust="spacingAndGlyphs" fill="#000">224 × 224 × 64</text>
<text x="70.00" y="260.00" font-size="5.2" textLength="39.00" lengthAdjust="spacingAndGlyphs" fill="#000">112 × 112 × 128</text>
<text x="112.00" y="267.75" font-size="5.2" textLength="26.00" lengthAdjust="spacingAndGlyphs" fill="#000">56 × 56 × 256</text>
<text x="147.00" y="276.50" font-size="5.2" textLength="33.00" lengthAdjust="spacingAndGlyphs" fill="#000">28 × 28 × 512</text>
<text x="196.00" y="280.75" font-size="5.2" textLength="33.00" lengthAdjust="spacingAndGlyphs" fill="#000">14 × 14 × 512</text>
<text x="234.50" y="284.50" font-size="5.2" textLength="26.50" lengthAdjust="spacingAndGlyphs" fill="#000">7 × 7 × 512</text>
<text x="270.00" y="287.75" font-size="5.2" textLength="30.50" lengthAdjust="spacingAndGlyphs" fill="#000">1 × 1 × 4096</text>
<text x="303.75" y="287.00" font-size="5.2" textLength="20.75" lengthAdjust="spacingAndGlyphs" fill="#000">1 × 1 × 2</text>
</g>
<g transform="translate(385.9 -63.2) scale(0.409 0.49)">
<g transform="matrix(1.4600 -1.3300 0 2.7280 59 409.5)"><use href="#hm" x="0" y="0" width="25" height="25"/><rect width="25" height="25" fill="#0a4a48" opacity="0.22"/></g>
<path d="M85.8 408.4L122.3 375.09999999999997H133.5V442.2L97 475.5H85.8Z" fill="#fff" stroke="#2a2a2a" stroke-width="0.9" stroke-linejoin="round"/>
<path d="M85.8 408.4H97V475.5M97 408.4L133.5 375.09999999999997" fill="none" stroke="#2a2a2a" stroke-width="0.9" stroke-linejoin="round"/>
<path d="M118.25 408.4L153.75 375.09999999999997H178.75V442.2L143.25 475.5H118.25Z" fill="#fff" stroke="#2a2a2a" stroke-width="0.9" stroke-linejoin="round"/>
<path d="M118.25 408.4H143.25V475.5M143.25 408.4L178.75 375.09999999999997" fill="none" stroke="#2a2a2a" stroke-width="0.9" stroke-linejoin="round"/>
<path d="M166.75 410L186.75 391.75H211.75V431.75L191.75 450H166.75Z" fill="#fff" stroke="#f05050" stroke-width="0.8" stroke-linejoin="round"/>
<path d="M166.75 410H191.75V450M191.75 410L211.75 391.75" fill="none" stroke="#f05050" stroke-width="0.8" stroke-linejoin="round"/>
<path d="M209 425.7L211.2 422.5H312.7V426.8L310.5 430H209Z" fill="#fff" stroke="#3b86d8" stroke-width="0.8" stroke-linejoin="round"/>
<path d="M209 425.7H310.5V430M310.5 425.7L312.7 422.5" fill="none" stroke="#3b86d8" stroke-width="0.8" stroke-linejoin="round"/>
<path d="M310.5 425.7L312.7 422.5H349.2V426.8L347 430H310.5Z" fill="#e4eed8" stroke="#6a9a48" stroke-width="0.8" stroke-linejoin="round"/>
<path d="M310.5 425.7H347V430M347 425.7L349.2 422.5" fill="none" stroke="#6a9a48" stroke-width="0.8" stroke-linejoin="round"/>
<path d="M347.5 425.7L349.7 422.5H365.7V426.8L363.5 430H347.5Z" fill="#fff4c8" stroke="#f0c020" stroke-width="0.8" stroke-linejoin="round"/>
<path d="M347.5 425.7H363.5V430M363.5 425.7L365.7 422.5" fill="none" stroke="#f0c020" stroke-width="0.8" stroke-linejoin="round"/>
<text x="71.75" y="372.80" font-size="7" textLength="33.25" lengthAdjust="spacingAndGlyphs" fill="#000">160×160×1</text>
<text x="111.25" y="372.80" font-size="7" textLength="37.00" lengthAdjust="spacingAndGlyphs" fill="#000">160×160×64</text>
<text x="155.75" y="372.80" font-size="7" textLength="41.25" lengthAdjust="spacingAndGlyphs" fill="#000">160×160×128</text>
<text x="183.00" y="390.30" font-size="7" textLength="33.75" lengthAdjust="spacingAndGlyphs" fill="#000">80×80×128</text>
<text x="262.50" y="422.30" font-size="7" textLength="37.50" lengthAdjust="spacingAndGlyphs" fill="#000">1×1×819200</text>
<text x="317.00" y="422.30" font-size="7" textLength="23.00" lengthAdjust="spacingAndGlyphs" fill="#000">1×1×96</text>
<text x="348.75" y="422.30" font-size="7" textLength="19.25" lengthAdjust="spacingAndGlyphs" fill="#000">1×1×2</text>
</g>
<path d="M452.7 110.1L477.3 81.4" stroke="#222" stroke-width="1.2"/>
<circle cx="442.4" cy="89" r="1.5" fill="#ff1414"/>
<circle cx="446.9" cy="85.9" r="1.5" fill="#ff1414"/>
<circle cx="451.8" cy="86.8" r="1.5" fill="#ff1414"/>
<circle cx="461.3" cy="85.5" r="1.5" fill="#ff1414"/>
<circle cx="447.6" cy="91" r="1.5" fill="#ff1414"/>
<circle cx="452.7" cy="91.7" r="1.5" fill="#ff1414"/>
<circle cx="456.7" cy="91.9" r="1.5" fill="#ff1414"/>
<circle cx="458.5" cy="94.1" r="1.5" fill="#ff1414"/>
<circle cx="461.8" cy="92.8" r="1.5" fill="#ff1414"/>
<circle cx="448.2" cy="95.4" r="1.5" fill="#ff1414"/>
<circle cx="453.1" cy="97.2" r="1.5" fill="#ff1414"/>
<circle cx="444" cy="98.6" r="1.5" fill="#ff1414"/>
<circle cx="455.1" cy="99.5" r="1.5" fill="#ff1414"/>
<circle cx="449.5" cy="104.5" r="1.5" fill="#ff1414"/>
<circle cx="472.4" cy="93.7" r="1.5" fill="#12b050"/>
<circle cx="478.7" cy="93.2" r="1.5" fill="#12b050"/>
<circle cx="483.3" cy="92.3" r="1.5" fill="#12b050"/>
<circle cx="484.9" cy="93.5" r="1.5" fill="#12b050"/>
<circle cx="474.2" cy="95.4" r="1.5" fill="#12b050"/>
<circle cx="479.1" cy="97.2" r="1.5" fill="#12b050"/>
<circle cx="472.2" cy="98.3" r="1.5" fill="#12b050"/>
<circle cx="483.1" cy="98.6" r="1.5" fill="#12b050"/>
<circle cx="467.6" cy="103.2" r="1.5" fill="#12b050"/>
<circle cx="471.8" cy="104.6" r="1.5" fill="#12b050"/>
<circle cx="475.5" cy="104.5" r="1.5" fill="#12b050"/>
<circle cx="462.7" cy="106.8" r="1.5" fill="#12b050"/>
<circle cx="467.8" cy="108.3" r="1.5" fill="#12b050"/>
<circle cx="473.3" cy="108.6" r="1.5" fill="#12b050"/>
<text x="412.00" y="182.50" font-size="15" textLength="127.00" lengthAdjust="spacingAndGlyphs">Multi trained models</text>
<text x="540.00" y="91.80" font-size="13" textLength="46.50" lengthAdjust="spacingAndGlyphs">Forward</text>
<text x="532.00" y="116.60" font-size="13" textLength="65.00" lengthAdjust="spacingAndGlyphs">propagation</text>
<path d="M536.5 99.89999999999999H588.5V96.1L601.5 102.1L588.5 108.1V104.3H536.5Z" fill="#000"/>
<rect x="615.75" y="73.00" width="23.75" height="19.00" fill="#000"/>
<text x="620.00" y="110.50" font-size="14.5" font-weight="bold" textLength="13.50" lengthAdjust="spacingAndGlyphs">or</text>
<rect x="616.3" y="117.2" width="22.8" height="18.6" fill="#fff" stroke="#333" stroke-width="1"/>
<text x="601.00" y="182.50" font-size="15" textLength="62.00" lengthAdjust="spacingAndGlyphs">Prediction</text>
<text x="26.60" y="242.60" font-size="13.8" font-weight="bold">A</text>
<g>
<rect x="58.00" y="245.00" width="2.70" height="92.50" fill="#4472c4"/>
<rect x="61.30" y="245.00" width="2.70" height="92.50" fill="#4472c4"/>
<rect x="83.00" y="260.75" width="3.25" height="65.00" fill="#4e7d2a"/>
<rect x="86.60" y="260.75" width="3.28" height="65.00" fill="#4472c4"/>
<rect x="90.47" y="260.75" width="3.28" height="65.00" fill="#4472c4"/>
<rect x="111.25" y="269.50" width="4.35" height="41.00" fill="#4e7d2a"/>
<rect x="116.20" y="269.50" width="4.78" height="41.00" fill="#4472c4"/>
<rect x="121.58" y="269.50" width="4.78" height="41.00" fill="#4472c4"/>
<rect x="126.97" y="269.50" width="4.78" height="41.00" fill="#4472c4"/>
<rect x="147.50" y="278.20" width="7.10" height="24.50" fill="#4e7d2a"/>
<rect x="155.10" y="278.20" width="7.57" height="24.50" fill="#4472c4"/>
<rect x="163.27" y="278.20" width="7.57" height="24.50" fill="#4472c4"/>
<rect x="171.43" y="278.20" width="7.57" height="24.50" fill="#4472c4"/>
<rect x="194.50" y="282.00" width="9.00" height="15.00" fill="#4e7d2a"/>
<rect x="204.00" y="282.00" width="9.35" height="15.00" fill="#4472c4"/>
<rect x="213.95" y="282.00" width="9.35" height="15.00" fill="#4472c4"/>
<rect x="223.90" y="282.00" width="9.35" height="15.00" fill="#4472c4"/>
<rect x="234.00" y="285.75" width="7.00" height="7.25" fill="#4e7d2a"/>
<rect x="268.00" y="289.50" width="17.00" height="2.70" fill="#ffc000"/>
<rect x="286.25" y="289.50" width="17.00" height="2.70" fill="#ffc000"/>
<rect x="307" y="289.3" width="9.2" height="4.3" fill="none" stroke="#555" stroke-width="0.7" stroke-dasharray="1.4 1"/>
<path d="M67 289.75H75.8V288.25L80 290.75L75.8 293.25V291.75H67Z" fill="#c6c6c6"/>
<path d="M96 289.75H104.8V288.25L109 290.75L104.8 293.25V291.75H96Z" fill="#c6c6c6"/>
<path d="M133 289.9H141.55V288.4L145.75 290.9L141.55 293.4V291.9H133Z" fill="#c6c6c6"/>
<path d="M179.5 289.5H187.8V288.0L192 290.5L187.8 293.0V291.5H179.5Z" fill="#c6c6c6"/>
<path d="M245 289.5H253.8V288.0L258 290.5L253.8 293.0V291.5H245Z" fill="#c6c6c6"/>
<text x="44.50" y="242.50" font-size="5.2" textLength="36.00" lengthAdjust="spacingAndGlyphs" fill="#000">224 × 224 × 64</text>
<text x="70.00" y="260.00" font-size="5.2" textLength="39.00" lengthAdjust="spacingAndGlyphs" fill="#000">112 × 112 × 128</text>
<text x="112.00" y="267.75" font-size="5.2" textLength="26.00" lengthAdjust="spacingAndGlyphs" fill="#000">56 × 56 × 256</text>
<text x="147.00" y="276.50" font-size="5.2" textLength="33.00" lengthAdjust="spacingAndGlyphs" fill="#000">28 × 28 × 512</text>
<text x="196.00" y="280.75" font-size="5.2" textLength="33.00" lengthAdjust="spacingAndGlyphs" fill="#000">14 × 14 × 512</text>
<text x="234.50" y="284.50" font-size="5.2" textLength="26.50" lengthAdjust="spacingAndGlyphs" fill="#000">7 × 7 × 512</text>
<text x="270.00" y="287.75" font-size="5.2" textLength="30.50" lengthAdjust="spacingAndGlyphs" fill="#000">1 × 1 × 4096</text>
<text x="303.75" y="287.00" font-size="5.2" textLength="20.75" lengthAdjust="spacingAndGlyphs" fill="#000">1 × 1 × 2</text>
</g>
<rect x="238.75" y="310.75" width="16.75" height="7.25" fill="#4472c4"/>
<rect x="238.75" y="321.25" width="16.75" height="7.50" fill="#4e7d2a"/>
<rect x="238.75" y="333.00" width="16.75" height="7.50" fill="#ffc000"/>
<rect x="239.3" y="345" width="15.7" height="8.3" fill="none" stroke="#555" stroke-width="0.9" stroke-dasharray="2 1.3"/>
<text x="261.75" y="317.50" font-size="9.5" font-weight="bold" stroke="#111" stroke-width="0.18" textLength="45.25" lengthAdjust="spacingAndGlyphs">conv + relu</text>
<text x="261.75" y="327.70" font-size="9.5" font-weight="bold" stroke="#111" stroke-width="0.18" textLength="50.00" lengthAdjust="spacingAndGlyphs">max pooling</text>
<text x="261.75" y="340.30" font-size="9.5" font-weight="bold" stroke="#111" stroke-width="0.18" textLength="69.50" lengthAdjust="spacingAndGlyphs">fully connectivity</text>
<text x="261.75" y="353.00" font-size="9.5" font-weight="bold" stroke="#111" stroke-width="0.18" textLength="34.00" lengthAdjust="spacingAndGlyphs">Softmax</text>
<text x="369.25" y="242.50" font-size="14" font-weight="bold">B</text>
<use href="#hm" x="377.25" y="249.25" width="51.25" height="49.00"/>
<use href="#hm" x="398.00" y="270.50" width="49.75" height="46.50"/>
<circle cx="386" cy="305.9" r="0.8" fill="#222"/>
<circle cx="389.2" cy="305.9" r="0.8" fill="#222"/>
<circle cx="392.4" cy="305.9" r="0.8" fill="#222"/>
<text x="456.50" y="282.60" font-size="9.5" font-weight="bold" stroke="#111" stroke-width="0.18" textLength="18.25" lengthAdjust="spacingAndGlyphs">PCA</text>
<path d="M456 285.1H474.75V282.5L482.25 286.3L474.75 290.1V287.5H456Z" fill="#000"/>
<text x="453.50" y="300.00" font-size="9.5" font-weight="bold" stroke="#111" stroke-width="0.18" textLength="30.75" lengthAdjust="spacingAndGlyphs">training</text>
<rect x="502.60" y="252.60" width="4.40" height="37.30" fill="#b8a040"/>
<rect x="502.90" y="252.90" width="3.80" height="1.94" fill="#e8541c"/>
<rect x="502.90" y="255.19" width="3.80" height="1.94" fill="#6fdc4c"/>
<rect x="502.90" y="257.49" width="3.80" height="1.94" fill="#c8e030"/>
<rect x="502.90" y="259.78" width="3.80" height="1.94" fill="#f08a1c"/>
<rect x="502.90" y="262.07" width="3.80" height="1.94" fill="#e8541c"/>
<rect x="502.90" y="264.37" width="3.80" height="1.94" fill="#f08a1c"/>
<rect x="502.90" y="266.66" width="3.80" height="1.94" fill="#f0e020"/>
<rect x="502.90" y="268.96" width="3.80" height="1.94" fill="#141c8c"/>
<rect x="502.90" y="271.25" width="3.80" height="1.94" fill="#e8e020"/>
<rect x="502.90" y="273.54" width="3.80" height="1.94" fill="#40d8e8"/>
<rect x="502.90" y="275.84" width="3.80" height="1.94" fill="#40d8e8"/>
<rect x="502.90" y="278.13" width="3.80" height="1.94" fill="#f08a1c"/>
<rect x="502.90" y="280.43" width="3.80" height="1.94" fill="#f0b820"/>
<rect x="502.90" y="282.72" width="3.80" height="1.94" fill="#f0e020"/>
<rect x="502.90" y="285.01" width="3.80" height="1.94" fill="#e8e838"/>
<rect x="502.90" y="287.31" width="3.80" height="1.94" fill="#f0e020"/>
<rect x="502.60" y="307.20" width="4.40" height="10.60" fill="#8a7040"/>
<rect x="502.90" y="307.50" width="3.80" height="2.20" fill="#5fd048"/>
<rect x="502.90" y="310.00" width="3.80" height="2.20" fill="#141c8c"/>
<rect x="502.90" y="312.50" width="3.80" height="2.20" fill="#141c8c"/>
<rect x="502.90" y="315.00" width="3.80" height="2.20" fill="#e8541c"/>
<circle cx="504.80" cy="294.97" r="0.65" fill="#555"/>
<circle cx="504.80" cy="298.55" r="0.65" fill="#555"/>
<circle cx="504.80" cy="302.13" r="0.65" fill="#555"/>
<rect x="507.80" y="246.20" width="4.40" height="37.60" fill="#b8a040"/>
<rect x="508.10" y="246.50" width="3.80" height="1.96" fill="#e8541c"/>
<rect x="508.10" y="248.81" width="3.80" height="1.96" fill="#6fdc4c"/>
<rect x="508.10" y="251.12" width="3.80" height="1.96" fill="#c8e030"/>
<rect x="508.10" y="253.44" width="3.80" height="1.96" fill="#f08a1c"/>
<rect x="508.10" y="255.75" width="3.80" height="1.96" fill="#e8541c"/>
<rect x="508.10" y="258.06" width="3.80" height="1.96" fill="#f08a1c"/>
<rect x="508.10" y="260.38" width="3.80" height="1.96" fill="#f0e020"/>
<rect x="508.10" y="262.69" width="3.80" height="1.96" fill="#141c8c"/>
<rect x="508.10" y="265.00" width="3.80" height="1.96" fill="#e8e020"/>
<rect x="508.10" y="267.31" width="3.80" height="1.96" fill="#40d8e8"/>
<rect x="508.10" y="269.62" width="3.80" height="1.96" fill="#40d8e8"/>
<rect x="508.10" y="271.94" width="3.80" height="1.96" fill="#f08a1c"/>
<rect x="508.10" y="274.25" width="3.80" height="1.96" fill="#f0b820"/>
<rect x="508.10" y="276.56" width="3.80" height="1.96" fill="#f0e020"/>
<rect x="508.10" y="278.88" width="3.80" height="1.96" fill="#e8e838"/>
<rect x="508.10" y="281.19" width="3.80" height="1.96" fill="#f0e020"/>
<rect x="507.80" y="302.20" width="4.40" height="9.30" fill="#8a7040"/>
<rect x="508.10" y="302.50" width="3.80" height="1.88" fill="#5fd048"/>
<rect x="508.10" y="304.68" width="3.80" height="1.88" fill="#141c8c"/>
<rect x="508.10" y="306.85" width="3.80" height="1.87" fill="#141c8c"/>
<rect x="508.10" y="309.02" width="3.80" height="1.88" fill="#e8541c"/>
<circle cx="510.00" cy="289.20" r="0.65" fill="#555"/>
<circle cx="510.00" cy="293.00" r="0.65" fill="#555"/>
<circle cx="510.00" cy="296.80" r="0.65" fill="#555"/>
<rect x="514.40" y="238.10" width="4.40" height="37.20" fill="#b8a040"/>
<rect x="514.70" y="238.40" width="3.80" height="1.94" fill="#e8541c"/>
<rect x="514.70" y="240.69" width="3.80" height="1.94" fill="#6fdc4c"/>
<rect x="514.70" y="242.97" width="3.80" height="1.94" fill="#c8e030"/>
<rect x="514.70" y="245.26" width="3.80" height="1.94" fill="#f08a1c"/>
<rect x="514.70" y="247.55" width="3.80" height="1.94" fill="#e8541c"/>
<rect x="514.70" y="249.84" width="3.80" height="1.94" fill="#f08a1c"/>
<rect x="514.70" y="252.12" width="3.80" height="1.94" fill="#f0e020"/>
<rect x="514.70" y="254.41" width="3.80" height="1.94" fill="#141c8c"/>
<rect x="514.70" y="256.70" width="3.80" height="1.94" fill="#e8e020"/>
<rect x="514.70" y="258.99" width="3.80" height="1.94" fill="#40d8e8"/>
<rect x="514.70" y="261.27" width="3.80" height="1.94" fill="#40d8e8"/>
<rect x="514.70" y="263.56" width="3.80" height="1.94" fill="#f08a1c"/>
<rect x="514.70" y="265.85" width="3.80" height="1.94" fill="#f0b820"/>
<rect x="514.70" y="268.14" width="3.80" height="1.94" fill="#f0e020"/>
<rect x="514.70" y="270.43" width="3.80" height="1.94" fill="#e8e838"/>
<rect x="514.70" y="272.71" width="3.80" height="1.94" fill="#f0e020"/>
<rect x="514.40" y="293.50" width="4.40" height="9.40" fill="#8a7040"/>
<rect x="514.70" y="293.80" width="3.80" height="1.90" fill="#5fd048"/>
<rect x="514.70" y="296.00" width="3.80" height="1.90" fill="#141c8c"/>
<rect x="514.70" y="298.20" width="3.80" height="1.90" fill="#141c8c"/>
<rect x="514.70" y="300.40" width="3.80" height="1.90" fill="#e8541c"/>
<circle cx="516.60" cy="280.64" r="0.65" fill="#555"/>
<circle cx="516.60" cy="284.40" r="0.65" fill="#555"/>
<circle cx="516.60" cy="288.16" r="0.65" fill="#555"/>
<text x="470.00" y="332.50" font-size="11" textLength="85.00" lengthAdjust="spacingAndGlyphs" xml:space="preserve">Screen  128 features</text>
<text x="547.50" y="284.10" font-size="9.5" font-weight="bold" stroke="#111" stroke-width="0.18" textLength="20.50" lengthAdjust="spacingAndGlyphs">SVM</text>
<path d="M544.5 286.40000000000003H566V283.8L573 287.6L566 291.40000000000003V288.8H544.5Z" fill="#000"/>
<text x="542.00" y="301.25" font-size="9.5" font-weight="bold" stroke="#111" stroke-width="0.18" textLength="31.25" lengthAdjust="spacingAndGlyphs">training</text>
<path d="M596.8 304.4L644.7 256.3" stroke="#222" stroke-width="1.3"/>
<ellipse cx="584.3" cy="267.6" rx="2.7" ry="2.1" fill="#ff1414"/>
<ellipse cx="592.8" cy="262.1" rx="2.7" ry="2.1" fill="#ff1414"/>
<ellipse cx="600.8" cy="263.8" rx="2.7" ry="2.1" fill="#ff1414"/>
<ellipse cx="617.1" cy="262.1" rx="2.7" ry="2.1" fill="#ff1414"/>
<ellipse cx="592.6" cy="270.1" rx="2.7" ry="2.1" fill="#ff1414"/>
<ellipse cx="601.8" cy="270.9" rx="2.7" ry="2.1" fill="#ff1414"/>
<ellipse cx="608.3" cy="271.4" rx="2.7" ry="2.1" fill="#ff1414"/>
<ellipse cx="611.9" cy="274.4" rx="2.7" ry="2.1" fill="#ff1414"/>
<ellipse cx="618.1" cy="272.9" rx="2.7" ry="2.1" fill="#ff1414"/>
<ellipse cx="593.8" cy="276.1" rx="2.7" ry="2.1" fill="#ff1414"/>
<ellipse cx="603.1" cy="278.4" rx="2.7" ry="2.1" fill="#ff1414"/>
<ellipse cx="587.1" cy="280.9" rx="2.7" ry="2.1" fill="#ff1414"/>
<ellipse cx="606.6" cy="282.6" rx="2.7" ry="2.1" fill="#ff1414"/>
<ellipse cx="596.8" cy="289.4" rx="2.7" ry="2.1" fill="#ff1414"/>
<ellipse cx="635.9" cy="273.9" rx="2.7" ry="2.1" fill="#12b050"/>
<ellipse cx="646.9" cy="273.1" rx="2.7" ry="2.1" fill="#12b050"/>
<ellipse cx="655.2" cy="271.9" rx="2.7" ry="2.1" fill="#12b050"/>
<ellipse cx="658.2" cy="273.1" rx="2.7" ry="2.1" fill="#12b050"/>
<ellipse cx="638.4" cy="276.4" rx="2.7" ry="2.1" fill="#12b050"/>
<ellipse cx="647.7" cy="278.4" rx="2.7" ry="2.1" fill="#12b050"/>
<ellipse cx="636.4" cy="280.9" rx="2.7" ry="2.1" fill="#12b050"/>
<ellipse cx="654.4" cy="281.4" rx="2.7" ry="2.1" fill="#12b050"/>
<ellipse cx="627.6" cy="287.6" rx="2.7" ry="2.1" fill="#12b050"/>
<ellipse cx="635.2" cy="290.1" rx="2.7" ry="2.1" fill="#12b050"/>
<ellipse cx="641.4" cy="289.6" rx="2.7" ry="2.1" fill="#12b050"/>
<ellipse cx="619.4" cy="293.1" rx="2.7" ry="2.1" fill="#12b050"/>
<ellipse cx="628.1" cy="295.2" rx="2.7" ry="2.1" fill="#12b050"/>
<ellipse cx="637.7" cy="295.7" rx="2.7" ry="2.1" fill="#12b050"/>
<text x="607.60" y="322.20" font-size="10.5" textLength="43.80" lengthAdjust="spacingAndGlyphs">Optimized</text>
<text x="598.00" y="334.70" font-size="10.5" textLength="63.00" lengthAdjust="spacingAndGlyphs">SVM classifier</text>
<text x="37.00" y="385.00" font-size="14.5" font-weight="bold">C</text>
<g>
<g transform="matrix(1.4600 -1.3300 0 2.7280 59 409.5)"><use href="#hm" x="0" y="0" width="25" height="25"/><rect width="25" height="25" fill="#0a4a48" opacity="0.22"/></g>
<path d="M85.8 408.4L122.3 375.09999999999997H133.5V442.2L97 475.5H85.8Z" fill="#fff" stroke="#2a2a2a" stroke-width="0.9" stroke-linejoin="round"/>
<path d="M85.8 408.4H97V475.5M97 408.4L133.5 375.09999999999997" fill="none" stroke="#2a2a2a" stroke-width="0.9" stroke-linejoin="round"/>
<path d="M118.25 408.4L153.75 375.09999999999997H178.75V442.2L143.25 475.5H118.25Z" fill="#fff" stroke="#2a2a2a" stroke-width="0.9" stroke-linejoin="round"/>
<path d="M118.25 408.4H143.25V475.5M143.25 408.4L178.75 375.09999999999997" fill="none" stroke="#2a2a2a" stroke-width="0.9" stroke-linejoin="round"/>
<path d="M166.75 410L186.75 391.75H211.75V431.75L191.75 450H166.75Z" fill="#fff" stroke="#f05050" stroke-width="0.8" stroke-linejoin="round"/>
<path d="M166.75 410H191.75V450M191.75 410L211.75 391.75" fill="none" stroke="#f05050" stroke-width="0.8" stroke-linejoin="round"/>
<path d="M209 425.7L211.2 422.5H312.7V426.8L310.5 430H209Z" fill="#fff" stroke="#3b86d8" stroke-width="0.8" stroke-linejoin="round"/>
<path d="M209 425.7H310.5V430M310.5 425.7L312.7 422.5" fill="none" stroke="#3b86d8" stroke-width="0.8" stroke-linejoin="round"/>
<path d="M310.5 425.7L312.7 422.5H349.2V426.8L347 430H310.5Z" fill="#e4eed8" stroke="#6a9a48" stroke-width="0.8" stroke-linejoin="round"/>
<path d="M310.5 425.7H347V430M347 425.7L349.2 422.5" fill="none" stroke="#6a9a48" stroke-width="0.8" stroke-linejoin="round"/>
<path d="M347.5 425.7L349.7 422.5H365.7V426.8L363.5 430H347.5Z" fill="#fff4c8" stroke="#f0c020" stroke-width="0.8" stroke-linejoin="round"/>
<path d="M347.5 425.7H363.5V430M363.5 425.7L365.7 422.5" fill="none" stroke="#f0c020" stroke-width="0.8" stroke-linejoin="round"/>
<text x="71.75" y="372.80" font-size="7" textLength="33.25" lengthAdjust="spacingAndGlyphs" fill="#000">160×160×1</text>
<text x="111.25" y="372.80" font-size="7" textLength="37.00" lengthAdjust="spacingAndGlyphs" fill="#000">160×160×64</text>
<text x="155.75" y="372.80" font-size="7" textLength="41.25" lengthAdjust="spacingAndGlyphs" fill="#000">160×160×128</text>
<text x="183.00" y="390.30" font-size="7" textLength="33.75" lengthAdjust="spacingAndGlyphs" fill="#000">80×80×128</text>
<text x="262.50" y="422.30" font-size="7" textLength="37.50" lengthAdjust="spacingAndGlyphs" fill="#000">1×1×819200</text>
<text x="317.00" y="422.30" font-size="7" textLength="23.00" lengthAdjust="spacingAndGlyphs" fill="#000">1×1×96</text>
<text x="348.75" y="422.30" font-size="7" textLength="19.25" lengthAdjust="spacingAndGlyphs" fill="#000">1×1×2</text>
</g>
<path d="M394.5 413.2L397.8 410.2H436.8V416.4L433.5 419.4H394.5Z" fill="#fff" stroke="#333" stroke-width="0.9" stroke-linejoin="round"/>
<path d="M394.5 413.2H433.5V419.4M433.5 413.2L436.8 410.2" fill="none" stroke="#333" stroke-width="0.9" stroke-linejoin="round"/>
<text x="447.00" y="417.20" font-size="8.6" font-weight="bold" stroke="#111" stroke-width="0.18" textLength="46.00" lengthAdjust="spacingAndGlyphs" xml:space="preserve">con2d + relu</text>
<path d="M394.5 424.59999999999997L397.8 421.59999999999997H436.8V427.79999999999995L433.5 430.79999999999995H394.5Z" fill="#fff" stroke="#f05050" stroke-width="0.9" stroke-linejoin="round"/>
<path d="M394.5 424.59999999999997H433.5V430.79999999999995M433.5 424.59999999999997L436.8 421.59999999999997" fill="none" stroke="#f05050" stroke-width="0.9" stroke-linejoin="round"/>
<text x="447.00" y="428.60" font-size="8.6" font-weight="bold" stroke="#111" stroke-width="0.18" textLength="46.00" lengthAdjust="spacingAndGlyphs" xml:space="preserve">max pooling</text>
<path d="M394.5 435.8L397.8 432.8H436.8V439.0L433.5 442.0H394.5Z" fill="#fff" stroke="#3b86d8" stroke-width="0.9" stroke-linejoin="round"/>
<path d="M394.5 435.8H433.5V442.0M433.5 435.8L436.8 432.8" fill="none" stroke="#3b86d8" stroke-width="0.9" stroke-linejoin="round"/>
<text x="447.00" y="439.80" font-size="8.6" font-weight="bold" stroke="#111" stroke-width="0.18" textLength="24.25" lengthAdjust="spacingAndGlyphs" xml:space="preserve">flatten</text>
<path d="M394.5 447.5L397.8 444.5H436.8V450.7L433.5 453.7H394.5Z" fill="#fff" stroke="#6a9a48" stroke-width="0.9" stroke-linejoin="round"/>
<path d="M394.5 447.5H433.5V453.7M433.5 447.5L436.8 444.5" fill="none" stroke="#6a9a48" stroke-width="0.9" stroke-linejoin="round"/>
<text x="447.00" y="450.70" font-size="8.6" font-weight="bold" stroke="#111" stroke-width="0.18" textLength="83.30" lengthAdjust="spacingAndGlyphs" xml:space="preserve">fully connected  + relu</text>
<path d="M394.5 459.5L397.8 456.5H436.8V462.7L433.5 465.7H394.5Z" fill="#fff" stroke="#f0c020" stroke-width="0.9" stroke-linejoin="round"/>
<path d="M394.5 459.5H433.5V465.7M433.5 459.5L436.8 456.5" fill="none" stroke="#f0c020" stroke-width="0.9" stroke-linejoin="round"/>
<text x="447.00" y="462.50" font-size="8.6" font-weight="bold" stroke="#111" stroke-width="0.18" textLength="30.50" lengthAdjust="spacingAndGlyphs" xml:space="preserve">Softmax</text>
</svg></body></html>
